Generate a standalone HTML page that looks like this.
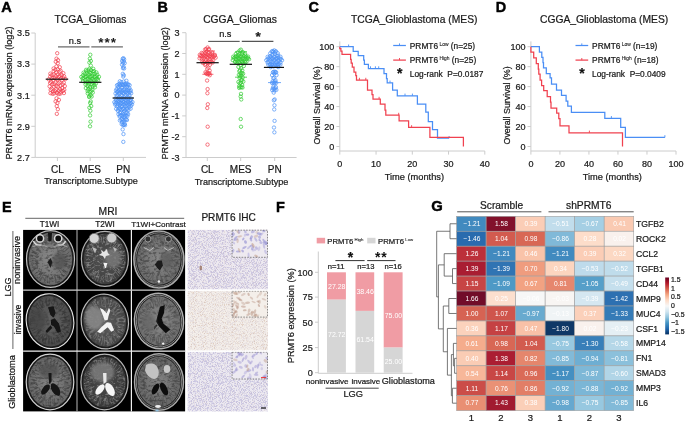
<!DOCTYPE html>
<html><head><meta charset="utf-8"><style>
html,body{margin:0;padding:0;background:#fff;}
svg{display:block;font-family:"Liberation Sans", sans-serif;will-change:transform;}
</style></head><body>
<svg width="685" height="421" viewBox="0 0 685 421">
<defs><clipPath id="c00"><rect x="23.1" y="229.9" width="53.40" height="59.80"/></clipPath>
<clipPath id="c10"><rect x="77.5" y="229.9" width="53.40" height="59.80"/></clipPath>
<clipPath id="c20"><rect x="131.9" y="229.9" width="53.20" height="59.80"/></clipPath>
<clipPath id="c01"><rect x="23.1" y="290.7" width="53.40" height="60.00"/></clipPath>
<clipPath id="c11"><rect x="77.5" y="290.7" width="53.40" height="60.00"/></clipPath>
<clipPath id="c21"><rect x="131.9" y="290.7" width="53.20" height="60.00"/></clipPath>
<clipPath id="c02"><rect x="23.1" y="351.7" width="53.40" height="59.70"/></clipPath>
<clipPath id="c12"><rect x="77.5" y="351.7" width="53.40" height="59.70"/></clipPath>
<clipPath id="c22"><rect x="131.9" y="351.7" width="53.20" height="59.70"/></clipPath>
<clipPath id="ins0"><rect x="231.7" y="229.9" width="36.2" height="27.7"/></clipPath>
<clipPath id="ins1"><rect x="231.7" y="290.8" width="36.2" height="26.6"/></clipPath>
<clipPath id="ins2"><rect x="231.7" y="351.8" width="36.2" height="27.5"/></clipPath>
<filter id="texD" x="0" y="0" width="100%" height="100%"><feTurbulence type="fractalNoise" baseFrequency="0.28 0.4" numOctaves="3" seed="11"/><feColorMatrix type="matrix" values="0 0 0 0 0  0 0 0 0 0  0 0 0 0 0  -4 0 0 0 2.1"/><feComposite in2="SourceGraphic" operator="in"/></filter>
<filter id="texL" x="0" y="0" width="100%" height="100%"><feTurbulence type="fractalNoise" baseFrequency="0.3 0.45" numOctaves="3" seed="4"/><feColorMatrix type="matrix" values="0 0 0 0 1  0 0 0 0 1  0 0 0 0 1  4 0 0 0 -2.1"/><feComposite in2="SourceGraphic" operator="in"/></filter>
<filter id="bl"><feGaussianBlur stdDeviation="0.6"/></filter>
<filter id="mblur" x="-5%" y="-5%" width="110%" height="110%"><feGaussianBlur stdDeviation="0.4"/></filter>
<filter id="bl2"><feGaussianBlur stdDeviation="1.5"/></filter>
<radialGradient id="g00" cx="50%" cy="50%" r="55%"><stop offset="0" stop-color="#8c8c8c"/><stop offset="1" stop-color="#666666"/></radialGradient>
<radialGradient id="g10" cx="50%" cy="50%" r="55%"><stop offset="0" stop-color="#555555"/><stop offset="1" stop-color="#3a3a3a"/></radialGradient>
<radialGradient id="g20" cx="50%" cy="50%" r="55%"><stop offset="0" stop-color="#888888"/><stop offset="1" stop-color="#686868"/></radialGradient>
<radialGradient id="g01" cx="50%" cy="50%" r="55%"><stop offset="0" stop-color="#646464"/><stop offset="1" stop-color="#4c4c4c"/></radialGradient>
<radialGradient id="g11" cx="50%" cy="50%" r="55%"><stop offset="0" stop-color="#5e5e5e"/><stop offset="1" stop-color="#3e3e3e"/></radialGradient>
<radialGradient id="g21" cx="50%" cy="50%" r="55%"><stop offset="0" stop-color="#8c8c8c"/><stop offset="1" stop-color="#6c6c6c"/></radialGradient>
<radialGradient id="g02" cx="50%" cy="50%" r="55%"><stop offset="0" stop-color="#868686"/><stop offset="1" stop-color="#626262"/></radialGradient>
<radialGradient id="g12" cx="50%" cy="50%" r="55%"><stop offset="0" stop-color="#4c4c4c"/><stop offset="1" stop-color="#363636"/></radialGradient>
<radialGradient id="g22" cx="50%" cy="50%" r="55%"><stop offset="0" stop-color="#828282"/><stop offset="1" stop-color="#646464"/></radialGradient>
<linearGradient id="cbar" x1="0" y1="0" x2="0" y2="1"><stop offset="0.00" stop-color="#67001F"/><stop offset="0.10" stop-color="#B2182B"/><stop offset="0.20" stop-color="#D6604D"/><stop offset="0.30" stop-color="#F4A582"/><stop offset="0.40" stop-color="#FDDBC7"/><stop offset="0.50" stop-color="#F7F7F7"/><stop offset="0.60" stop-color="#D1E5F0"/><stop offset="0.70" stop-color="#92C5DE"/><stop offset="0.80" stop-color="#4393C3"/><stop offset="0.90" stop-color="#2166AC"/><stop offset="1.00" stop-color="#053061"/></linearGradient>
<filter id="noise" x="0" y="0" width="100%" height="100%"><feTurbulence type="fractalNoise" baseFrequency="1.2" numOctaves="2" seed="3" result="t"/><feColorMatrix in="t" type="matrix" values="0 0 0 0 0  0 0 0 0 0  0 0 0 0 0  5 0 0 0 -2.2" result="a"/><feComposite in="SourceGraphic" in2="a" operator="in"/><feGaussianBlur stdDeviation="0.25"/></filter>
<filter id="noise3" x="0" y="0" width="100%" height="100%"><feTurbulence type="fractalNoise" baseFrequency="1.1" numOctaves="1" seed="9" result="t"/><feColorMatrix in="t" type="matrix" values="0 0 0 0 0  0 0 0 0 0  0 0 0 0 0  7 0 0 0 -3.9" result="a"/><feComposite in="SourceGraphic" in2="a" operator="in"/><feGaussianBlur stdDeviation="0.25"/></filter>
<filter id="bl05"><feGaussianBlur stdDeviation="0.6"/></filter>
<filter id="noise2" x="0" y="0" width="100%" height="100%"><feTurbulence type="fractalNoise" baseFrequency="0.42 0.3" numOctaves="2" seed="5" result="t"/><feColorMatrix in="t" type="matrix" values="0 0 0 0 0  0 0 0 0 0  0 0 0 0 0  8 0 0 0 -4.4" result="a"/><feComposite in="SourceGraphic" in2="a" operator="in"/></filter>
</defs>
<rect width="685" height="421" fill="#fff"/>
<text x="1.20" y="12.20" font-size="14.6" text-anchor="start" font-weight="bold" fill="#000" stroke="#000" stroke-width="0.45">A</text>
<text x="90.50" y="23.00" font-size="10.25" text-anchor="middle" fill="#1a1a1a" stroke="#1a1a1a" stroke-width="0.22">TCGA_Gliomas</text>
<line x1="35.20" y1="33.00" x2="35.20" y2="157.40" stroke="#cccccc" stroke-width="1"/>
<line x1="35.20" y1="157.40" x2="146.00" y2="157.40" stroke="#cccccc" stroke-width="1"/>
<line x1="31.30" y1="33.00" x2="35.20" y2="33.00" stroke="#cccccc" stroke-width="1"/>
<text x="29.70" y="36.30" font-size="9.06" text-anchor="end" fill="#1a1a1a" stroke="#1a1a1a" stroke-width="0.22">3.5</text>
<line x1="31.30" y1="64.10" x2="35.20" y2="64.10" stroke="#cccccc" stroke-width="1"/>
<text x="29.70" y="67.40" font-size="9.06" text-anchor="end" fill="#1a1a1a" stroke="#1a1a1a" stroke-width="0.22">3.3</text>
<line x1="31.30" y1="95.20" x2="35.20" y2="95.20" stroke="#cccccc" stroke-width="1"/>
<text x="29.70" y="98.50" font-size="9.06" text-anchor="end" fill="#1a1a1a" stroke="#1a1a1a" stroke-width="0.22">3.1</text>
<line x1="31.30" y1="126.30" x2="35.20" y2="126.30" stroke="#cccccc" stroke-width="1"/>
<text x="29.70" y="129.60" font-size="9.06" text-anchor="end" fill="#1a1a1a" stroke="#1a1a1a" stroke-width="0.22">2.9</text>
<line x1="31.30" y1="157.40" x2="35.20" y2="157.40" stroke="#cccccc" stroke-width="1"/>
<text x="29.70" y="160.70" font-size="9.06" text-anchor="end" fill="#1a1a1a" stroke="#1a1a1a" stroke-width="0.22">2.7</text>
<line x1="57.40" y1="157.40" x2="57.40" y2="161.00" stroke="#cccccc" stroke-width="1"/>
<text x="57.40" y="172.80" font-size="10" text-anchor="middle" fill="#1a1a1a" stroke="#1a1a1a" stroke-width="0.22">CL</text>
<line x1="90.20" y1="157.40" x2="90.20" y2="161.00" stroke="#cccccc" stroke-width="1"/>
<text x="90.20" y="172.80" font-size="10" text-anchor="middle" fill="#1a1a1a" stroke="#1a1a1a" stroke-width="0.22">MES</text>
<line x1="123.30" y1="157.40" x2="123.30" y2="161.00" stroke="#cccccc" stroke-width="1"/>
<text x="123.30" y="172.80" font-size="10" text-anchor="middle" fill="#1a1a1a" stroke="#1a1a1a" stroke-width="0.22">PN</text>
<text x="91.00" y="184.30" font-size="9.1" text-anchor="middle" fill="#1a1a1a" stroke="#1a1a1a" stroke-width="0.22">Transcriptome.Subtype</text>
<text x="12.20" y="93.00" font-size="9.2" text-anchor="middle" fill="#1a1a1a" stroke="#1a1a1a" stroke-width="0.22" transform="rotate(-90 12.2 93.0)">PRMT6 mRNA expression (log2)</text>
<line x1="58.00" y1="46.90" x2="89.50" y2="46.90" stroke="#555" stroke-width="1.1"/>
<line x1="91.30" y1="46.90" x2="122.90" y2="46.90" stroke="#555" stroke-width="1.1"/>
<text x="74.90" y="43.50" font-size="9.2" text-anchor="middle" fill="#1a1a1a" stroke="#1a1a1a" stroke-width="0.22">n.s</text>
<text x="98.3" y="46.75" font-size="13.5" font-weight="bold" letter-spacing="1" fill="#1a1a1a">***</text>
<circle cx="57.20" cy="53.22" r="1.7" fill="none" stroke="#f2404f" stroke-width="0.72"/>
<circle cx="56.50" cy="58.66" r="1.7" fill="none" stroke="#f2404f" stroke-width="0.72"/>
<circle cx="58.04" cy="60.21" r="1.7" fill="none" stroke="#f2404f" stroke-width="0.72"/>
<circle cx="55.77" cy="61.77" r="1.7" fill="none" stroke="#f2404f" stroke-width="0.72"/>
<circle cx="57.74" cy="63.32" r="1.7" fill="none" stroke="#f2404f" stroke-width="0.72"/>
<circle cx="56.44" cy="66.36" r="1.7" fill="none" stroke="#f2404f" stroke-width="0.72"/>
<circle cx="59.78" cy="67.20" r="1.7" fill="none" stroke="#f2404f" stroke-width="0.72"/>
<circle cx="53.62" cy="68.45" r="1.7" fill="none" stroke="#f2404f" stroke-width="0.72"/>
<circle cx="57.78" cy="69.34" r="1.7" fill="none" stroke="#f2404f" stroke-width="0.72"/>
<circle cx="55.36" cy="69.84" r="1.7" fill="none" stroke="#f2404f" stroke-width="0.72"/>
<circle cx="60.64" cy="70.77" r="1.7" fill="none" stroke="#f2404f" stroke-width="0.72"/>
<circle cx="53.63" cy="71.09" r="1.7" fill="none" stroke="#f2404f" stroke-width="0.72"/>
<circle cx="59.50" cy="71.73" r="1.7" fill="none" stroke="#f2404f" stroke-width="0.72"/>
<circle cx="56.39" cy="72.30" r="1.7" fill="none" stroke="#f2404f" stroke-width="0.72"/>
<circle cx="63.38" cy="73.21" r="1.7" fill="none" stroke="#f2404f" stroke-width="0.72"/>
<circle cx="50.34" cy="73.65" r="1.7" fill="none" stroke="#f2404f" stroke-width="0.72"/>
<circle cx="57.68" cy="74.45" r="1.7" fill="none" stroke="#f2404f" stroke-width="0.72"/>
<circle cx="53.78" cy="74.55" r="1.7" fill="none" stroke="#f2404f" stroke-width="0.72"/>
<circle cx="61.68" cy="74.86" r="1.7" fill="none" stroke="#f2404f" stroke-width="0.72"/>
<circle cx="51.65" cy="75.10" r="1.7" fill="none" stroke="#f2404f" stroke-width="0.72"/>
<circle cx="59.81" cy="75.78" r="1.7" fill="none" stroke="#f2404f" stroke-width="0.72"/>
<circle cx="55.62" cy="75.97" r="1.7" fill="none" stroke="#f2404f" stroke-width="0.72"/>
<circle cx="64.12" cy="76.32" r="1.7" fill="none" stroke="#f2404f" stroke-width="0.72"/>
<circle cx="50.21" cy="76.66" r="1.7" fill="none" stroke="#f2404f" stroke-width="0.72"/>
<circle cx="58.82" cy="76.83" r="1.7" fill="none" stroke="#f2404f" stroke-width="0.72"/>
<circle cx="54.45" cy="77.90" r="1.7" fill="none" stroke="#f2404f" stroke-width="0.72"/>
<circle cx="63.24" cy="78.02" r="1.7" fill="none" stroke="#f2404f" stroke-width="0.72"/>
<circle cx="52.25" cy="78.15" r="1.7" fill="none" stroke="#f2404f" stroke-width="0.72"/>
<circle cx="61.05" cy="78.23" r="1.7" fill="none" stroke="#f2404f" stroke-width="0.72"/>
<circle cx="56.65" cy="78.72" r="1.7" fill="none" stroke="#f2404f" stroke-width="0.72"/>
<circle cx="65.44" cy="79.02" r="1.7" fill="none" stroke="#f2404f" stroke-width="0.72"/>
<circle cx="48.71" cy="79.37" r="1.7" fill="none" stroke="#f2404f" stroke-width="0.72"/>
<circle cx="57.47" cy="79.68" r="1.7" fill="none" stroke="#f2404f" stroke-width="0.72"/>
<circle cx="53.13" cy="80.13" r="1.7" fill="none" stroke="#f2404f" stroke-width="0.72"/>
<circle cx="61.81" cy="80.21" r="1.7" fill="none" stroke="#f2404f" stroke-width="0.72"/>
<circle cx="51.09" cy="81.81" r="1.7" fill="none" stroke="#f2404f" stroke-width="0.72"/>
<circle cx="59.57" cy="82.39" r="1.7" fill="none" stroke="#f2404f" stroke-width="0.72"/>
<circle cx="55.36" cy="82.57" r="1.7" fill="none" stroke="#f2404f" stroke-width="0.72"/>
<circle cx="63.78" cy="82.66" r="1.7" fill="none" stroke="#f2404f" stroke-width="0.72"/>
<circle cx="50.12" cy="83.17" r="1.7" fill="none" stroke="#f2404f" stroke-width="0.72"/>
<circle cx="58.51" cy="83.48" r="1.7" fill="none" stroke="#f2404f" stroke-width="0.72"/>
<circle cx="54.33" cy="84.20" r="1.7" fill="none" stroke="#f2404f" stroke-width="0.72"/>
<circle cx="62.68" cy="84.40" r="1.7" fill="none" stroke="#f2404f" stroke-width="0.72"/>
<circle cx="52.24" cy="84.41" r="1.7" fill="none" stroke="#f2404f" stroke-width="0.72"/>
<circle cx="60.59" cy="85.63" r="1.7" fill="none" stroke="#f2404f" stroke-width="0.72"/>
<circle cx="56.42" cy="85.92" r="1.7" fill="none" stroke="#f2404f" stroke-width="0.72"/>
<circle cx="64.78" cy="86.09" r="1.7" fill="none" stroke="#f2404f" stroke-width="0.72"/>
<circle cx="49.62" cy="86.34" r="1.7" fill="none" stroke="#f2404f" stroke-width="0.72"/>
<circle cx="57.99" cy="86.64" r="1.7" fill="none" stroke="#f2404f" stroke-width="0.72"/>
<circle cx="53.80" cy="86.69" r="1.7" fill="none" stroke="#f2404f" stroke-width="0.72"/>
<circle cx="62.20" cy="87.99" r="1.7" fill="none" stroke="#f2404f" stroke-width="0.72"/>
<circle cx="51.67" cy="88.60" r="1.7" fill="none" stroke="#f2404f" stroke-width="0.72"/>
<circle cx="60.09" cy="89.11" r="1.7" fill="none" stroke="#f2404f" stroke-width="0.72"/>
<circle cx="55.89" cy="89.48" r="1.7" fill="none" stroke="#f2404f" stroke-width="0.72"/>
<circle cx="64.25" cy="89.75" r="1.7" fill="none" stroke="#f2404f" stroke-width="0.72"/>
<circle cx="50.68" cy="89.86" r="1.7" fill="none" stroke="#f2404f" stroke-width="0.72"/>
<circle cx="58.98" cy="90.74" r="1.7" fill="none" stroke="#f2404f" stroke-width="0.72"/>
<circle cx="54.92" cy="90.94" r="1.7" fill="none" stroke="#f2404f" stroke-width="0.72"/>
<circle cx="62.99" cy="91.04" r="1.7" fill="none" stroke="#f2404f" stroke-width="0.72"/>
<circle cx="53.02" cy="91.54" r="1.7" fill="none" stroke="#f2404f" stroke-width="0.72"/>
<circle cx="60.85" cy="91.72" r="1.7" fill="none" stroke="#f2404f" stroke-width="0.72"/>
<circle cx="56.97" cy="92.52" r="1.7" fill="none" stroke="#f2404f" stroke-width="0.72"/>
<circle cx="63.93" cy="93.06" r="1.7" fill="none" stroke="#f2404f" stroke-width="0.72"/>
<circle cx="50.42" cy="93.14" r="1.7" fill="none" stroke="#f2404f" stroke-width="0.72"/>
<circle cx="57.31" cy="93.34" r="1.7" fill="none" stroke="#f2404f" stroke-width="0.72"/>
<circle cx="53.98" cy="93.44" r="1.7" fill="none" stroke="#f2404f" stroke-width="0.72"/>
<circle cx="60.61" cy="93.49" r="1.7" fill="none" stroke="#f2404f" stroke-width="0.72"/>
<circle cx="52.55" cy="93.82" r="1.7" fill="none" stroke="#f2404f" stroke-width="0.72"/>
<circle cx="58.82" cy="94.09" r="1.7" fill="none" stroke="#f2404f" stroke-width="0.72"/>
<circle cx="56.54" cy="98.31" r="1.7" fill="none" stroke="#f2404f" stroke-width="0.72"/>
<circle cx="58.90" cy="99.87" r="1.7" fill="none" stroke="#f2404f" stroke-width="0.72"/>
<circle cx="55.57" cy="101.42" r="1.7" fill="none" stroke="#f2404f" stroke-width="0.72"/>
<circle cx="57.43" cy="102.98" r="1.7" fill="none" stroke="#f2404f" stroke-width="0.72"/>
<circle cx="56.74" cy="106.09" r="1.7" fill="none" stroke="#f2404f" stroke-width="0.72"/>
<circle cx="57.83" cy="109.20" r="1.7" fill="none" stroke="#f2404f" stroke-width="0.72"/>
<circle cx="56.83" cy="113.86" r="1.7" fill="none" stroke="#f2404f" stroke-width="0.72"/>
<circle cx="90.30" cy="54.77" r="1.7" fill="none" stroke="#33cc33" stroke-width="0.72"/>
<circle cx="89.85" cy="58.66" r="1.7" fill="none" stroke="#33cc33" stroke-width="0.72"/>
<circle cx="90.84" cy="60.99" r="1.7" fill="none" stroke="#33cc33" stroke-width="0.72"/>
<circle cx="89.39" cy="62.55" r="1.7" fill="none" stroke="#33cc33" stroke-width="0.72"/>
<circle cx="90.79" cy="65.57" r="1.7" fill="none" stroke="#33cc33" stroke-width="0.72"/>
<circle cx="89.33" cy="68.69" r="1.7" fill="none" stroke="#33cc33" stroke-width="0.72"/>
<circle cx="93.27" cy="68.81" r="1.7" fill="none" stroke="#33cc33" stroke-width="0.72"/>
<circle cx="86.11" cy="69.81" r="1.7" fill="none" stroke="#33cc33" stroke-width="0.72"/>
<circle cx="90.92" cy="69.98" r="1.7" fill="none" stroke="#33cc33" stroke-width="0.72"/>
<circle cx="88.35" cy="70.28" r="1.7" fill="none" stroke="#33cc33" stroke-width="0.72"/>
<circle cx="94.02" cy="71.18" r="1.7" fill="none" stroke="#33cc33" stroke-width="0.72"/>
<circle cx="86.55" cy="71.24" r="1.7" fill="none" stroke="#33cc33" stroke-width="0.72"/>
<circle cx="92.60" cy="71.40" r="1.7" fill="none" stroke="#33cc33" stroke-width="0.72"/>
<circle cx="89.44" cy="72.30" r="1.7" fill="none" stroke="#33cc33" stroke-width="0.72"/>
<circle cx="96.41" cy="72.43" r="1.7" fill="none" stroke="#33cc33" stroke-width="0.72"/>
<circle cx="83.60" cy="72.64" r="1.7" fill="none" stroke="#33cc33" stroke-width="0.72"/>
<circle cx="90.77" cy="73.11" r="1.7" fill="none" stroke="#33cc33" stroke-width="0.72"/>
<circle cx="86.97" cy="73.28" r="1.7" fill="none" stroke="#33cc33" stroke-width="0.72"/>
<circle cx="94.72" cy="73.61" r="1.7" fill="none" stroke="#33cc33" stroke-width="0.72"/>
<circle cx="84.82" cy="73.78" r="1.7" fill="none" stroke="#33cc33" stroke-width="0.72"/>
<circle cx="92.80" cy="73.85" r="1.7" fill="none" stroke="#33cc33" stroke-width="0.72"/>
<circle cx="88.72" cy="74.53" r="1.7" fill="none" stroke="#33cc33" stroke-width="0.72"/>
<circle cx="97.20" cy="74.66" r="1.7" fill="none" stroke="#33cc33" stroke-width="0.72"/>
<circle cx="83.15" cy="75.27" r="1.7" fill="none" stroke="#33cc33" stroke-width="0.72"/>
<circle cx="92.01" cy="76.15" r="1.7" fill="none" stroke="#33cc33" stroke-width="0.72"/>
<circle cx="87.44" cy="76.29" r="1.7" fill="none" stroke="#33cc33" stroke-width="0.72"/>
<circle cx="96.61" cy="76.39" r="1.7" fill="none" stroke="#33cc33" stroke-width="0.72"/>
<circle cx="85.10" cy="76.71" r="1.7" fill="none" stroke="#33cc33" stroke-width="0.72"/>
<circle cx="94.35" cy="76.73" r="1.7" fill="none" stroke="#33cc33" stroke-width="0.72"/>
<circle cx="89.72" cy="76.75" r="1.7" fill="none" stroke="#33cc33" stroke-width="0.72"/>
<circle cx="98.98" cy="76.81" r="1.7" fill="none" stroke="#33cc33" stroke-width="0.72"/>
<circle cx="81.31" cy="76.91" r="1.7" fill="none" stroke="#33cc33" stroke-width="0.72"/>
<circle cx="90.59" cy="76.95" r="1.7" fill="none" stroke="#33cc33" stroke-width="0.72"/>
<circle cx="85.94" cy="77.09" r="1.7" fill="none" stroke="#33cc33" stroke-width="0.72"/>
<circle cx="95.24" cy="77.17" r="1.7" fill="none" stroke="#33cc33" stroke-width="0.72"/>
<circle cx="83.62" cy="77.83" r="1.7" fill="none" stroke="#33cc33" stroke-width="0.72"/>
<circle cx="92.89" cy="78.43" r="1.7" fill="none" stroke="#33cc33" stroke-width="0.72"/>
<circle cx="88.29" cy="78.52" r="1.7" fill="none" stroke="#33cc33" stroke-width="0.72"/>
<circle cx="97.45" cy="78.68" r="1.7" fill="none" stroke="#33cc33" stroke-width="0.72"/>
<circle cx="82.58" cy="78.68" r="1.7" fill="none" stroke="#33cc33" stroke-width="0.72"/>
<circle cx="91.71" cy="79.05" r="1.7" fill="none" stroke="#33cc33" stroke-width="0.72"/>
<circle cx="87.22" cy="79.29" r="1.7" fill="none" stroke="#33cc33" stroke-width="0.72"/>
<circle cx="96.17" cy="79.34" r="1.7" fill="none" stroke="#33cc33" stroke-width="0.72"/>
<circle cx="85.15" cy="79.98" r="1.7" fill="none" stroke="#33cc33" stroke-width="0.72"/>
<circle cx="93.82" cy="80.02" r="1.7" fill="none" stroke="#33cc33" stroke-width="0.72"/>
<circle cx="89.49" cy="80.10" r="1.7" fill="none" stroke="#33cc33" stroke-width="0.72"/>
<circle cx="98.03" cy="80.27" r="1.7" fill="none" stroke="#33cc33" stroke-width="0.72"/>
<circle cx="82.92" cy="81.00" r="1.7" fill="none" stroke="#33cc33" stroke-width="0.72"/>
<circle cx="91.05" cy="81.20" r="1.7" fill="none" stroke="#33cc33" stroke-width="0.72"/>
<circle cx="87.30" cy="82.25" r="1.7" fill="none" stroke="#33cc33" stroke-width="0.72"/>
<circle cx="94.65" cy="82.36" r="1.7" fill="none" stroke="#33cc33" stroke-width="0.72"/>
<circle cx="85.49" cy="82.37" r="1.7" fill="none" stroke="#33cc33" stroke-width="0.72"/>
<circle cx="92.78" cy="82.57" r="1.7" fill="none" stroke="#33cc33" stroke-width="0.72"/>
<circle cx="89.18" cy="82.64" r="1.7" fill="none" stroke="#33cc33" stroke-width="0.72"/>
<circle cx="95.90" cy="83.52" r="1.7" fill="none" stroke="#33cc33" stroke-width="0.72"/>
<circle cx="85.51" cy="84.43" r="1.7" fill="none" stroke="#33cc33" stroke-width="0.72"/>
<circle cx="91.63" cy="84.53" r="1.7" fill="none" stroke="#33cc33" stroke-width="0.72"/>
<circle cx="88.61" cy="84.66" r="1.7" fill="none" stroke="#33cc33" stroke-width="0.72"/>
<circle cx="94.37" cy="85.33" r="1.7" fill="none" stroke="#33cc33" stroke-width="0.72"/>
<circle cx="87.49" cy="86.13" r="1.7" fill="none" stroke="#33cc33" stroke-width="0.72"/>
<circle cx="92.74" cy="86.35" r="1.7" fill="none" stroke="#33cc33" stroke-width="0.72"/>
<circle cx="90.14" cy="86.93" r="1.7" fill="none" stroke="#33cc33" stroke-width="0.72"/>
<circle cx="94.96" cy="87.32" r="1.7" fill="none" stroke="#33cc33" stroke-width="0.72"/>
<circle cx="85.83" cy="88.05" r="1.7" fill="none" stroke="#33cc33" stroke-width="0.72"/>
<circle cx="90.37" cy="88.73" r="1.7" fill="none" stroke="#33cc33" stroke-width="0.72"/>
<circle cx="88.28" cy="89.19" r="1.7" fill="none" stroke="#33cc33" stroke-width="0.72"/>
<circle cx="92.34" cy="89.91" r="1.7" fill="none" stroke="#33cc33" stroke-width="0.72"/>
<circle cx="87.65" cy="91.07" r="1.7" fill="none" stroke="#33cc33" stroke-width="0.72"/>
<circle cx="91.24" cy="91.40" r="1.7" fill="none" stroke="#33cc33" stroke-width="0.72"/>
<circle cx="89.51" cy="91.93" r="1.7" fill="none" stroke="#33cc33" stroke-width="0.72"/>
<circle cx="92.76" cy="92.54" r="1.7" fill="none" stroke="#33cc33" stroke-width="0.72"/>
<circle cx="87.74" cy="93.40" r="1.7" fill="none" stroke="#33cc33" stroke-width="0.72"/>
<circle cx="90.65" cy="95.29" r="1.7" fill="none" stroke="#33cc33" stroke-width="0.72"/>
<circle cx="89.49" cy="95.98" r="1.7" fill="none" stroke="#33cc33" stroke-width="0.72"/>
<circle cx="91.65" cy="96.55" r="1.7" fill="none" stroke="#33cc33" stroke-width="0.72"/>
<circle cx="89.09" cy="97.00" r="1.7" fill="none" stroke="#33cc33" stroke-width="0.72"/>
<circle cx="90.76" cy="101.42" r="1.7" fill="none" stroke="#33cc33" stroke-width="0.72"/>
<circle cx="90.18" cy="102.98" r="1.7" fill="none" stroke="#33cc33" stroke-width="0.72"/>
<circle cx="91.21" cy="106.09" r="1.7" fill="none" stroke="#33cc33" stroke-width="0.72"/>
<circle cx="89.41" cy="107.64" r="1.7" fill="none" stroke="#33cc33" stroke-width="0.72"/>
<circle cx="90.36" cy="110.75" r="1.7" fill="none" stroke="#33cc33" stroke-width="0.72"/>
<circle cx="90.09" cy="115.41" r="1.7" fill="none" stroke="#33cc33" stroke-width="0.72"/>
<circle cx="90.57" cy="121.64" r="1.7" fill="none" stroke="#33cc33" stroke-width="0.72"/>
<circle cx="90.02" cy="126.30" r="1.7" fill="none" stroke="#33cc33" stroke-width="0.72"/>
<circle cx="123.40" cy="58.19" r="1.7" fill="none" stroke="#4d92f6" stroke-width="0.72"/>
<circle cx="122.72" cy="58.89" r="1.7" fill="none" stroke="#4d92f6" stroke-width="0.72"/>
<circle cx="124.12" cy="59.36" r="1.7" fill="none" stroke="#4d92f6" stroke-width="0.72"/>
<circle cx="122.16" cy="61.08" r="1.7" fill="none" stroke="#4d92f6" stroke-width="0.72"/>
<circle cx="123.82" cy="61.52" r="1.7" fill="none" stroke="#4d92f6" stroke-width="0.72"/>
<circle cx="122.98" cy="62.86" r="1.7" fill="none" stroke="#4d92f6" stroke-width="0.72"/>
<circle cx="124.66" cy="63.09" r="1.7" fill="none" stroke="#4d92f6" stroke-width="0.72"/>
<circle cx="122.02" cy="64.60" r="1.7" fill="none" stroke="#4d92f6" stroke-width="0.72"/>
<circle cx="123.57" cy="66.71" r="1.7" fill="none" stroke="#4d92f6" stroke-width="0.72"/>
<circle cx="122.97" cy="68.16" r="1.7" fill="none" stroke="#4d92f6" stroke-width="0.72"/>
<circle cx="124.10" cy="68.45" r="1.7" fill="none" stroke="#4d92f6" stroke-width="0.72"/>
<circle cx="122.84" cy="73.83" r="1.7" fill="none" stroke="#4d92f6" stroke-width="0.72"/>
<circle cx="123.79" cy="75.23" r="1.7" fill="none" stroke="#4d92f6" stroke-width="0.72"/>
<circle cx="123.24" cy="76.59" r="1.7" fill="none" stroke="#4d92f6" stroke-width="0.72"/>
<circle cx="126.37" cy="80.77" r="1.7" fill="none" stroke="#4d92f6" stroke-width="0.72"/>
<circle cx="119.82" cy="81.31" r="1.7" fill="none" stroke="#4d92f6" stroke-width="0.72"/>
<circle cx="123.65" cy="81.50" r="1.7" fill="none" stroke="#4d92f6" stroke-width="0.72"/>
<circle cx="121.43" cy="82.15" r="1.7" fill="none" stroke="#4d92f6" stroke-width="0.72"/>
<circle cx="126.49" cy="83.42" r="1.7" fill="none" stroke="#4d92f6" stroke-width="0.72"/>
<circle cx="119.51" cy="83.66" r="1.7" fill="none" stroke="#4d92f6" stroke-width="0.72"/>
<circle cx="125.24" cy="84.00" r="1.7" fill="none" stroke="#4d92f6" stroke-width="0.72"/>
<circle cx="122.27" cy="84.18" r="1.7" fill="none" stroke="#4d92f6" stroke-width="0.72"/>
<circle cx="128.35" cy="84.32" r="1.7" fill="none" stroke="#4d92f6" stroke-width="0.72"/>
<circle cx="118.34" cy="84.53" r="1.7" fill="none" stroke="#4d92f6" stroke-width="0.72"/>
<circle cx="124.59" cy="84.72" r="1.7" fill="none" stroke="#4d92f6" stroke-width="0.72"/>
<circle cx="121.42" cy="84.73" r="1.7" fill="none" stroke="#4d92f6" stroke-width="0.72"/>
<circle cx="127.79" cy="84.80" r="1.7" fill="none" stroke="#4d92f6" stroke-width="0.72"/>
<circle cx="119.80" cy="84.81" r="1.7" fill="none" stroke="#4d92f6" stroke-width="0.72"/>
<circle cx="126.21" cy="84.85" r="1.7" fill="none" stroke="#4d92f6" stroke-width="0.72"/>
<circle cx="122.99" cy="85.02" r="1.7" fill="none" stroke="#4d92f6" stroke-width="0.72"/>
<circle cx="129.59" cy="85.20" r="1.7" fill="none" stroke="#4d92f6" stroke-width="0.72"/>
<circle cx="116.97" cy="85.26" r="1.7" fill="none" stroke="#4d92f6" stroke-width="0.72"/>
<circle cx="123.61" cy="85.59" r="1.7" fill="none" stroke="#4d92f6" stroke-width="0.72"/>
<circle cx="120.17" cy="85.79" r="1.7" fill="none" stroke="#4d92f6" stroke-width="0.72"/>
<circle cx="127.26" cy="86.71" r="1.7" fill="none" stroke="#4d92f6" stroke-width="0.72"/>
<circle cx="118.18" cy="86.72" r="1.7" fill="none" stroke="#4d92f6" stroke-width="0.72"/>
<circle cx="125.44" cy="86.73" r="1.7" fill="none" stroke="#4d92f6" stroke-width="0.72"/>
<circle cx="121.76" cy="87.43" r="1.7" fill="none" stroke="#4d92f6" stroke-width="0.72"/>
<circle cx="129.45" cy="88.26" r="1.7" fill="none" stroke="#4d92f6" stroke-width="0.72"/>
<circle cx="116.73" cy="88.95" r="1.7" fill="none" stroke="#4d92f6" stroke-width="0.72"/>
<circle cx="124.65" cy="89.46" r="1.7" fill="none" stroke="#4d92f6" stroke-width="0.72"/>
<circle cx="120.65" cy="89.50" r="1.7" fill="none" stroke="#4d92f6" stroke-width="0.72"/>
<circle cx="128.67" cy="89.68" r="1.7" fill="none" stroke="#4d92f6" stroke-width="0.72"/>
<circle cx="118.62" cy="89.73" r="1.7" fill="none" stroke="#4d92f6" stroke-width="0.72"/>
<circle cx="126.68" cy="89.97" r="1.7" fill="none" stroke="#4d92f6" stroke-width="0.72"/>
<circle cx="122.64" cy="90.06" r="1.7" fill="none" stroke="#4d92f6" stroke-width="0.72"/>
<circle cx="130.76" cy="90.32" r="1.7" fill="none" stroke="#4d92f6" stroke-width="0.72"/>
<circle cx="116.03" cy="90.44" r="1.7" fill="none" stroke="#4d92f6" stroke-width="0.72"/>
<circle cx="124.16" cy="90.45" r="1.7" fill="none" stroke="#4d92f6" stroke-width="0.72"/>
<circle cx="120.09" cy="90.53" r="1.7" fill="none" stroke="#4d92f6" stroke-width="0.72"/>
<circle cx="128.24" cy="90.67" r="1.7" fill="none" stroke="#4d92f6" stroke-width="0.72"/>
<circle cx="118.03" cy="91.08" r="1.7" fill="none" stroke="#4d92f6" stroke-width="0.72"/>
<circle cx="126.21" cy="91.42" r="1.7" fill="none" stroke="#4d92f6" stroke-width="0.72"/>
<circle cx="122.12" cy="91.44" r="1.7" fill="none" stroke="#4d92f6" stroke-width="0.72"/>
<circle cx="130.30" cy="91.53" r="1.7" fill="none" stroke="#4d92f6" stroke-width="0.72"/>
<circle cx="117.02" cy="91.94" r="1.7" fill="none" stroke="#4d92f6" stroke-width="0.72"/>
<circle cx="125.18" cy="92.21" r="1.7" fill="none" stroke="#4d92f6" stroke-width="0.72"/>
<circle cx="121.12" cy="92.49" r="1.7" fill="none" stroke="#4d92f6" stroke-width="0.72"/>
<circle cx="129.23" cy="92.65" r="1.7" fill="none" stroke="#4d92f6" stroke-width="0.72"/>
<circle cx="119.10" cy="92.81" r="1.7" fill="none" stroke="#4d92f6" stroke-width="0.72"/>
<circle cx="127.19" cy="92.90" r="1.7" fill="none" stroke="#4d92f6" stroke-width="0.72"/>
<circle cx="123.15" cy="92.95" r="1.7" fill="none" stroke="#4d92f6" stroke-width="0.72"/>
<circle cx="131.18" cy="93.26" r="1.7" fill="none" stroke="#4d92f6" stroke-width="0.72"/>
<circle cx="115.52" cy="93.49" r="1.7" fill="none" stroke="#4d92f6" stroke-width="0.72"/>
<circle cx="123.52" cy="93.75" r="1.7" fill="none" stroke="#4d92f6" stroke-width="0.72"/>
<circle cx="119.55" cy="93.98" r="1.7" fill="none" stroke="#4d92f6" stroke-width="0.72"/>
<circle cx="127.48" cy="94.23" r="1.7" fill="none" stroke="#4d92f6" stroke-width="0.72"/>
<circle cx="117.62" cy="94.56" r="1.7" fill="none" stroke="#4d92f6" stroke-width="0.72"/>
<circle cx="125.49" cy="94.75" r="1.7" fill="none" stroke="#4d92f6" stroke-width="0.72"/>
<circle cx="121.56" cy="94.93" r="1.7" fill="none" stroke="#4d92f6" stroke-width="0.72"/>
<circle cx="129.40" cy="95.03" r="1.7" fill="none" stroke="#4d92f6" stroke-width="0.72"/>
<circle cx="116.67" cy="96.00" r="1.7" fill="none" stroke="#4d92f6" stroke-width="0.72"/>
<circle cx="124.53" cy="97.42" r="1.7" fill="none" stroke="#4d92f6" stroke-width="0.72"/>
<circle cx="120.49" cy="97.54" r="1.7" fill="none" stroke="#4d92f6" stroke-width="0.72"/>
<circle cx="128.59" cy="97.55" r="1.7" fill="none" stroke="#4d92f6" stroke-width="0.72"/>
<circle cx="118.44" cy="97.70" r="1.7" fill="none" stroke="#4d92f6" stroke-width="0.72"/>
<circle cx="126.61" cy="97.95" r="1.7" fill="none" stroke="#4d92f6" stroke-width="0.72"/>
<circle cx="122.50" cy="98.06" r="1.7" fill="none" stroke="#4d92f6" stroke-width="0.72"/>
<circle cx="130.85" cy="98.37" r="1.7" fill="none" stroke="#4d92f6" stroke-width="0.72"/>
<circle cx="115.64" cy="98.50" r="1.7" fill="none" stroke="#4d92f6" stroke-width="0.72"/>
<circle cx="124.07" cy="98.91" r="1.7" fill="none" stroke="#4d92f6" stroke-width="0.72"/>
<circle cx="119.71" cy="99.35" r="1.7" fill="none" stroke="#4d92f6" stroke-width="0.72"/>
<circle cx="128.47" cy="99.42" r="1.7" fill="none" stroke="#4d92f6" stroke-width="0.72"/>
<circle cx="117.50" cy="99.47" r="1.7" fill="none" stroke="#4d92f6" stroke-width="0.72"/>
<circle cx="126.30" cy="99.61" r="1.7" fill="none" stroke="#4d92f6" stroke-width="0.72"/>
<circle cx="121.86" cy="99.97" r="1.7" fill="none" stroke="#4d92f6" stroke-width="0.72"/>
<circle cx="130.88" cy="100.15" r="1.7" fill="none" stroke="#4d92f6" stroke-width="0.72"/>
<circle cx="116.17" cy="100.26" r="1.7" fill="none" stroke="#4d92f6" stroke-width="0.72"/>
<circle cx="125.26" cy="100.55" r="1.7" fill="none" stroke="#4d92f6" stroke-width="0.72"/>
<circle cx="120.67" cy="100.65" r="1.7" fill="none" stroke="#4d92f6" stroke-width="0.72"/>
<circle cx="129.90" cy="100.75" r="1.7" fill="none" stroke="#4d92f6" stroke-width="0.72"/>
<circle cx="118.33" cy="100.85" r="1.7" fill="none" stroke="#4d92f6" stroke-width="0.72"/>
<circle cx="127.65" cy="101.28" r="1.7" fill="none" stroke="#4d92f6" stroke-width="0.72"/>
<circle cx="122.96" cy="101.68" r="1.7" fill="none" stroke="#4d92f6" stroke-width="0.72"/>
<circle cx="132.48" cy="102.11" r="1.7" fill="none" stroke="#4d92f6" stroke-width="0.72"/>
<circle cx="114.32" cy="102.19" r="1.7" fill="none" stroke="#4d92f6" stroke-width="0.72"/>
<circle cx="123.85" cy="102.31" r="1.7" fill="none" stroke="#4d92f6" stroke-width="0.72"/>
<circle cx="119.08" cy="102.35" r="1.7" fill="none" stroke="#4d92f6" stroke-width="0.72"/>
<circle cx="128.62" cy="102.35" r="1.7" fill="none" stroke="#4d92f6" stroke-width="0.72"/>
<circle cx="116.69" cy="102.53" r="1.7" fill="none" stroke="#4d92f6" stroke-width="0.72"/>
<circle cx="126.23" cy="102.91" r="1.7" fill="none" stroke="#4d92f6" stroke-width="0.72"/>
<circle cx="121.46" cy="102.93" r="1.7" fill="none" stroke="#4d92f6" stroke-width="0.72"/>
<circle cx="131.01" cy="102.98" r="1.7" fill="none" stroke="#4d92f6" stroke-width="0.72"/>
<circle cx="115.51" cy="103.23" r="1.7" fill="none" stroke="#4d92f6" stroke-width="0.72"/>
<circle cx="125.04" cy="103.32" r="1.7" fill="none" stroke="#4d92f6" stroke-width="0.72"/>
<circle cx="120.28" cy="103.36" r="1.7" fill="none" stroke="#4d92f6" stroke-width="0.72"/>
<circle cx="129.77" cy="103.57" r="1.7" fill="none" stroke="#4d92f6" stroke-width="0.72"/>
<circle cx="117.96" cy="103.94" r="1.7" fill="none" stroke="#4d92f6" stroke-width="0.72"/>
<circle cx="127.34" cy="104.27" r="1.7" fill="none" stroke="#4d92f6" stroke-width="0.72"/>
<circle cx="122.67" cy="104.30" r="1.7" fill="none" stroke="#4d92f6" stroke-width="0.72"/>
<circle cx="131.97" cy="104.44" r="1.7" fill="none" stroke="#4d92f6" stroke-width="0.72"/>
<circle cx="115.14" cy="104.51" r="1.7" fill="none" stroke="#4d92f6" stroke-width="0.72"/>
<circle cx="124.40" cy="104.83" r="1.7" fill="none" stroke="#4d92f6" stroke-width="0.72"/>
<circle cx="119.88" cy="105.27" r="1.7" fill="none" stroke="#4d92f6" stroke-width="0.72"/>
<circle cx="128.88" cy="105.30" r="1.7" fill="none" stroke="#4d92f6" stroke-width="0.72"/>
<circle cx="117.67" cy="105.41" r="1.7" fill="none" stroke="#4d92f6" stroke-width="0.72"/>
<circle cx="126.58" cy="105.62" r="1.7" fill="none" stroke="#4d92f6" stroke-width="0.72"/>
<circle cx="122.19" cy="106.12" r="1.7" fill="none" stroke="#4d92f6" stroke-width="0.72"/>
<circle cx="130.80" cy="106.17" r="1.7" fill="none" stroke="#4d92f6" stroke-width="0.72"/>
<circle cx="116.86" cy="106.32" r="1.7" fill="none" stroke="#4d92f6" stroke-width="0.72"/>
<circle cx="125.38" cy="106.54" r="1.7" fill="none" stroke="#4d92f6" stroke-width="0.72"/>
<circle cx="121.18" cy="106.71" r="1.7" fill="none" stroke="#4d92f6" stroke-width="0.72"/>
<circle cx="129.34" cy="107.23" r="1.7" fill="none" stroke="#4d92f6" stroke-width="0.72"/>
<circle cx="119.40" cy="107.88" r="1.7" fill="none" stroke="#4d92f6" stroke-width="0.72"/>
<circle cx="127.05" cy="108.29" r="1.7" fill="none" stroke="#4d92f6" stroke-width="0.72"/>
<circle cx="123.29" cy="108.66" r="1.7" fill="none" stroke="#4d92f6" stroke-width="0.72"/>
<circle cx="130.63" cy="108.67" r="1.7" fill="none" stroke="#4d92f6" stroke-width="0.72"/>
<circle cx="116.18" cy="108.79" r="1.7" fill="none" stroke="#4d92f6" stroke-width="0.72"/>
<circle cx="123.46" cy="109.10" r="1.7" fill="none" stroke="#4d92f6" stroke-width="0.72"/>
<circle cx="119.91" cy="109.17" r="1.7" fill="none" stroke="#4d92f6" stroke-width="0.72"/>
<circle cx="126.99" cy="109.23" r="1.7" fill="none" stroke="#4d92f6" stroke-width="0.72"/>
<circle cx="118.19" cy="109.33" r="1.7" fill="none" stroke="#4d92f6" stroke-width="0.72"/>
<circle cx="125.17" cy="109.65" r="1.7" fill="none" stroke="#4d92f6" stroke-width="0.72"/>
<circle cx="121.74" cy="109.68" r="1.7" fill="none" stroke="#4d92f6" stroke-width="0.72"/>
<circle cx="128.47" cy="110.03" r="1.7" fill="none" stroke="#4d92f6" stroke-width="0.72"/>
<circle cx="117.91" cy="110.87" r="1.7" fill="none" stroke="#4d92f6" stroke-width="0.72"/>
<circle cx="124.22" cy="111.19" r="1.7" fill="none" stroke="#4d92f6" stroke-width="0.72"/>
<circle cx="121.27" cy="112.40" r="1.7" fill="none" stroke="#4d92f6" stroke-width="0.72"/>
<circle cx="127.04" cy="112.58" r="1.7" fill="none" stroke="#4d92f6" stroke-width="0.72"/>
<circle cx="119.88" cy="112.72" r="1.7" fill="none" stroke="#4d92f6" stroke-width="0.72"/>
<circle cx="125.54" cy="113.13" r="1.7" fill="none" stroke="#4d92f6" stroke-width="0.72"/>
<circle cx="122.75" cy="113.43" r="1.7" fill="none" stroke="#4d92f6" stroke-width="0.72"/>
<circle cx="128.11" cy="114.09" r="1.7" fill="none" stroke="#4d92f6" stroke-width="0.72"/>
<circle cx="118.45" cy="114.17" r="1.7" fill="none" stroke="#4d92f6" stroke-width="0.72"/>
<circle cx="123.76" cy="114.83" r="1.7" fill="none" stroke="#4d92f6" stroke-width="0.72"/>
<circle cx="121.23" cy="115.31" r="1.7" fill="none" stroke="#4d92f6" stroke-width="0.72"/>
<circle cx="126.25" cy="115.50" r="1.7" fill="none" stroke="#4d92f6" stroke-width="0.72"/>
<circle cx="120.01" cy="115.57" r="1.7" fill="none" stroke="#4d92f6" stroke-width="0.72"/>
<circle cx="124.98" cy="115.83" r="1.7" fill="none" stroke="#4d92f6" stroke-width="0.72"/>
<circle cx="122.52" cy="115.95" r="1.7" fill="none" stroke="#4d92f6" stroke-width="0.72"/>
<circle cx="127.41" cy="115.95" r="1.7" fill="none" stroke="#4d92f6" stroke-width="0.72"/>
<circle cx="119.58" cy="116.56" r="1.7" fill="none" stroke="#4d92f6" stroke-width="0.72"/>
<circle cx="124.31" cy="116.89" r="1.7" fill="none" stroke="#4d92f6" stroke-width="0.72"/>
<circle cx="122.16" cy="119.08" r="1.7" fill="none" stroke="#4d92f6" stroke-width="0.72"/>
<circle cx="126.17" cy="119.34" r="1.7" fill="none" stroke="#4d92f6" stroke-width="0.72"/>
<circle cx="121.23" cy="119.60" r="1.7" fill="none" stroke="#4d92f6" stroke-width="0.72"/>
<circle cx="125.12" cy="119.80" r="1.7" fill="none" stroke="#4d92f6" stroke-width="0.72"/>
<circle cx="123.19" cy="120.01" r="1.7" fill="none" stroke="#4d92f6" stroke-width="0.72"/>
<circle cx="126.97" cy="120.06" r="1.7" fill="none" stroke="#4d92f6" stroke-width="0.72"/>
<circle cx="119.88" cy="120.44" r="1.7" fill="none" stroke="#4d92f6" stroke-width="0.72"/>
<circle cx="123.53" cy="121.40" r="1.7" fill="none" stroke="#4d92f6" stroke-width="0.72"/>
<circle cx="121.95" cy="122.04" r="1.7" fill="none" stroke="#4d92f6" stroke-width="0.72"/>
<circle cx="124.77" cy="123.82" r="1.7" fill="none" stroke="#4d92f6" stroke-width="0.72"/>
<circle cx="121.65" cy="124.08" r="1.7" fill="none" stroke="#4d92f6" stroke-width="0.72"/>
<circle cx="124.03" cy="124.85" r="1.7" fill="none" stroke="#4d92f6" stroke-width="0.72"/>
<circle cx="122.96" cy="125.09" r="1.7" fill="none" stroke="#4d92f6" stroke-width="0.72"/>
<circle cx="125.03" cy="125.20" r="1.7" fill="none" stroke="#4d92f6" stroke-width="0.72"/>
<circle cx="122.69" cy="129.41" r="1.7" fill="none" stroke="#4d92f6" stroke-width="0.72"/>
<circle cx="123.46" cy="134.08" r="1.7" fill="none" stroke="#4d92f6" stroke-width="0.72"/>
<circle cx="123.32" cy="141.85" r="1.7" fill="none" stroke="#4d92f6" stroke-width="0.72"/>
<line x1="45.70" y1="79.20" x2="68.20" y2="79.20" stroke="#111" stroke-width="1.2"/>
<line x1="79.20" y1="82.30" x2="101.40" y2="82.30" stroke="#111" stroke-width="1.2"/>
<line x1="112.60" y1="98.00" x2="134.00" y2="98.00" stroke="#111" stroke-width="1.2"/>
<text x="157.50" y="12.00" font-size="14.4" text-anchor="start" font-weight="bold" fill="#000" stroke="#000" stroke-width="0.45">B</text>
<text x="240.10" y="22.80" font-size="10.3" text-anchor="middle" fill="#1a1a1a" stroke="#1a1a1a" stroke-width="0.22">CGGA_Gliomas</text>
<line x1="186.00" y1="32.80" x2="186.00" y2="157.50" stroke="#cccccc" stroke-width="1"/>
<line x1="186.00" y1="157.50" x2="296.60" y2="157.50" stroke="#cccccc" stroke-width="1"/>
<line x1="182.20" y1="32.70" x2="186.00" y2="32.70" stroke="#cccccc" stroke-width="1"/>
<text x="179.60" y="36.00" font-size="9.06" text-anchor="end" fill="#1a1a1a" stroke="#1a1a1a" stroke-width="0.22">3</text>
<line x1="182.20" y1="53.50" x2="186.00" y2="53.50" stroke="#cccccc" stroke-width="1"/>
<text x="179.60" y="56.80" font-size="9.06" text-anchor="end" fill="#1a1a1a" stroke="#1a1a1a" stroke-width="0.22">2</text>
<line x1="182.20" y1="74.30" x2="186.00" y2="74.30" stroke="#cccccc" stroke-width="1"/>
<text x="179.60" y="77.60" font-size="9.06" text-anchor="end" fill="#1a1a1a" stroke="#1a1a1a" stroke-width="0.22">1</text>
<line x1="182.20" y1="95.10" x2="186.00" y2="95.10" stroke="#cccccc" stroke-width="1"/>
<text x="179.60" y="98.40" font-size="9.06" text-anchor="end" fill="#1a1a1a" stroke="#1a1a1a" stroke-width="0.22">0</text>
<line x1="182.20" y1="115.90" x2="186.00" y2="115.90" stroke="#cccccc" stroke-width="1"/>
<text x="179.60" y="119.20" font-size="9.06" text-anchor="end" fill="#1a1a1a" stroke="#1a1a1a" stroke-width="0.22">-1</text>
<line x1="182.20" y1="136.70" x2="186.00" y2="136.70" stroke="#cccccc" stroke-width="1"/>
<text x="179.60" y="140.00" font-size="9.06" text-anchor="end" fill="#1a1a1a" stroke="#1a1a1a" stroke-width="0.22">-2</text>
<line x1="182.20" y1="157.50" x2="186.00" y2="157.50" stroke="#cccccc" stroke-width="1"/>
<text x="179.60" y="160.80" font-size="9.06" text-anchor="end" fill="#1a1a1a" stroke="#1a1a1a" stroke-width="0.22">-3</text>
<line x1="207.30" y1="157.50" x2="207.30" y2="161.00" stroke="#cccccc" stroke-width="1"/>
<text x="207.30" y="172.80" font-size="10" text-anchor="middle" fill="#1a1a1a" stroke="#1a1a1a" stroke-width="0.22">CL</text>
<line x1="240.70" y1="157.50" x2="240.70" y2="161.00" stroke="#cccccc" stroke-width="1"/>
<text x="240.70" y="172.80" font-size="10" text-anchor="middle" fill="#1a1a1a" stroke="#1a1a1a" stroke-width="0.22">MES</text>
<line x1="274.70" y1="157.50" x2="274.70" y2="161.00" stroke="#cccccc" stroke-width="1"/>
<text x="274.70" y="172.80" font-size="10" text-anchor="middle" fill="#1a1a1a" stroke="#1a1a1a" stroke-width="0.22">PN</text>
<text x="241.50" y="184.50" font-size="9.1" text-anchor="middle" fill="#1a1a1a" stroke="#1a1a1a" stroke-width="0.22">Transcriptome.Subtype</text>
<text x="167.70" y="93.30" font-size="9.15" text-anchor="middle" fill="#1a1a1a" stroke="#1a1a1a" stroke-width="0.22" transform="rotate(-90 167.7 93.3)">PRMT6 mRNA expression (log2)</text>
<line x1="208.20" y1="41.40" x2="239.70" y2="41.40" stroke="#555" stroke-width="1.1"/>
<line x1="241.80" y1="41.40" x2="273.40" y2="41.40" stroke="#555" stroke-width="1.1"/>
<text x="225.30" y="37.30" font-size="9.2" text-anchor="middle" fill="#1a1a1a" stroke="#1a1a1a" stroke-width="0.22">n.s</text>
<text x="258.20" y="41.40" font-size="13.5" text-anchor="middle" font-weight="bold" fill="#1a1a1a" stroke="#1a1a1a" stroke-width="0.22">*</text>
<circle cx="207.60" cy="47.49" r="1.7" fill="none" stroke="#f2404f" stroke-width="0.72"/>
<circle cx="206.12" cy="48.99" r="1.7" fill="none" stroke="#f2404f" stroke-width="0.72"/>
<circle cx="209.10" cy="49.04" r="1.7" fill="none" stroke="#f2404f" stroke-width="0.72"/>
<circle cx="205.03" cy="49.57" r="1.7" fill="none" stroke="#f2404f" stroke-width="0.72"/>
<circle cx="208.48" cy="49.67" r="1.7" fill="none" stroke="#f2404f" stroke-width="0.72"/>
<circle cx="206.30" cy="51.46" r="1.7" fill="none" stroke="#f2404f" stroke-width="0.72"/>
<circle cx="212.22" cy="52.39" r="1.7" fill="none" stroke="#f2404f" stroke-width="0.72"/>
<circle cx="201.74" cy="52.90" r="1.7" fill="none" stroke="#f2404f" stroke-width="0.72"/>
<circle cx="208.44" cy="52.92" r="1.7" fill="none" stroke="#f2404f" stroke-width="0.72"/>
<circle cx="205.00" cy="53.14" r="1.7" fill="none" stroke="#f2404f" stroke-width="0.72"/>
<circle cx="212.20" cy="53.57" r="1.7" fill="none" stroke="#f2404f" stroke-width="0.72"/>
<circle cx="202.97" cy="53.62" r="1.7" fill="none" stroke="#f2404f" stroke-width="0.72"/>
<circle cx="210.49" cy="53.96" r="1.7" fill="none" stroke="#f2404f" stroke-width="0.72"/>
<circle cx="206.63" cy="54.03" r="1.7" fill="none" stroke="#f2404f" stroke-width="0.72"/>
<circle cx="214.92" cy="54.89" r="1.7" fill="none" stroke="#f2404f" stroke-width="0.72"/>
<circle cx="199.76" cy="54.89" r="1.7" fill="none" stroke="#f2404f" stroke-width="0.72"/>
<circle cx="208.13" cy="54.97" r="1.7" fill="none" stroke="#f2404f" stroke-width="0.72"/>
<circle cx="203.86" cy="55.27" r="1.7" fill="none" stroke="#f2404f" stroke-width="0.72"/>
<circle cx="212.45" cy="55.47" r="1.7" fill="none" stroke="#f2404f" stroke-width="0.72"/>
<circle cx="201.67" cy="55.47" r="1.7" fill="none" stroke="#f2404f" stroke-width="0.72"/>
<circle cx="210.32" cy="55.68" r="1.7" fill="none" stroke="#f2404f" stroke-width="0.72"/>
<circle cx="205.96" cy="55.79" r="1.7" fill="none" stroke="#f2404f" stroke-width="0.72"/>
<circle cx="214.72" cy="55.94" r="1.7" fill="none" stroke="#f2404f" stroke-width="0.72"/>
<circle cx="200.46" cy="56.20" r="1.7" fill="none" stroke="#f2404f" stroke-width="0.72"/>
<circle cx="209.25" cy="56.45" r="1.7" fill="none" stroke="#f2404f" stroke-width="0.72"/>
<circle cx="204.85" cy="56.61" r="1.7" fill="none" stroke="#f2404f" stroke-width="0.72"/>
<circle cx="213.65" cy="56.62" r="1.7" fill="none" stroke="#f2404f" stroke-width="0.72"/>
<circle cx="202.66" cy="56.77" r="1.7" fill="none" stroke="#f2404f" stroke-width="0.72"/>
<circle cx="211.42" cy="57.03" r="1.7" fill="none" stroke="#f2404f" stroke-width="0.72"/>
<circle cx="207.06" cy="57.16" r="1.7" fill="none" stroke="#f2404f" stroke-width="0.72"/>
<circle cx="215.65" cy="57.57" r="1.7" fill="none" stroke="#f2404f" stroke-width="0.72"/>
<circle cx="199.56" cy="58.25" r="1.7" fill="none" stroke="#f2404f" stroke-width="0.72"/>
<circle cx="207.86" cy="58.37" r="1.7" fill="none" stroke="#f2404f" stroke-width="0.72"/>
<circle cx="203.75" cy="58.41" r="1.7" fill="none" stroke="#f2404f" stroke-width="0.72"/>
<circle cx="211.94" cy="58.52" r="1.7" fill="none" stroke="#f2404f" stroke-width="0.72"/>
<circle cx="201.80" cy="58.70" r="1.7" fill="none" stroke="#f2404f" stroke-width="0.72"/>
<circle cx="209.81" cy="59.05" r="1.7" fill="none" stroke="#f2404f" stroke-width="0.72"/>
<circle cx="205.99" cy="59.87" r="1.7" fill="none" stroke="#f2404f" stroke-width="0.72"/>
<circle cx="213.26" cy="60.07" r="1.7" fill="none" stroke="#f2404f" stroke-width="0.72"/>
<circle cx="202.22" cy="61.40" r="1.7" fill="none" stroke="#f2404f" stroke-width="0.72"/>
<circle cx="208.58" cy="61.58" r="1.7" fill="none" stroke="#f2404f" stroke-width="0.72"/>
<circle cx="205.48" cy="61.71" r="1.7" fill="none" stroke="#f2404f" stroke-width="0.72"/>
<circle cx="211.60" cy="61.81" r="1.7" fill="none" stroke="#f2404f" stroke-width="0.72"/>
<circle cx="204.17" cy="62.28" r="1.7" fill="none" stroke="#f2404f" stroke-width="0.72"/>
<circle cx="209.93" cy="62.33" r="1.7" fill="none" stroke="#f2404f" stroke-width="0.72"/>
<circle cx="207.07" cy="62.43" r="1.7" fill="none" stroke="#f2404f" stroke-width="0.72"/>
<circle cx="212.62" cy="62.60" r="1.7" fill="none" stroke="#f2404f" stroke-width="0.72"/>
<circle cx="202.81" cy="62.94" r="1.7" fill="none" stroke="#f2404f" stroke-width="0.72"/>
<circle cx="208.08" cy="63.15" r="1.7" fill="none" stroke="#f2404f" stroke-width="0.72"/>
<circle cx="205.79" cy="64.04" r="1.7" fill="none" stroke="#f2404f" stroke-width="0.72"/>
<circle cx="209.91" cy="64.79" r="1.7" fill="none" stroke="#f2404f" stroke-width="0.72"/>
<circle cx="205.19" cy="65.08" r="1.7" fill="none" stroke="#f2404f" stroke-width="0.72"/>
<circle cx="208.40" cy="67.78" r="1.7" fill="none" stroke="#f2404f" stroke-width="0.72"/>
<circle cx="207.25" cy="68.86" r="1.7" fill="none" stroke="#f2404f" stroke-width="0.72"/>
<circle cx="209.65" cy="70.60" r="1.7" fill="none" stroke="#f2404f" stroke-width="0.72"/>
<circle cx="205.47" cy="72.22" r="1.7" fill="none" stroke="#f2404f" stroke-width="0.72"/>
<circle cx="208.20" cy="73.17" r="1.7" fill="none" stroke="#f2404f" stroke-width="0.72"/>
<circle cx="206.83" cy="73.39" r="1.7" fill="none" stroke="#f2404f" stroke-width="0.72"/>
<circle cx="209.56" cy="73.44" r="1.7" fill="none" stroke="#f2404f" stroke-width="0.72"/>
<circle cx="206.15" cy="73.53" r="1.7" fill="none" stroke="#f2404f" stroke-width="0.72"/>
<circle cx="208.86" cy="73.78" r="1.7" fill="none" stroke="#f2404f" stroke-width="0.72"/>
<circle cx="207.52" cy="74.23" r="1.7" fill="none" stroke="#f2404f" stroke-width="0.72"/>
<circle cx="209.80" cy="75.23" r="1.7" fill="none" stroke="#f2404f" stroke-width="0.72"/>
<circle cx="207.10" cy="80.54" r="1.7" fill="none" stroke="#f2404f" stroke-width="0.72"/>
<circle cx="207.61" cy="89.07" r="1.7" fill="none" stroke="#f2404f" stroke-width="0.72"/>
<circle cx="207.40" cy="93.23" r="1.7" fill="none" stroke="#f2404f" stroke-width="0.72"/>
<circle cx="207.83" cy="104.25" r="1.7" fill="none" stroke="#f2404f" stroke-width="0.72"/>
<circle cx="207.27" cy="108.00" r="1.7" fill="none" stroke="#f2404f" stroke-width="0.72"/>
<circle cx="207.68" cy="126.72" r="1.7" fill="none" stroke="#f2404f" stroke-width="0.72"/>
<circle cx="207.53" cy="144.60" r="1.7" fill="none" stroke="#f2404f" stroke-width="0.72"/>
<circle cx="240.90" cy="49.66" r="1.7" fill="none" stroke="#33cc33" stroke-width="0.72"/>
<circle cx="239.64" cy="50.53" r="1.7" fill="none" stroke="#33cc33" stroke-width="0.72"/>
<circle cx="242.86" cy="52.12" r="1.7" fill="none" stroke="#33cc33" stroke-width="0.72"/>
<circle cx="237.78" cy="52.37" r="1.7" fill="none" stroke="#33cc33" stroke-width="0.72"/>
<circle cx="242.19" cy="53.34" r="1.7" fill="none" stroke="#33cc33" stroke-width="0.72"/>
<circle cx="239.52" cy="53.70" r="1.7" fill="none" stroke="#33cc33" stroke-width="0.72"/>
<circle cx="245.08" cy="53.75" r="1.7" fill="none" stroke="#33cc33" stroke-width="0.72"/>
<circle cx="235.75" cy="54.05" r="1.7" fill="none" stroke="#33cc33" stroke-width="0.72"/>
<circle cx="241.64" cy="54.08" r="1.7" fill="none" stroke="#33cc33" stroke-width="0.72"/>
<circle cx="238.17" cy="55.44" r="1.7" fill="none" stroke="#33cc33" stroke-width="0.72"/>
<circle cx="245.51" cy="55.56" r="1.7" fill="none" stroke="#33cc33" stroke-width="0.72"/>
<circle cx="235.98" cy="56.16" r="1.7" fill="none" stroke="#33cc33" stroke-width="0.72"/>
<circle cx="243.87" cy="56.21" r="1.7" fill="none" stroke="#33cc33" stroke-width="0.72"/>
<circle cx="239.88" cy="56.63" r="1.7" fill="none" stroke="#33cc33" stroke-width="0.72"/>
<circle cx="248.08" cy="56.65" r="1.7" fill="none" stroke="#33cc33" stroke-width="0.72"/>
<circle cx="233.17" cy="56.71" r="1.7" fill="none" stroke="#33cc33" stroke-width="0.72"/>
<circle cx="241.42" cy="56.72" r="1.7" fill="none" stroke="#33cc33" stroke-width="0.72"/>
<circle cx="237.23" cy="56.94" r="1.7" fill="none" stroke="#33cc33" stroke-width="0.72"/>
<circle cx="245.70" cy="57.26" r="1.7" fill="none" stroke="#33cc33" stroke-width="0.72"/>
<circle cx="235.02" cy="57.31" r="1.7" fill="none" stroke="#33cc33" stroke-width="0.72"/>
<circle cx="243.63" cy="57.86" r="1.7" fill="none" stroke="#33cc33" stroke-width="0.72"/>
<circle cx="239.26" cy="57.89" r="1.7" fill="none" stroke="#33cc33" stroke-width="0.72"/>
<circle cx="248.03" cy="58.14" r="1.7" fill="none" stroke="#33cc33" stroke-width="0.72"/>
<circle cx="233.76" cy="58.23" r="1.7" fill="none" stroke="#33cc33" stroke-width="0.72"/>
<circle cx="242.55" cy="58.30" r="1.7" fill="none" stroke="#33cc33" stroke-width="0.72"/>
<circle cx="238.15" cy="58.41" r="1.7" fill="none" stroke="#33cc33" stroke-width="0.72"/>
<circle cx="246.95" cy="58.60" r="1.7" fill="none" stroke="#33cc33" stroke-width="0.72"/>
<circle cx="235.98" cy="59.03" r="1.7" fill="none" stroke="#33cc33" stroke-width="0.72"/>
<circle cx="244.72" cy="59.08" r="1.7" fill="none" stroke="#33cc33" stroke-width="0.72"/>
<circle cx="240.35" cy="59.14" r="1.7" fill="none" stroke="#33cc33" stroke-width="0.72"/>
<circle cx="249.07" cy="59.21" r="1.7" fill="none" stroke="#33cc33" stroke-width="0.72"/>
<circle cx="232.80" cy="60.10" r="1.7" fill="none" stroke="#33cc33" stroke-width="0.72"/>
<circle cx="241.14" cy="61.02" r="1.7" fill="none" stroke="#33cc33" stroke-width="0.72"/>
<circle cx="237.36" cy="61.27" r="1.7" fill="none" stroke="#33cc33" stroke-width="0.72"/>
<circle cx="244.86" cy="61.39" r="1.7" fill="none" stroke="#33cc33" stroke-width="0.72"/>
<circle cx="235.65" cy="61.55" r="1.7" fill="none" stroke="#33cc33" stroke-width="0.72"/>
<circle cx="242.95" cy="61.56" r="1.7" fill="none" stroke="#33cc33" stroke-width="0.72"/>
<circle cx="239.35" cy="61.79" r="1.7" fill="none" stroke="#33cc33" stroke-width="0.72"/>
<circle cx="246.44" cy="61.80" r="1.7" fill="none" stroke="#33cc33" stroke-width="0.72"/>
<circle cx="235.00" cy="61.91" r="1.7" fill="none" stroke="#33cc33" stroke-width="0.72"/>
<circle cx="241.97" cy="62.06" r="1.7" fill="none" stroke="#33cc33" stroke-width="0.72"/>
<circle cx="238.55" cy="62.07" r="1.7" fill="none" stroke="#33cc33" stroke-width="0.72"/>
<circle cx="245.16" cy="62.42" r="1.7" fill="none" stroke="#33cc33" stroke-width="0.72"/>
<circle cx="237.13" cy="62.56" r="1.7" fill="none" stroke="#33cc33" stroke-width="0.72"/>
<circle cx="243.04" cy="63.61" r="1.7" fill="none" stroke="#33cc33" stroke-width="0.72"/>
<circle cx="240.54" cy="65.16" r="1.7" fill="none" stroke="#33cc33" stroke-width="0.72"/>
<circle cx="243.83" cy="66.00" r="1.7" fill="none" stroke="#33cc33" stroke-width="0.72"/>
<circle cx="238.40" cy="66.91" r="1.7" fill="none" stroke="#33cc33" stroke-width="0.72"/>
<circle cx="241.12" cy="68.36" r="1.7" fill="none" stroke="#33cc33" stroke-width="0.72"/>
<circle cx="239.95" cy="70.22" r="1.7" fill="none" stroke="#33cc33" stroke-width="0.72"/>
<circle cx="242.29" cy="70.47" r="1.7" fill="none" stroke="#33cc33" stroke-width="0.72"/>
<circle cx="239.31" cy="71.35" r="1.7" fill="none" stroke="#33cc33" stroke-width="0.72"/>
<circle cx="241.79" cy="73.04" r="1.7" fill="none" stroke="#33cc33" stroke-width="0.72"/>
<circle cx="240.49" cy="73.57" r="1.7" fill="none" stroke="#33cc33" stroke-width="0.72"/>
<circle cx="243.12" cy="73.73" r="1.7" fill="none" stroke="#33cc33" stroke-width="0.72"/>
<circle cx="238.84" cy="74.90" r="1.7" fill="none" stroke="#33cc33" stroke-width="0.72"/>
<circle cx="241.48" cy="75.18" r="1.7" fill="none" stroke="#33cc33" stroke-width="0.72"/>
<circle cx="240.18" cy="76.34" r="1.7" fill="none" stroke="#33cc33" stroke-width="0.72"/>
<circle cx="242.71" cy="77.46" r="1.7" fill="none" stroke="#33cc33" stroke-width="0.72"/>
<circle cx="239.58" cy="77.95" r="1.7" fill="none" stroke="#33cc33" stroke-width="0.72"/>
<circle cx="242.06" cy="80.05" r="1.7" fill="none" stroke="#33cc33" stroke-width="0.72"/>
<circle cx="240.82" cy="80.25" r="1.7" fill="none" stroke="#33cc33" stroke-width="0.72"/>
<circle cx="243.32" cy="81.52" r="1.7" fill="none" stroke="#33cc33" stroke-width="0.72"/>
<circle cx="238.43" cy="81.95" r="1.7" fill="none" stroke="#33cc33" stroke-width="0.72"/>
<circle cx="240.94" cy="82.75" r="1.7" fill="none" stroke="#33cc33" stroke-width="0.72"/>
<circle cx="239.68" cy="83.38" r="1.7" fill="none" stroke="#33cc33" stroke-width="0.72"/>
<circle cx="242.17" cy="85.04" r="1.7" fill="none" stroke="#33cc33" stroke-width="0.72"/>
<circle cx="239.19" cy="86.24" r="1.7" fill="none" stroke="#33cc33" stroke-width="0.72"/>
<circle cx="241.47" cy="87.15" r="1.7" fill="none" stroke="#33cc33" stroke-width="0.72"/>
<circle cx="240.40" cy="87.20" r="1.7" fill="none" stroke="#33cc33" stroke-width="0.72"/>
<circle cx="242.46" cy="87.58" r="1.7" fill="none" stroke="#33cc33" stroke-width="0.72"/>
<circle cx="239.23" cy="87.93" r="1.7" fill="none" stroke="#33cc33" stroke-width="0.72"/>
<circle cx="241.00" cy="93.85" r="1.7" fill="none" stroke="#33cc33" stroke-width="0.72"/>
<circle cx="240.65" cy="96.56" r="1.7" fill="none" stroke="#33cc33" stroke-width="0.72"/>
<circle cx="241.25" cy="99.47" r="1.7" fill="none" stroke="#33cc33" stroke-width="0.72"/>
<circle cx="240.71" cy="119.02" r="1.7" fill="none" stroke="#33cc33" stroke-width="0.72"/>
<circle cx="241.02" cy="126.72" r="1.7" fill="none" stroke="#33cc33" stroke-width="0.72"/>
<circle cx="274.30" cy="50.40" r="1.7" fill="none" stroke="#4d92f6" stroke-width="0.72"/>
<circle cx="272.73" cy="51.09" r="1.7" fill="none" stroke="#4d92f6" stroke-width="0.72"/>
<circle cx="275.94" cy="51.29" r="1.7" fill="none" stroke="#4d92f6" stroke-width="0.72"/>
<circle cx="271.76" cy="51.45" r="1.7" fill="none" stroke="#4d92f6" stroke-width="0.72"/>
<circle cx="275.21" cy="51.86" r="1.7" fill="none" stroke="#4d92f6" stroke-width="0.72"/>
<circle cx="273.37" cy="51.92" r="1.7" fill="none" stroke="#4d92f6" stroke-width="0.72"/>
<circle cx="277.74" cy="53.23" r="1.7" fill="none" stroke="#4d92f6" stroke-width="0.72"/>
<circle cx="270.19" cy="53.41" r="1.7" fill="none" stroke="#4d92f6" stroke-width="0.72"/>
<circle cx="274.90" cy="53.57" r="1.7" fill="none" stroke="#4d92f6" stroke-width="0.72"/>
<circle cx="272.19" cy="54.73" r="1.7" fill="none" stroke="#4d92f6" stroke-width="0.72"/>
<circle cx="278.15" cy="55.49" r="1.7" fill="none" stroke="#4d92f6" stroke-width="0.72"/>
<circle cx="270.20" cy="56.04" r="1.7" fill="none" stroke="#4d92f6" stroke-width="0.72"/>
<circle cx="276.76" cy="56.05" r="1.7" fill="none" stroke="#4d92f6" stroke-width="0.72"/>
<circle cx="273.46" cy="56.27" r="1.7" fill="none" stroke="#4d92f6" stroke-width="0.72"/>
<circle cx="280.44" cy="56.71" r="1.7" fill="none" stroke="#4d92f6" stroke-width="0.72"/>
<circle cx="267.65" cy="56.83" r="1.7" fill="none" stroke="#4d92f6" stroke-width="0.72"/>
<circle cx="274.75" cy="57.05" r="1.7" fill="none" stroke="#4d92f6" stroke-width="0.72"/>
<circle cx="271.06" cy="57.36" r="1.7" fill="none" stroke="#4d92f6" stroke-width="0.72"/>
<circle cx="278.52" cy="57.52" r="1.7" fill="none" stroke="#4d92f6" stroke-width="0.72"/>
<circle cx="269.12" cy="57.56" r="1.7" fill="none" stroke="#4d92f6" stroke-width="0.72"/>
<circle cx="276.72" cy="58.01" r="1.7" fill="none" stroke="#4d92f6" stroke-width="0.72"/>
<circle cx="272.82" cy="58.28" r="1.7" fill="none" stroke="#4d92f6" stroke-width="0.72"/>
<circle cx="280.85" cy="58.80" r="1.7" fill="none" stroke="#4d92f6" stroke-width="0.72"/>
<circle cx="267.67" cy="59.14" r="1.7" fill="none" stroke="#4d92f6" stroke-width="0.72"/>
<circle cx="275.83" cy="59.19" r="1.7" fill="none" stroke="#4d92f6" stroke-width="0.72"/>
<circle cx="271.74" cy="59.35" r="1.7" fill="none" stroke="#4d92f6" stroke-width="0.72"/>
<circle cx="279.94" cy="59.39" r="1.7" fill="none" stroke="#4d92f6" stroke-width="0.72"/>
<circle cx="269.67" cy="59.53" r="1.7" fill="none" stroke="#4d92f6" stroke-width="0.72"/>
<circle cx="277.93" cy="60.11" r="1.7" fill="none" stroke="#4d92f6" stroke-width="0.72"/>
<circle cx="273.78" cy="60.20" r="1.7" fill="none" stroke="#4d92f6" stroke-width="0.72"/>
<circle cx="282.08" cy="60.20" r="1.7" fill="none" stroke="#4d92f6" stroke-width="0.72"/>
<circle cx="266.26" cy="60.21" r="1.7" fill="none" stroke="#4d92f6" stroke-width="0.72"/>
<circle cx="274.56" cy="60.58" r="1.7" fill="none" stroke="#4d92f6" stroke-width="0.72"/>
<circle cx="270.42" cy="60.83" r="1.7" fill="none" stroke="#4d92f6" stroke-width="0.72"/>
<circle cx="278.70" cy="60.93" r="1.7" fill="none" stroke="#4d92f6" stroke-width="0.72"/>
<circle cx="268.41" cy="61.49" r="1.7" fill="none" stroke="#4d92f6" stroke-width="0.72"/>
<circle cx="276.59" cy="61.77" r="1.7" fill="none" stroke="#4d92f6" stroke-width="0.72"/>
<circle cx="272.53" cy="61.85" r="1.7" fill="none" stroke="#4d92f6" stroke-width="0.72"/>
<circle cx="280.42" cy="62.71" r="1.7" fill="none" stroke="#4d92f6" stroke-width="0.72"/>
<circle cx="267.71" cy="62.77" r="1.7" fill="none" stroke="#4d92f6" stroke-width="0.72"/>
<circle cx="275.46" cy="63.54" r="1.7" fill="none" stroke="#4d92f6" stroke-width="0.72"/>
<circle cx="271.84" cy="64.04" r="1.7" fill="none" stroke="#4d92f6" stroke-width="0.72"/>
<circle cx="278.96" cy="64.13" r="1.7" fill="none" stroke="#4d92f6" stroke-width="0.72"/>
<circle cx="270.11" cy="64.19" r="1.7" fill="none" stroke="#4d92f6" stroke-width="0.72"/>
<circle cx="277.12" cy="64.36" r="1.7" fill="none" stroke="#4d92f6" stroke-width="0.72"/>
<circle cx="273.66" cy="64.57" r="1.7" fill="none" stroke="#4d92f6" stroke-width="0.72"/>
<circle cx="280.40" cy="64.64" r="1.7" fill="none" stroke="#4d92f6" stroke-width="0.72"/>
<circle cx="268.31" cy="64.80" r="1.7" fill="none" stroke="#4d92f6" stroke-width="0.72"/>
<circle cx="274.91" cy="64.98" r="1.7" fill="none" stroke="#4d92f6" stroke-width="0.72"/>
<circle cx="271.73" cy="65.15" r="1.7" fill="none" stroke="#4d92f6" stroke-width="0.72"/>
<circle cx="278.05" cy="65.17" r="1.7" fill="none" stroke="#4d92f6" stroke-width="0.72"/>
<circle cx="270.17" cy="65.19" r="1.7" fill="none" stroke="#4d92f6" stroke-width="0.72"/>
<circle cx="276.45" cy="65.23" r="1.7" fill="none" stroke="#4d92f6" stroke-width="0.72"/>
<circle cx="273.50" cy="66.47" r="1.7" fill="none" stroke="#4d92f6" stroke-width="0.72"/>
<circle cx="278.16" cy="67.09" r="1.7" fill="none" stroke="#4d92f6" stroke-width="0.72"/>
<circle cx="270.74" cy="67.12" r="1.7" fill="none" stroke="#4d92f6" stroke-width="0.72"/>
<circle cx="274.86" cy="71.66" r="1.7" fill="none" stroke="#4d92f6" stroke-width="0.72"/>
<circle cx="273.59" cy="71.88" r="1.7" fill="none" stroke="#4d92f6" stroke-width="0.72"/>
<circle cx="276.12" cy="72.21" r="1.7" fill="none" stroke="#4d92f6" stroke-width="0.72"/>
<circle cx="272.96" cy="72.37" r="1.7" fill="none" stroke="#4d92f6" stroke-width="0.72"/>
<circle cx="275.48" cy="72.57" r="1.7" fill="none" stroke="#4d92f6" stroke-width="0.72"/>
<circle cx="274.22" cy="73.50" r="1.7" fill="none" stroke="#4d92f6" stroke-width="0.72"/>
<circle cx="276.49" cy="75.11" r="1.7" fill="none" stroke="#4d92f6" stroke-width="0.72"/>
<circle cx="272.07" cy="75.11" r="1.7" fill="none" stroke="#4d92f6" stroke-width="0.72"/>
<circle cx="274.33" cy="77.90" r="1.7" fill="none" stroke="#4d92f6" stroke-width="0.72"/>
<circle cx="273.30" cy="78.26" r="1.7" fill="none" stroke="#4d92f6" stroke-width="0.72"/>
<circle cx="275.49" cy="80.32" r="1.7" fill="none" stroke="#4d92f6" stroke-width="0.72"/>
<circle cx="272.50" cy="81.57" r="1.7" fill="none" stroke="#4d92f6" stroke-width="0.72"/>
<circle cx="274.96" cy="81.74" r="1.7" fill="none" stroke="#4d92f6" stroke-width="0.72"/>
<circle cx="273.71" cy="82.84" r="1.7" fill="none" stroke="#4d92f6" stroke-width="0.72"/>
<circle cx="276.23" cy="82.87" r="1.7" fill="none" stroke="#4d92f6" stroke-width="0.72"/>
<circle cx="272.13" cy="83.00" r="1.7" fill="none" stroke="#4d92f6" stroke-width="0.72"/>
<circle cx="274.65" cy="83.20" r="1.7" fill="none" stroke="#4d92f6" stroke-width="0.72"/>
<circle cx="273.40" cy="86.67" r="1.7" fill="none" stroke="#4d92f6" stroke-width="0.72"/>
<circle cx="275.92" cy="87.15" r="1.7" fill="none" stroke="#4d92f6" stroke-width="0.72"/>
<circle cx="272.77" cy="88.42" r="1.7" fill="none" stroke="#4d92f6" stroke-width="0.72"/>
<circle cx="275.28" cy="88.44" r="1.7" fill="none" stroke="#4d92f6" stroke-width="0.72"/>
<circle cx="274.03" cy="88.67" r="1.7" fill="none" stroke="#4d92f6" stroke-width="0.72"/>
<circle cx="276.34" cy="89.92" r="1.7" fill="none" stroke="#4d92f6" stroke-width="0.72"/>
<circle cx="272.24" cy="90.12" r="1.7" fill="none" stroke="#4d92f6" stroke-width="0.72"/>
<circle cx="274.47" cy="90.43" r="1.7" fill="none" stroke="#4d92f6" stroke-width="0.72"/>
<circle cx="273.72" cy="92.64" r="1.7" fill="none" stroke="#4d92f6" stroke-width="0.72"/>
<circle cx="274.67" cy="99.47" r="1.7" fill="none" stroke="#4d92f6" stroke-width="0.72"/>
<circle cx="273.86" cy="100.30" r="1.7" fill="none" stroke="#4d92f6" stroke-width="0.72"/>
<circle cx="274.47" cy="105.29" r="1.7" fill="none" stroke="#4d92f6" stroke-width="0.72"/>
<circle cx="274.23" cy="109.45" r="1.7" fill="none" stroke="#4d92f6" stroke-width="0.72"/>
<circle cx="274.56" cy="120.89" r="1.7" fill="none" stroke="#4d92f6" stroke-width="0.72"/>
<circle cx="273.98" cy="127.55" r="1.7" fill="none" stroke="#4d92f6" stroke-width="0.72"/>
<circle cx="274.38" cy="132.33" r="1.7" fill="none" stroke="#4d92f6" stroke-width="0.72"/>
<line x1="205.00" y1="51.00" x2="215.00" y2="51.00" stroke="#f2404f" stroke-width="0.8"/>
<line x1="202.40" y1="74.30" x2="213.40" y2="74.30" stroke="#f2404f" stroke-width="0.8"/>
<line x1="235.00" y1="51.70" x2="247.00" y2="51.70" stroke="#33cc33" stroke-width="0.8"/>
<line x1="235.00" y1="77.20" x2="247.00" y2="77.20" stroke="#33cc33" stroke-width="0.8"/>
<line x1="268.00" y1="82.60" x2="281.00" y2="82.60" stroke="#4d92f6" stroke-width="0.8"/>
<line x1="196.50" y1="62.70" x2="218.70" y2="62.70" stroke="#111" stroke-width="1.2"/>
<line x1="229.70" y1="64.30" x2="252.00" y2="64.30" stroke="#111" stroke-width="1.2"/>
<line x1="263.90" y1="67.40" x2="284.00" y2="67.40" stroke="#111" stroke-width="1.2"/>
<text x="308.60" y="12.10" font-size="14.4" text-anchor="start" font-weight="bold" fill="#000" stroke="#000" stroke-width="0.45">C</text>
<text x="351.00" y="22.80" font-size="10.3" text-anchor="start" fill="#1a1a1a" stroke="#1a1a1a" stroke-width="0.22">TCGA_Glioblastoma (MES)</text>
<line x1="339.80" y1="41.40" x2="339.80" y2="151.00" stroke="#cccccc" stroke-width="1"/>
<line x1="339.80" y1="151.00" x2="484.80" y2="151.00" stroke="#cccccc" stroke-width="1"/>
<line x1="336.40" y1="46.70" x2="339.80" y2="46.70" stroke="#cccccc" stroke-width="1"/>
<text x="334.40" y="50.00" font-size="9.06" text-anchor="end" fill="#1a1a1a" stroke="#1a1a1a" stroke-width="0.22">100</text>
<line x1="336.40" y1="66.66" x2="339.80" y2="66.66" stroke="#cccccc" stroke-width="1"/>
<text x="334.40" y="69.96" font-size="9.06" text-anchor="end" fill="#1a1a1a" stroke="#1a1a1a" stroke-width="0.22">80</text>
<line x1="336.40" y1="86.62" x2="339.80" y2="86.62" stroke="#cccccc" stroke-width="1"/>
<text x="334.40" y="89.92" font-size="9.06" text-anchor="end" fill="#1a1a1a" stroke="#1a1a1a" stroke-width="0.22">60</text>
<line x1="336.40" y1="106.58" x2="339.80" y2="106.58" stroke="#cccccc" stroke-width="1"/>
<text x="334.40" y="109.88" font-size="9.06" text-anchor="end" fill="#1a1a1a" stroke="#1a1a1a" stroke-width="0.22">40</text>
<line x1="336.40" y1="126.54" x2="339.80" y2="126.54" stroke="#cccccc" stroke-width="1"/>
<text x="334.40" y="129.84" font-size="9.06" text-anchor="end" fill="#1a1a1a" stroke="#1a1a1a" stroke-width="0.22">20</text>
<line x1="336.40" y1="146.50" x2="339.80" y2="146.50" stroke="#cccccc" stroke-width="1"/>
<text x="334.40" y="149.80" font-size="9.06" text-anchor="end" fill="#1a1a1a" stroke="#1a1a1a" stroke-width="0.22">0</text>
<line x1="339.80" y1="151.00" x2="339.80" y2="154.60" stroke="#cccccc" stroke-width="1"/>
<text x="339.80" y="167.10" font-size="9.06" text-anchor="middle" fill="#1a1a1a" stroke="#1a1a1a" stroke-width="0.22">0</text>
<line x1="376.05" y1="151.00" x2="376.05" y2="154.60" stroke="#cccccc" stroke-width="1"/>
<text x="376.05" y="167.10" font-size="9.06" text-anchor="middle" fill="#1a1a1a" stroke="#1a1a1a" stroke-width="0.22">10</text>
<line x1="412.30" y1="151.00" x2="412.30" y2="154.60" stroke="#cccccc" stroke-width="1"/>
<text x="412.30" y="167.10" font-size="9.06" text-anchor="middle" fill="#1a1a1a" stroke="#1a1a1a" stroke-width="0.22">20</text>
<line x1="448.55" y1="151.00" x2="448.55" y2="154.60" stroke="#cccccc" stroke-width="1"/>
<text x="448.55" y="167.10" font-size="9.06" text-anchor="middle" fill="#1a1a1a" stroke="#1a1a1a" stroke-width="0.22">30</text>
<line x1="484.80" y1="151.00" x2="484.80" y2="154.60" stroke="#cccccc" stroke-width="1"/>
<text x="484.80" y="167.10" font-size="9.06" text-anchor="middle" fill="#1a1a1a" stroke="#1a1a1a" stroke-width="0.22">40</text>
<text x="0" y="0" font-size="8.85" text-anchor="middle" fill="#1a1a1a" stroke="#1a1a1a" stroke-width="0.22" transform="translate(319.50,105.4) rotate(-90) scale(1,1.1)">Overall Survival (%)</text>
<path d="M339.8,46.7 H353.2 V51.4 H358.2 V55.7 H363.7 V60 H364.4 V64.3 H368.4 V68.5 H384 V73.5 H386.5 V78.5 H387.2 V82.8 H392.6 V90 H397.3 V95.8 H417.4 V104.1 H425.8 V112.2 H428.3 V121.5 H432.5 V129.6 H437.5 V138.2 H449.1" fill="none" stroke="#4a8ef5" stroke-width="1.25" stroke-linejoin="miter"/>
<line x1="348.60" y1="46.70" x2="348.60" y2="44.50" stroke="#4a8ef5" stroke-width="0.9"/>
<line x1="370.50" y1="68.50" x2="370.50" y2="66.30" stroke="#4a8ef5" stroke-width="0.9"/>
<line x1="375.40" y1="68.50" x2="375.40" y2="66.30" stroke="#4a8ef5" stroke-width="0.9"/>
<line x1="378.70" y1="68.50" x2="378.70" y2="66.30" stroke="#4a8ef5" stroke-width="0.9"/>
<line x1="390.00" y1="82.80" x2="390.00" y2="80.60" stroke="#4a8ef5" stroke-width="0.9"/>
<line x1="405.00" y1="95.80" x2="405.00" y2="93.60" stroke="#4a8ef5" stroke-width="0.9"/>
<line x1="412.40" y1="95.80" x2="412.40" y2="93.60" stroke="#4a8ef5" stroke-width="0.9"/>
<line x1="449.10" y1="138.20" x2="449.10" y2="136.00" stroke="#4a8ef5" stroke-width="0.9"/>
<path d="M339.8,46.7 V48.6 H340.9 V51 H342 V54.3 H350.6 V59.3 H351.2 V63 H352.3 V67.1 H354 V72.1 H355.8 V75.7 H356.5 V80 H367.5 V85 V90 H372 V94.5 H373 V99 H380.3 V104.1 H385 V110 H385.8 V115 H399.1 V120.8 H408.6 V127.4 H429.9 V137.4 H463.4 V146.4" fill="none" stroke="#f0414f" stroke-width="1.25" stroke-linejoin="miter"/>
<line x1="359.40" y1="80.00" x2="359.40" y2="77.80" stroke="#f0414f" stroke-width="0.9"/>
<line x1="365.80" y1="80.00" x2="365.80" y2="77.80" stroke="#f0414f" stroke-width="0.9"/>
<line x1="379.10" y1="99.00" x2="379.10" y2="96.80" stroke="#f0414f" stroke-width="0.9"/>
<line x1="398.70" y1="115.00" x2="398.70" y2="112.80" stroke="#f0414f" stroke-width="0.9"/>
<line x1="411.60" y1="127.40" x2="411.60" y2="125.20" stroke="#f0414f" stroke-width="0.9"/>
<line x1="393.20" y1="45.50" x2="405.90" y2="45.50" stroke="#4a8ef5" stroke-width="1.25"/>
<line x1="399.50" y1="45.50" x2="399.50" y2="43.40" stroke="#4a8ef5" stroke-width="0.9"/>
<line x1="393.20" y1="60.10" x2="405.90" y2="60.10" stroke="#f0414f" stroke-width="1.25"/>
<line x1="399.50" y1="60.10" x2="399.50" y2="58.00" stroke="#f0414f" stroke-width="0.9"/>
<text x="409.80" y="48.60" font-size="8.35" fill="#1a1a1a" stroke="#1a1a1a" stroke-width="0.22">PRMT6<tspan font-size="4.9" dy="-3" stroke-width="0.1"> Low</tspan><tspan dy="3"> (n=25)</tspan></text>
<text x="409.80" y="63.20" font-size="8.35" fill="#1a1a1a" stroke="#1a1a1a" stroke-width="0.22">PRMT6<tspan font-size="4.9" dy="-3" stroke-width="0.1"> High</tspan><tspan dy="3"> (n=25)</tspan></text>
<text x="399.70" y="78.40" font-size="14" text-anchor="middle" font-weight="bold" fill="#111" stroke="#111" stroke-width="0.22">*</text>
<text x="409.80" y="76.60" font-size="8.35" fill="#1a1a1a" stroke="#1a1a1a" stroke-width="0.22" xml:space="preserve">Log-rank  P=0.0187</text>
<text x="414.35" y="180.10" font-size="9.28" text-anchor="middle" fill="#1a1a1a" stroke="#1a1a1a" stroke-width="0.22">Time (months)</text>
<text x="495.70" y="12.30" font-size="14.4" text-anchor="start" font-weight="bold" fill="#000" stroke="#000" stroke-width="0.45">D</text>
<text x="540.00" y="23.00" font-size="10.3" text-anchor="start" fill="#1a1a1a" stroke="#1a1a1a" stroke-width="0.22">CGGA_Glioblastoma (MES)</text>
<line x1="530.90" y1="41.40" x2="530.90" y2="151.00" stroke="#cccccc" stroke-width="1"/>
<line x1="530.90" y1="151.00" x2="676.00" y2="151.00" stroke="#cccccc" stroke-width="1"/>
<line x1="527.50" y1="46.70" x2="530.90" y2="46.70" stroke="#cccccc" stroke-width="1"/>
<text x="525.50" y="50.00" font-size="9.06" text-anchor="end" fill="#1a1a1a" stroke="#1a1a1a" stroke-width="0.22">100</text>
<line x1="527.50" y1="66.66" x2="530.90" y2="66.66" stroke="#cccccc" stroke-width="1"/>
<text x="525.50" y="69.96" font-size="9.06" text-anchor="end" fill="#1a1a1a" stroke="#1a1a1a" stroke-width="0.22">80</text>
<line x1="527.50" y1="86.62" x2="530.90" y2="86.62" stroke="#cccccc" stroke-width="1"/>
<text x="525.50" y="89.92" font-size="9.06" text-anchor="end" fill="#1a1a1a" stroke="#1a1a1a" stroke-width="0.22">60</text>
<line x1="527.50" y1="106.58" x2="530.90" y2="106.58" stroke="#cccccc" stroke-width="1"/>
<text x="525.50" y="109.88" font-size="9.06" text-anchor="end" fill="#1a1a1a" stroke="#1a1a1a" stroke-width="0.22">40</text>
<line x1="527.50" y1="126.54" x2="530.90" y2="126.54" stroke="#cccccc" stroke-width="1"/>
<text x="525.50" y="129.84" font-size="9.06" text-anchor="end" fill="#1a1a1a" stroke="#1a1a1a" stroke-width="0.22">20</text>
<line x1="527.50" y1="146.50" x2="530.90" y2="146.50" stroke="#cccccc" stroke-width="1"/>
<text x="525.50" y="149.80" font-size="9.06" text-anchor="end" fill="#1a1a1a" stroke="#1a1a1a" stroke-width="0.22">0</text>
<line x1="530.90" y1="151.00" x2="530.90" y2="154.60" stroke="#cccccc" stroke-width="1"/>
<text x="530.90" y="167.10" font-size="9.06" text-anchor="middle" fill="#1a1a1a" stroke="#1a1a1a" stroke-width="0.22">0</text>
<line x1="559.92" y1="151.00" x2="559.92" y2="154.60" stroke="#cccccc" stroke-width="1"/>
<text x="559.92" y="167.10" font-size="9.06" text-anchor="middle" fill="#1a1a1a" stroke="#1a1a1a" stroke-width="0.22">20</text>
<line x1="588.94" y1="151.00" x2="588.94" y2="154.60" stroke="#cccccc" stroke-width="1"/>
<text x="588.94" y="167.10" font-size="9.06" text-anchor="middle" fill="#1a1a1a" stroke="#1a1a1a" stroke-width="0.22">40</text>
<line x1="617.96" y1="151.00" x2="617.96" y2="154.60" stroke="#cccccc" stroke-width="1"/>
<text x="617.96" y="167.10" font-size="9.06" text-anchor="middle" fill="#1a1a1a" stroke="#1a1a1a" stroke-width="0.22">60</text>
<line x1="646.98" y1="151.00" x2="646.98" y2="154.60" stroke="#cccccc" stroke-width="1"/>
<text x="646.98" y="167.10" font-size="9.06" text-anchor="middle" fill="#1a1a1a" stroke="#1a1a1a" stroke-width="0.22">80</text>
<line x1="676.00" y1="151.00" x2="676.00" y2="154.60" stroke="#cccccc" stroke-width="1"/>
<text x="676.00" y="167.10" font-size="9.06" text-anchor="middle" fill="#1a1a1a" stroke="#1a1a1a" stroke-width="0.22">100</text>
<text x="0" y="0" font-size="8.85" text-anchor="middle" fill="#1a1a1a" stroke="#1a1a1a" stroke-width="0.22" transform="translate(509.50,105.4) rotate(-90) scale(1,1.1)">Overall Survival (%)</text>
<path d="M530.9,46.7 H539.4 V52.1 H541.8 V57.4 H543 V62.6 H543.5 V67.8 H546.3 V73.5 H550.1 V77.8 H551.5 V84.2 H556.5 V90 H561.5 V95.4 H566.1 V101.1 H567.8 V106.2 H571.4 V112.4 H604.8 V118.3 H620.7 V127.4 H625.4 V137.4 H664.9" fill="none" stroke="#4a8ef5" stroke-width="1.25" stroke-linejoin="miter"/>
<line x1="611.40" y1="118.30" x2="611.40" y2="116.10" stroke="#4a8ef5" stroke-width="0.9"/>
<line x1="664.90" y1="137.40" x2="664.90" y2="135.20" stroke="#4a8ef5" stroke-width="0.9"/>
<path d="M530.9,46.7 V52.1 H533.7 V57.8 H536.3 V63.5 H538.3 V69 H538.8 V74.2 H540.1 V80 H541.6 V85.6 H543.7 V90.6 H547.2 V96.5 H550.5 V102 H551 V108 H556.7 V113.2 H558.8 V118.6 H560 V125.8 H569 V132.8 H622.5 V146.4" fill="none" stroke="#f0414f" stroke-width="1.25" stroke-linejoin="miter"/>
<line x1="589.40" y1="132.80" x2="589.40" y2="130.60" stroke="#f0414f" stroke-width="0.9"/>
<line x1="575.50" y1="45.50" x2="588.20" y2="45.50" stroke="#4a8ef5" stroke-width="1.25"/>
<line x1="581.80" y1="45.50" x2="581.80" y2="43.40" stroke="#4a8ef5" stroke-width="0.9"/>
<line x1="575.50" y1="60.10" x2="588.20" y2="60.10" stroke="#f0414f" stroke-width="1.25"/>
<line x1="581.80" y1="60.10" x2="581.80" y2="58.00" stroke="#f0414f" stroke-width="0.9"/>
<text x="592.10" y="48.60" font-size="8.35" fill="#1a1a1a" stroke="#1a1a1a" stroke-width="0.22">PRMT6<tspan font-size="4.9" dy="-3" stroke-width="0.1"> Low</tspan><tspan dy="3"> (n=19)</tspan></text>
<text x="592.10" y="63.20" font-size="8.35" fill="#1a1a1a" stroke="#1a1a1a" stroke-width="0.22">PRMT6<tspan font-size="4.9" dy="-3" stroke-width="0.1"> High</tspan><tspan dy="3"> (n=18)</tspan></text>
<text x="582.00" y="78.40" font-size="14" text-anchor="middle" font-weight="bold" fill="#111" stroke="#111" stroke-width="0.22">*</text>
<text x="592.10" y="76.60" font-size="8.35" fill="#1a1a1a" stroke="#1a1a1a" stroke-width="0.22" xml:space="preserve">Log-rank  P=0.0409</text>
<text x="612.30" y="180.10" font-size="9.25" text-anchor="middle" fill="#1a1a1a" stroke="#1a1a1a" stroke-width="0.22">Time (months)</text>
<text x="1.90" y="211.90" font-size="14.4" text-anchor="start" font-weight="bold" fill="#000" stroke="#000" stroke-width="0.45">E</text>
<text x="108.00" y="215.20" font-size="10.3" text-anchor="middle" fill="#1a1a1a" stroke="#1a1a1a" stroke-width="0.22">MRI</text>
<line x1="25.30" y1="218.30" x2="184.20" y2="218.30" stroke="#666" stroke-width="1"/>
<text x="49.60" y="227.20" font-size="8.2" text-anchor="middle" fill="#1a1a1a" stroke="#1a1a1a" stroke-width="0.22">T1WI</text>
<text x="105.00" y="227.20" font-size="8.2" text-anchor="middle" fill="#1a1a1a" stroke="#1a1a1a" stroke-width="0.22">T2WI</text>
<text x="158.50" y="227.20" font-size="8.1" text-anchor="middle" fill="#1a1a1a" stroke="#1a1a1a" stroke-width="0.22">T1WI+Contrast</text>
<text x="228.60" y="221.40" font-size="10.1" text-anchor="middle" fill="#1a1a1a" stroke="#1a1a1a" stroke-width="0.22">PRMT6 IHC</text>
<line x1="12.90" y1="231.00" x2="12.90" y2="349.00" stroke="#555" stroke-width="0.9"/>
<text x="20.40" y="259.90" font-size="9.1" text-anchor="middle" fill="#1a1a1a" stroke="#1a1a1a" stroke-width="0.22" transform="rotate(-90 20.4 259.9)">noninvasive</text>
<text x="20.60" y="319.50" font-size="8.2" text-anchor="middle" fill="#1a1a1a" stroke="#1a1a1a" stroke-width="0.22" transform="rotate(-90 20.6 319.5)">invasive</text>
<text x="11.00" y="287.00" font-size="9.0" text-anchor="middle" fill="#1a1a1a" stroke="#1a1a1a" stroke-width="0.22" transform="rotate(-90 11.0 287.0)">LGG</text>
<text x="15.00" y="382.00" font-size="9.2" text-anchor="middle" fill="#1a1a1a" stroke="#1a1a1a" stroke-width="0.22" transform="rotate(-90 15.0 382)">Glioblastoma</text>
<rect x="23.10" y="229.90" width="162.00" height="181.50" fill="#000"/>
<g clip-path="url(#c00)"><g filter="url(#mblur)"><g transform="rotate(0 50.5 259)">
<ellipse cx="50.5" cy="259" rx="24" ry="28.4" fill="#1c1c1c" stroke="#c0c0c0" stroke-width="1.2"/>
<ellipse cx="50.5" cy="259" rx="21.80" ry="26.20" fill="url(#g00)"/>
<ellipse cx="50.5" cy="259" rx="21.30" ry="25.70" fill="#000" filter="url(#texD)" opacity="0.3"/>
<g transform="translate(50.5,259)"><path d="M14.8,0.6 Q17.1,-0.5 19.3,0.8 M13.4,2.2 Q16.8,1.8 20.0,3.3 M13.6,4.6 Q16.7,5.6 19.7,6.6 M13.7,6.7 Q16.4,6.7 18.3,9.0 M13.0,10.4 Q13.9,13.6 16.9,13.5 M11.6,10.9 Q13.3,13.8 16.1,15.2 M8.5,10.8 Q10.5,14.2 13.2,17.0 M8.5,15.7 Q8.2,18.6 10.6,19.6 M7.2,15.8 Q10.0,17.0 9.4,20.7 M4.2,15.4 Q4.7,19.5 6.4,23.1 M3.5,16.1 Q5.3,19.6 5.1,23.7 M1.3,18.2 Q1.2,20.4 1.6,22.5 M-0.7,18.7 Q-0.6,21.5 -0.9,24.3 M-2.2,15.6 Q-4.3,18.9 -3.2,23.2 M-4.2,16.1 Q-5.3,19.4 -6.0,22.9 M-6.8,14.7 Q-8.8,17.9 -10.0,21.7 M-8.0,13.3 Q-9.4,16.6 -11.5,19.3 M-9.0,11.4 Q-10.0,14.8 -12.9,16.4 M-11.3,10.8 Q-12.2,14.2 -15.2,14.6 M-13.2,9.1 Q-16.2,9.1 -17.8,12.3 M-14.4,6.7 Q-16.1,8.2 -18.3,8.6 M-12.6,3.9 Q-16.4,3.4 -19.6,6.1 M-14.1,1.7 Q-17.3,1.7 -20.5,2.4 M-14.4,0.1 Q-17.5,-2.0 -20.7,0.1 M-12.1,-2.4 Q-15.8,-3.1 -19.5,-3.9 M-14.5,-5.1 Q-16.0,-6.8 -18.1,-6.4 M-11.9,-5.6 Q-15.6,-6.5 -18.8,-8.9 M-10.4,-8.1 Q-12.6,-10.9 -15.6,-12.2 M-11.3,-10.1 Q-13.8,-12.5 -16.4,-14.7 M-8.1,-10.8 Q-10.4,-14.6 -13.3,-17.7 M-7.7,-13.3 Q-7.7,-17.3 -11.0,-18.9 M-6.0,-12.6 Q-9.2,-16.2 -10.3,-21.5 M-4.7,-14.3 Q-4.4,-19.1 -7.5,-22.6 M-3.4,-15.8 Q-4.9,-18.4 -4.6,-21.6 M-1.4,-17.2 Q-2.9,-19.9 -1.8,-22.9 M0.8,-14.6 Q2.8,-18.1 1.3,-22.2 M2.3,-15.8 Q4.2,-19.4 3.5,-23.7 M4.7,-14.1 Q7.7,-17.2 7.4,-22.2 M6.1,-15.8 Q6.8,-19.3 8.6,-22.2 M7.9,-14.2 Q8.2,-17.6 10.8,-19.3 M9.2,-11.9 Q11.3,-14.6 13.4,-17.3 M10.2,-10.3 Q12.2,-13.9 15.5,-15.8 M10.3,-7.4 Q13.4,-10.6 17.2,-12.4 M11.7,-6.9 Q15.0,-6.5 17.0,-9.9 M12.5,-4.4 Q15.9,-3.5 18.4,-6.5 M14.2,-2.1 Q17.0,-3.1 19.9,-3.0" stroke="#3a3a3a" stroke-width="0.55" fill="none" opacity="0.8" stroke-linecap="round"/></g>
<g transform="translate(50.5,259)"><circle cx="-10.5" cy="-20.6" r="3.6" fill="#0c0c0c" stroke="#d8d8d8" stroke-width="1.5"/><circle cx="7.7" cy="-20.6" r="3.6" fill="#0c0c0c" stroke="#d8d8d8" stroke-width="1.5"/><path d="M-2.5,-26 L1.5,-26 L1,-18 L-2,-18Z" fill="#151515"/><path d="M-17,-18 Q-15,-13 -9,-14 M15,-18 Q13,-13 7,-14" stroke="#d8d8d8" stroke-width="1.6" fill="none"/><ellipse cx="9" cy="2" rx="7.5" ry="9" fill="#505050" filter="url(#bl2)" opacity="0.75"/><path d="M-3,3 L0,-1 L2,3 L0,9 Z" fill="#1e1e1e"/><path d="M-18,-12 Q-10,-16 -3,-12" stroke="#9a9a9a" stroke-width="1.2" fill="none"/><path d="M3,-12 Q10,-16 17,-12" stroke="#9a9a9a" stroke-width="1.2" fill="none"/></g>
</g></g></g>
<g clip-path="url(#c10)"><g filter="url(#mblur)"><g transform="rotate(0 104.9 258.9)">
<ellipse cx="104.9" cy="258.9" rx="23.5" ry="27.5" fill="#1c1c1c" stroke="#b0b0b0" stroke-width="1.2"/>
<ellipse cx="104.9" cy="258.9" rx="21.30" ry="25.30" fill="url(#g10)"/>
<ellipse cx="104.9" cy="258.9" rx="20.80" ry="24.80" fill="#000" filter="url(#texL)" opacity="0.3"/>
<g transform="translate(104.9,258.9)"><path d="M13.7,-0.4 Q16.2,-0.0 18.8,-0.6 M11.8,2.1 Q14.5,4.0 17.7,3.2 M12.2,3.7 Q15.9,4.7 19.6,5.9 M12.1,6.8 Q15.4,6.8 17.5,9.9 M12.6,9.4 Q13.9,11.7 16.2,12.0 M9.1,9.1 Q11.9,12.4 15.1,15.0 M8.2,10.1 Q11.1,13.4 13.9,17.0 M8.3,14.7 Q8.2,18.0 10.9,19.3 M6.9,15.3 Q6.3,18.5 8.9,19.9 M3.6,13.7 Q5.5,16.7 5.5,20.6 M2.1,15.6 Q3.4,19.0 3.1,22.7 M0.9,15.5 Q0.8,18.9 1.3,22.2 M-1.1,17.8 Q-3.1,20.1 -1.5,23.1 M-3.6,17.7 Q-2.7,20.4 -4.6,22.5 M-5.6,16.8 Q-6.7,19.3 -7.3,22.1 M-6.0,13.0 Q-8.0,16.7 -9.5,20.7 M-6.7,11.8 Q-10.4,14.3 -11.1,19.6 M-9.5,13.1 Q-9.8,16.1 -12.3,17.0 M-11.1,11.1 Q-11.8,14.8 -15.2,15.3 M-10.2,7.2 Q-13.2,10.2 -16.8,11.9 M-14.2,6.6 Q-16.6,5.1 -17.8,8.3 M-11.5,4.1 Q-14.4,7.3 -18.5,6.6 M-13.0,2.6 Q-15.8,4.7 -19.1,3.8 M-14.8,0.8 Q-16.7,-1.3 -18.6,1.0 M-12.9,-2.7 Q-15.8,-3.4 -18.7,-3.9 M-13.3,-4.7 Q-15.7,-6.1 -18.4,-6.5 M-12.2,-7.0 Q-14.2,-9.3 -17.0,-9.8 M-11.1,-7.6 Q-14.3,-9.8 -17.5,-11.9 M-9.1,-8.9 Q-11.6,-11.8 -14.6,-14.2 M-10.0,-11.6 Q-13.1,-12.3 -13.9,-16.1 M-7.6,-13.1 Q-9.8,-15.7 -11.0,-19.1 M-6.4,-15.3 Q-8.6,-16.2 -7.9,-19.1 M-4.8,-17.1 Q-5.5,-18.9 -5.9,-20.8 M-2.5,-15.0 Q-3.8,-18.2 -3.7,-21.8 M-1.1,-16.4 Q-1.8,-19.2 -1.5,-22.0 M1.1,-14.0 Q2.3,-18.2 1.8,-22.7 M2.3,-14.6 Q2.0,-19.0 3.7,-23.1 M4.1,-15.0 Q3.5,-19.0 6.0,-22.1 M5.7,-13.7 Q7.1,-17.6 8.8,-21.1 M7.4,-11.7 Q9.8,-14.3 11.3,-17.7 M9.5,-11.2 Q10.2,-14.5 13.1,-15.4 M9.6,-9.3 Q13.3,-10.8 15.4,-14.8 M10.7,-8.2 Q13.9,-10.0 16.6,-12.8 M12.0,-5.7 Q14.2,-7.7 16.9,-8.0 M12.3,-3.7 Q15.2,-4.9 18.1,-5.4 M13.1,-2.3 Q16.2,-4.4 19.8,-3.4" stroke="#9a9a9a" stroke-width="0.55" fill="none" opacity="0.8" stroke-linecap="round"/></g>
<g transform="translate(104.9,258.9)"><circle cx="-10.7" cy="-20.5" r="5.0" fill="#d4d4d4" stroke="#666" stroke-width="0.8"/><circle cx="6.8" cy="-20.9" r="5.0" fill="#cccccc" stroke="#666" stroke-width="0.8"/><ellipse cx="8" cy="-1" rx="8" ry="10" fill="#7a7a7a" filter="url(#bl2)" opacity="0.8"/><path d="M-4,-9 L-1,-7 L2,-10 L3,-6 L5,-4 L1,-3 L0,0 L-2,-3 L-6,-4 L-3,-6Z" fill="#e4e4e4" filter="url(#bl)"/><path d="M-1.5,4 L2.5,4 L1,9 L0,9Z" fill="#f4f4f4"/><path d="M-13,-12 L-8,-10 L-10,-6Z M8,-12 L12,-10 L10,-7Z" fill="#bbbbbb" filter="url(#bl)"/></g>
</g></g></g>
<g clip-path="url(#c20)"><g filter="url(#mblur)"><g transform="rotate(0 158.9 259.5)">
<ellipse cx="158.9" cy="259.5" rx="25" ry="28.5" fill="#1c1c1c" stroke="#a8a8a8" stroke-width="1.6"/>
<ellipse cx="158.9" cy="259.5" rx="23.2" ry="26.7" fill="none" stroke="#8a8a8a" stroke-width="0.9"/>
<ellipse cx="158.9" cy="259.5" rx="21.80" ry="25.30" fill="url(#g20)"/>
<ellipse cx="158.9" cy="259.5" rx="21.30" ry="24.80" fill="#000" filter="url(#texD)" opacity="0.3"/>
<g transform="translate(158.9,259.5)"><path d="M15.0,0.5 Q17.2,-0.6 19.5,0.6 M14.4,1.5 Q16.7,3.0 19.4,2.0 M14.3,4.4 Q16.0,6.4 18.3,5.7 M12.3,6.6 Q14.7,8.8 17.8,9.5 M12.2,8.1 Q15.4,8.8 17.6,11.6 M11.0,11.0 Q13.6,12.6 15.4,15.4 M10.6,12.2 Q12.7,14.2 14.4,16.5 M7.7,11.7 Q10.5,14.4 12.1,18.3 M6.0,14.9 Q6.4,17.6 7.9,19.8 M5.4,16.8 Q6.2,19.6 7.1,22.3 M2.8,16.6 Q1.3,20.1 3.8,23.1 M1.5,15.4 Q2.6,19.0 2.2,22.8 M-0.9,14.3 Q-1.4,18.9 -1.6,23.6 M-2.4,16.5 Q-1.6,19.4 -3.2,21.8 M-4.2,13.7 Q-6.5,16.5 -6.3,20.6 M-5.7,12.3 Q-6.0,17.4 -9.6,20.6 M-8.6,14.7 Q-9.2,17.4 -11.2,19.0 M-9.1,11.5 Q-12.1,12.1 -12.5,16.0 M-10.1,10.4 Q-12.3,13.3 -15.0,15.5 M-11.3,7.2 Q-15.4,7.7 -18.1,11.5 M-14.1,6.8 Q-16.5,6.2 -17.9,8.6 M-13.5,3.9 Q-16.4,3.8 -18.9,5.5 M-12.2,2.1 Q-15.9,3.8 -19.9,3.4 M-14.9,0.0 Q-16.7,2.3 -18.7,0.0 M-14.1,-1.7 Q-16.7,-0.8 -19.1,-2.2 M-14.9,-4.8 Q-16.7,-4.9 -18.2,-5.8 M-12.9,-7.1 Q-15.0,-8.2 -17.1,-9.5 M-10.7,-7.5 Q-13.9,-8.8 -16.4,-11.5 M-10.0,-10.0 Q-11.2,-14.1 -15.1,-15.1 M-8.7,-11.8 Q-11.3,-14.0 -12.9,-17.4 M-8.1,-13.0 Q-8.4,-17.1 -11.8,-19.0 M-5.7,-12.2 Q-8.9,-15.0 -9.3,-19.8 M-5.6,-16.0 Q-5.5,-18.3 -7.0,-20.0 M-3.3,-17.5 Q-5.7,-19.7 -4.4,-23.1 M-1.5,-17.9 Q-2.0,-20.3 -1.9,-22.8 M1.4,-17.3 Q1.5,-19.9 1.9,-22.5 M2.2,-15.3 Q3.1,-18.2 3.1,-21.4 M4.3,-13.6 Q4.1,-18.2 6.8,-21.6 M6.1,-15.1 Q8.6,-16.9 8.3,-20.4 M8.6,-13.7 Q10.8,-14.7 10.9,-17.5 M9.3,-12.6 Q12.6,-13.9 13.4,-18.0 M10.9,-9.5 Q14.1,-10.6 16.0,-13.9 M12.9,-9.9 Q14.9,-11.7 17.1,-13.1 M12.7,-5.9 Q15.4,-6.2 17.6,-8.2 M14.2,-5.4 Q16.6,-7.4 19.6,-7.4 M12.2,-1.3 Q16.2,-2.8 20.3,-2.2" stroke="#444444" stroke-width="0.55" fill="none" opacity="0.8" stroke-linecap="round"/></g>
<g transform="translate(158.9,259.5)"><circle cx="-11" cy="-20.5" r="3.0" fill="#333" stroke="#aaa" stroke-width="0.8"/><circle cx="9.5" cy="-20.5" r="3.0" fill="#333" stroke="#aaa" stroke-width="0.8"/><path d="M-15,-12 L-9,-9 L-5,-12 M15,-12 L9,-9 L5,-12" stroke="#cfcfcf" stroke-width="0.8" fill="none"/><ellipse cx="8" cy="1" rx="7" ry="8.5" fill="#5c5c5c" filter="url(#bl2)" opacity="0.75"/><path d="M-4,5 L-1,1 L3,1 L4,6 L1,11 L-2,8Z" fill="#1a1a1a"/><circle cx="0" cy="22" r="1.3" fill="#f0f0f0"/></g>
</g></g></g>
<g clip-path="url(#c01)"><g filter="url(#mblur)"><g transform="rotate(-10 50 321.2)">
<ellipse cx="50" cy="321.2" rx="23.7" ry="27.5" fill="#1c1c1c" stroke="#e6e6e6" stroke-width="1.1"/>
<ellipse cx="50" cy="321.2" rx="21.50" ry="25.30" fill="url(#g01)"/>
<ellipse cx="50" cy="321.2" rx="21.00" ry="24.80" fill="#000" filter="url(#texD)" opacity="0.3"/>
<g transform="translate(50,321.2)"><path d="M14.9,-0.6 Q17.3,-1.9 19.9,-0.8 M13.3,2.2 Q16.2,4.0 19.4,3.1 M11.6,3.3 Q15.6,4.1 19.5,5.5 M10.7,5.9 Q13.7,8.5 17.3,9.5 M13.3,8.9 Q16.3,8.3 17.5,11.8 M11.1,9.7 Q14.0,11.5 16.3,14.2 M9.4,11.2 Q11.8,12.3 12.7,15.2 M7.9,13.1 Q10.2,14.7 10.8,17.8 M6.5,13.9 Q9.4,15.4 9.1,19.3 M4.2,15.5 Q6.3,18.2 6.0,21.9 M2.4,17.4 Q3.3,19.2 2.9,21.3 M0.7,17.0 Q1.1,20.4 1.0,23.8 M-1.4,16.7 Q-2.0,19.3 -1.9,22.0 M-3.6,17.0 Q-4.4,19.4 -4.6,22.0 M-3.7,14.3 Q-4.5,18.5 -5.8,22.4 M-6.0,14.7 Q-7.9,17.4 -8.5,20.9 M-7.6,13.0 Q-10.1,15.1 -10.9,18.7 M-9.1,11.4 Q-9.7,15.3 -13.1,16.5 M-10.8,11.3 Q-13.3,13.2 -15.2,15.9 M-10.6,7.7 Q-14.3,8.0 -16.3,12.0 M-12.8,6.1 Q-15.3,8.6 -18.6,8.9 M-14.7,4.8 Q-16.7,5.7 -18.7,6.1 M-13.7,2.6 Q-16.4,5.5 -20.1,3.8 M-14.8,-0.5 Q-17.4,-1.7 -20.1,-0.6 M-13.5,-2.7 Q-16.4,-2.9 -19.1,-3.8 M-14.6,-4.0 Q-17.0,-3.2 -18.9,-5.2 M-12.5,-6.4 Q-15.1,-7.0 -17.3,-8.9 M-12.0,-8.7 Q-14.4,-10.2 -16.6,-12.0 M-10.2,-8.9 Q-12.3,-11.2 -14.8,-12.9 M-9.7,-13.1 Q-10.4,-16.4 -13.1,-17.7 M-8.9,-14.1 Q-11.6,-15.0 -11.7,-18.6 M-5.9,-12.1 Q-8.8,-15.6 -9.9,-20.2 M-5.2,-15.4 Q-7.6,-17.2 -7.0,-20.6 M-3.2,-15.7 Q-4.6,-18.1 -4.3,-21.1 M-0.6,-15.9 Q-0.9,-19.0 -0.9,-22.1 M0.3,-15.6 Q-0.8,-19.0 0.4,-22.4 M2.5,-17.5 Q1.7,-20.1 3.2,-22.4 M5.1,-16.4 Q3.8,-18.8 6.2,-20.0 M6.2,-15.4 Q7.8,-17.0 7.9,-19.6 M8.2,-13.1 Q11.0,-14.0 11.0,-17.6 M9.6,-11.5 Q11.8,-13.0 13.1,-15.6 M10.7,-10.5 Q12.9,-11.8 14.5,-14.1 M10.7,-8.4 Q14.6,-9.4 16.9,-13.3 M13.6,-7.3 Q16.0,-6.3 17.1,-9.2 M12.9,-3.9 Q14.9,-6.8 18.1,-5.4 M11.9,-1.4 Q16.0,0.2 19.9,-2.4" stroke="#2e2e2e" stroke-width="0.55" fill="none" opacity="0.8" stroke-linecap="round"/></g>
<g transform="translate(50,321.2)"><ellipse cx="-11" cy="-4" rx="8" ry="11" fill="#444444" filter="url(#bl2)" opacity="0.7"/><path d="M0.5,-14 L6,-14 L7,-7 L4,-3 L1.5,-6Z" fill="#121212"/><path d="M1,-1 L5,-2 L8.5,4 L9,12 L5.5,13 L3,6 L0.5,4Z" fill="#121212"/><path d="M0,4 L-6,9 L-5,11 L1,7Z" fill="#161616"/></g>
</g></g></g>
<g clip-path="url(#c11)"><g filter="url(#mblur)"><g transform="rotate(-8 104.8 321.5)">
<ellipse cx="104.8" cy="321.5" rx="23.6" ry="27.5" fill="#1c1c1c" stroke="#bdbdbd" stroke-width="1.2"/>
<ellipse cx="104.8" cy="321.5" rx="21.40" ry="25.30" fill="url(#g11)"/>
<ellipse cx="104.8" cy="321.5" rx="20.90" ry="24.80" fill="#000" filter="url(#texL)" opacity="0.3"/>
<g transform="translate(104.8,321.5)"><path d="M12.1,-0.4 Q15.4,-2.0 18.9,-0.6 M13.2,1.5 Q16.5,3.3 20.0,2.3 M12.0,4.4 Q15.4,4.6 18.4,6.7 M11.3,5.3 Q13.6,8.4 17.2,8.1 M12.3,9.5 Q15.1,9.9 16.6,12.8 M11.1,10.2 Q12.3,13.6 15.5,14.4 M7.9,10.8 Q9.8,14.5 12.7,17.3 M7.2,12.0 Q10.3,14.1 11.0,18.4 M6.3,16.0 Q8.0,17.9 8.1,20.6 M4.1,15.6 Q3.7,19.6 6.0,22.6 M2.7,15.4 Q3.6,18.8 3.9,22.4 M1.3,15.2 Q3.4,18.9 2.0,23.4 M-0.4,16.6 Q-0.5,19.3 -0.5,22.0 M-2.6,15.1 Q-2.1,19.5 -4.1,23.5 M-4.1,14.0 Q-4.4,18.2 -6.4,21.7 M-6.5,15.3 Q-7.6,17.4 -8.4,19.8 M-7.4,11.4 Q-8.4,14.9 -11.0,17.0 M-9.8,11.8 Q-10.9,14.3 -13.0,15.6 M-10.2,10.4 Q-12.4,11.5 -13.7,14.0 M-13.3,8.8 Q-16.1,8.0 -17.2,11.3 M-11.5,6.7 Q-15.3,7.4 -18.2,10.5 M-14.6,5.0 Q-17.0,4.2 -18.7,6.4 M-12.3,2.3 Q-15.3,4.5 -18.8,3.5 M-15.3,0.2 Q-16.9,2.6 -18.8,0.3 M-12.3,-1.4 Q-16.1,-1.1 -19.7,-2.2 M-11.7,-3.6 Q-15.8,-4.5 -19.6,-6.0 M-11.1,-5.3 Q-14.4,-5.3 -16.8,-8.0 M-10.4,-7.8 Q-12.9,-9.6 -15.3,-11.4 M-12.2,-11.1 Q-13.2,-12.3 -14.4,-13.2 M-8.8,-11.7 Q-11.2,-14.8 -13.5,-18.0 M-7.9,-12.6 Q-9.6,-14.6 -10.8,-17.1 M-7.2,-15.6 Q-8.4,-18.1 -9.6,-20.7 M-4.8,-13.9 Q-6.9,-16.6 -7.0,-20.3 M-3.4,-17.2 Q-5.5,-18.5 -4.2,-21.1 M-0.4,-16.3 Q-0.9,-20.2 -0.6,-24.0 M1.5,-16.6 Q2.8,-19.8 2.1,-23.3 M2.5,-14.0 Q4.4,-17.3 3.7,-21.4 M5.6,-16.6 Q6.9,-18.3 7.0,-20.6 M6.8,-14.6 Q8.4,-17.5 9.7,-20.6 M8.4,-13.6 Q11.0,-14.5 11.0,-17.8 M8.6,-10.0 Q12.7,-11.8 14.5,-16.8 M9.4,-8.7 Q11.6,-13.0 15.8,-14.7 M12.4,-8.1 Q13.5,-10.5 15.9,-10.3 M12.8,-6.3 Q16.1,-5.8 18.2,-9.0 M11.3,-4.1 Q14.6,-7.6 19.2,-7.0 M12.1,-1.4 Q16.0,-0.6 19.8,-2.4" stroke="#8a8a8a" stroke-width="0.55" fill="none" opacity="0.8" stroke-linecap="round"/></g>
<g transform="translate(104.8,321.5)"><ellipse cx="-10" cy="-5" rx="9" ry="12" fill="#8a8a8a" filter="url(#bl2)" opacity="0.85"/><path d="M-3,-14 L0,-12 L3,-8 L6,-13 L7,-10 L4,-4 L3,-1 L0,-1 L-1,-6 Z" fill="#f2f2f2"/><path d="M-9,9 L-4,5 L2,1 L6,2 L8,10 L5,11 L2,6 L-6,11Z" fill="#f4f4f4"/></g>
</g></g></g>
<g clip-path="url(#c21)"><g filter="url(#mblur)"><g transform="rotate(-8 159 321)">
<ellipse cx="159" cy="321" rx="24.5" ry="27.8" fill="#1c1c1c" stroke="#b0b0b0" stroke-width="1.4"/>
<ellipse cx="159" cy="321" rx="22.7" ry="26.0" fill="none" stroke="#909090" stroke-width="0.9"/>
<ellipse cx="159" cy="321" rx="21.50" ry="24.80" fill="url(#g21)"/>
<ellipse cx="159" cy="321" rx="21.00" ry="24.30" fill="#000" filter="url(#texD)" opacity="0.3"/>
<g transform="translate(159,321)"><path d="M12.4,-0.2 Q15.9,-2.2 19.6,-0.4 M13.0,2.1 Q15.5,2.6 18.0,2.9 M13.1,3.5 Q15.7,2.4 17.7,4.8 M13.7,6.7 Q15.7,6.3 16.9,8.3 M13.0,9.3 Q14.9,10.2 16.5,11.9 M9.0,9.2 Q12.5,11.6 15.0,15.4 M8.7,10.0 Q10.1,13.6 13.3,15.3 M8.4,12.9 Q10.5,15.1 11.8,18.0 M5.5,12.4 Q7.8,14.9 8.3,18.7 M4.3,14.6 Q4.8,17.7 6.0,20.6 M2.7,14.6 Q2.6,18.7 4.1,22.5 M1.3,16.0 Q0.0,19.2 1.8,22.2 M-1.2,14.8 Q0.0,19.2 -1.8,23.4 M-2.9,16.5 Q-3.2,18.7 -3.6,20.8 M-4.2,15.7 Q-5.3,18.7 -5.8,21.9 M-6.4,13.0 Q-8.4,16.2 -9.7,19.8 M-7.9,12.6 Q-11.2,14.4 -11.7,18.8 M-9.7,12.0 Q-11.6,13.1 -12.4,15.4 M-12.1,11.1 Q-13.3,13.5 -15.7,14.3 M-12.1,8.7 Q-13.7,10.0 -15.4,11.1 M-11.1,6.0 Q-14.2,6.5 -16.5,9.0 M-12.1,4.5 Q-15.5,4.0 -18.1,6.7 M-13.3,2.7 Q-16.4,1.6 -19.1,3.9 M-15.0,-0.5 Q-16.8,-0.2 -18.7,-0.7 M-14.9,-2.1 Q-17.7,-0.8 -20.2,-2.9 M-12.3,-3.5 Q-15.2,-4.3 -18.1,-5.1 M-11.7,-6.0 Q-14.2,-6.9 -16.5,-8.5 M-12.0,-8.2 Q-14.3,-10.8 -17.5,-11.9 M-10.9,-10.3 Q-14.1,-10.6 -15.2,-14.3 M-9.6,-12.8 Q-10.4,-16.1 -13.2,-17.6 M-7.8,-12.4 Q-8.8,-15.1 -10.7,-17.1 M-6.0,-12.1 Q-8.7,-14.6 -9.2,-18.6 M-4.2,-13.0 Q-6.4,-15.7 -6.3,-19.5 M-3.2,-14.7 Q-2.4,-17.8 -4.4,-20.3 M-0.7,-14.2 Q-1.5,-17.8 -1.1,-21.5 M0.7,-14.1 Q2.8,-18.4 1.1,-23.1 M2.7,-15.4 Q1.7,-18.3 3.7,-20.6 M4.1,-14.0 Q4.0,-18.4 6.4,-21.9 M6.4,-16.0 Q5.9,-18.8 8.1,-20.2 M6.9,-11.2 Q10.5,-13.4 11.2,-18.1 M10.2,-11.7 Q11.3,-13.9 13.2,-15.2 M11.1,-11.1 Q13.5,-11.8 14.6,-14.6 M10.7,-7.8 Q14.7,-8.1 16.9,-12.3 M13.7,-6.3 Q16.5,-6.3 18.6,-8.5 M13.1,-4.7 Q14.9,-7.5 18.1,-6.4 M12.6,-2.7 Q15.6,-2.5 18.4,-3.9" stroke="#444444" stroke-width="0.55" fill="none" opacity="0.8" stroke-linecap="round"/></g>
<g transform="translate(159,321)"><path d="M3,-14 L8,-15 L6,-7 L3,-2 L4,3 L10,10 L5,13 L-1,5 L-3,0 L0,-7Z" fill="#101010"/><path d="M-6,5 L-3,3 L-2,4 L-6,8Z" fill="#181818"/><ellipse cx="-10" cy="0" rx="7" ry="10" fill="#666666" filter="url(#bl2)" opacity="0.7"/><circle cx="1" cy="23" r="1.2" fill="#f0f0f0"/></g>
</g></g></g>
<g clip-path="url(#c02)"><g filter="url(#mblur)"><g transform="rotate(0 50 382)">
<ellipse cx="50" cy="382" rx="23.8" ry="27.8" fill="#1c1c1c" stroke="#d4d4d4" stroke-width="1.2"/>
<ellipse cx="50" cy="382" rx="21.60" ry="25.60" fill="url(#g02)"/>
<ellipse cx="50" cy="382" rx="21.10" ry="25.10" fill="#000" filter="url(#texD)" opacity="0.3"/>
<g transform="translate(50,382)"><path d="M15.3,0.8 Q16.8,-1.1 18.3,0.9 M14.4,2.9 Q17.0,2.5 19.5,3.9 M13.5,4.7 Q16.5,4.0 18.7,6.5 M12.3,6.2 Q14.4,9.8 18.3,9.2 M11.5,9.1 Q14.2,10.0 16.0,12.6 M9.6,8.5 Q12.9,10.4 15.5,13.6 M10.5,13.0 Q11.8,15.0 13.4,16.6 M7.1,11.4 Q10.3,13.7 11.3,18.0 M7.1,16.4 Q9.3,17.8 9.1,20.8 M4.4,16.7 Q3.6,20.1 6.0,22.5 M2.6,17.2 Q1.1,20.0 3.4,22.1 M0.3,14.8 Q-0.4,19.2 0.5,23.6 M-0.9,16.4 Q-2.7,19.4 -1.2,22.8 M-3.0,17.3 Q-5.0,19.2 -3.9,22.0 M-5.0,14.9 Q-7.6,17.4 -7.2,21.5 M-6.5,14.2 Q-7.1,17.2 -8.9,19.4 M-7.4,11.9 Q-9.0,16.3 -12.0,19.4 M-9.3,10.9 Q-12.4,13.2 -14.5,17.0 M-10.7,10.3 Q-13.2,12.2 -15.3,14.7 M-10.7,8.0 Q-14.3,8.4 -16.4,12.3 M-11.2,5.6 Q-15.2,6.4 -18.5,9.2 M-12.2,3.5 Q-15.3,6.4 -19.4,5.5 M-12.8,1.9 Q-15.8,0.6 -18.5,2.7 M-13.8,0.6 Q-16.9,2.0 -20.2,0.9 M-15.0,-1.9 Q-16.9,-3.3 -19.0,-2.5 M-12.9,-3.5 Q-15.3,-5.0 -18.1,-5.0 M-14.3,-6.6 Q-15.3,-8.2 -17.0,-7.8 M-11.2,-7.3 Q-15.0,-7.9 -17.6,-11.4 M-11.5,-10.4 Q-14.3,-10.3 -15.1,-13.7 M-8.1,-11.2 Q-10.4,-13.4 -11.8,-16.5 M-8.3,-14.3 Q-9.9,-15.7 -10.5,-18.0 M-6.8,-13.9 Q-7.5,-17.7 -10.0,-20.5 M-4.4,-16.6 Q-4.4,-20.0 -6.0,-22.8 M-2.6,-14.7 Q-4.0,-18.6 -4.1,-22.9 M-1.4,-15.9 Q-3.3,-19.6 -2.1,-23.8 M1.0,-15.7 Q-0.1,-19.4 1.5,-22.9 M3.2,-14.7 Q3.7,-18.7 4.8,-22.5 M4.1,-15.8 Q3.0,-18.9 5.4,-21.0 M5.2,-13.4 Q6.9,-16.3 7.7,-19.8 M8.9,-15.0 Q12.0,-15.8 11.8,-19.7 M9.0,-12.0 Q11.0,-14.0 12.4,-16.6 M11.6,-10.9 Q12.9,-13.7 15.5,-14.6 M11.7,-8.6 Q12.6,-11.7 15.4,-11.3 M11.2,-5.9 Q14.3,-8.8 18.1,-9.6 M11.9,-4.6 Q14.5,-6.9 17.8,-6.8 M13.5,-2.2 Q16.2,-1.9 18.7,-3.0" stroke="#3a3a3a" stroke-width="0.55" fill="none" opacity="0.8" stroke-linecap="round"/></g>
<g transform="translate(50,382)"><ellipse cx="-1" cy="-11" rx="10" ry="8" fill="#505050" filter="url(#bl2)" opacity="0.75"/><path d="M-1.5,-9 L1.5,-9 L1.5,0 L-1,2 Z" fill="#141414"/><ellipse cx="-4.5" cy="7.5" rx="3.0" ry="6" transform="rotate(38 -4.5 7.5)" fill="#121212"/><ellipse cx="5.5" cy="7.5" rx="3.6" ry="7" transform="rotate(-32 5.5 7.5)" fill="#121212"/></g>
</g></g></g>
<g clip-path="url(#c12)"><g filter="url(#mblur)"><g transform="rotate(0 104.5 382)">
<ellipse cx="104.5" cy="382" rx="23.6" ry="27.8" fill="#1c1c1c" stroke="#b8b8b8" stroke-width="1.2"/>
<ellipse cx="104.5" cy="382" rx="21.40" ry="25.60" fill="url(#g12)"/>
<ellipse cx="104.5" cy="382" rx="20.90" ry="25.10" fill="#000" filter="url(#texL)" opacity="0.3"/>
<g transform="translate(104.5,382)"><path d="M14.5,0.2 Q17.0,2.4 19.8,0.3 M14.9,2.9 Q16.4,3.0 17.8,3.4 M13.4,5.2 Q16.7,4.5 19.1,7.5 M11.6,6.0 Q14.5,7.9 17.7,9.1 M11.0,7.2 Q12.9,10.5 16.4,10.7 M9.4,9.6 Q13.1,11.2 15.1,15.5 M8.2,10.8 Q9.2,14.4 12.1,15.9 M7.5,12.0 Q8.6,16.7 12.2,19.4 M7.3,16.0 Q7.6,18.5 9.2,20.2 M5.5,16.9 Q4.4,20.1 7.1,21.9 M2.1,15.2 Q3.9,18.4 3.1,22.2 M1.2,14.3 Q1.2,18.3 1.9,22.2 M-0.3,17.0 Q0.4,19.7 -0.4,22.5 M-3.2,15.7 Q-3.7,18.8 -4.4,21.8 M-4.2,13.4 Q-3.9,18.7 -7.2,22.7 M-7.1,15.6 Q-8.9,16.5 -8.7,18.9 M-7.9,13.7 Q-7.5,16.8 -10.2,17.7 M-10.1,13.7 Q-11.9,14.3 -12.2,16.6 M-12.2,10.9 Q-13.2,12.7 -15.0,13.5 M-12.5,9.0 Q-14.5,9.1 -15.6,11.3 M-13.8,6.6 Q-15.9,5.3 -16.8,8.0 M-12.4,4.8 Q-15.8,4.1 -18.5,7.1 M-15.0,2.7 Q-16.9,4.0 -19.0,3.5 M-12.4,0.3 Q-15.2,1.9 -18.2,0.4 M-15.2,-2.8 Q-16.9,-0.9 -18.1,-3.4 M-13.0,-5.2 Q-15.8,-5.0 -18.0,-7.1 M-13.5,-7.2 Q-15.6,-7.9 -17.4,-9.3 M-13.2,-8.7 Q-14.5,-9.5 -15.8,-10.4 M-9.2,-9.6 Q-10.9,-14.0 -14.9,-15.5 M-9.9,-12.9 Q-11.3,-14.3 -12.3,-16.1 M-9.0,-14.2 Q-10.3,-15.8 -11.3,-17.8 M-6.2,-16.2 Q-7.5,-19.0 -8.5,-22.0 M-4.8,-16.3 Q-6.4,-18.5 -6.4,-21.5 M-2.6,-14.4 Q-1.5,-18.6 -4.0,-22.1 M-0.3,-16.8 Q-1.0,-19.8 -0.5,-22.9 M0.4,-15.3 Q1.9,-19.4 0.6,-23.7 M2.8,-17.2 Q4.1,-20.0 3.8,-23.3 M5.1,-16.3 Q6.6,-18.3 6.6,-21.1 M6.0,-14.5 Q8.0,-17.5 8.7,-21.2 M8.5,-15.1 Q10.0,-17.0 10.9,-19.3 M8.9,-12.5 Q11.0,-14.2 12.0,-16.9 M11.4,-11.2 Q14.0,-11.8 15.1,-14.8 M12.0,-9.0 Q15.0,-9.4 16.7,-12.5 M13.5,-7.3 Q16.2,-7.7 18.2,-9.9 M14.9,-4.1 Q16.8,-4.5 18.7,-5.2 M14.6,-3.0 Q17.2,-3.6 19.9,-4.0" stroke="#8a8a8a" stroke-width="0.55" fill="none" opacity="0.8" stroke-linecap="round"/></g>
<g transform="translate(104.5,382)"><ellipse cx="-2" cy="-10" rx="12" ry="10" fill="#7c7c7c" filter="url(#bl2)" opacity="0.85"/><path d="M-1.5,-9 L2,-9 L2,0 L-1,2 Z" fill="#e8e8e8"/><ellipse cx="-4.5" cy="7.5" rx="3.2" ry="6.2" transform="rotate(40 -4.5 7.5)" fill="#f6f6f6"/><ellipse cx="5.5" cy="7.5" rx="3.8" ry="7.2" transform="rotate(-30 5.5 7.5)" fill="#f6f6f6"/></g>
</g></g></g>
<g clip-path="url(#c22)"><g filter="url(#mblur)"><g transform="rotate(0 159 382)">
<ellipse cx="159" cy="382" rx="24.5" ry="28.2" fill="#1c1c1c" stroke="#a8a8a8" stroke-width="1.4"/>
<ellipse cx="159" cy="382" rx="22.7" ry="26.4" fill="none" stroke="#8a8a8a" stroke-width="0.9"/>
<ellipse cx="159" cy="382" rx="21.50" ry="25.20" fill="url(#g22)"/>
<ellipse cx="159" cy="382" rx="21.00" ry="24.70" fill="#000" filter="url(#texD)" opacity="0.3"/>
<g transform="translate(159,382)"><path d="M15.3,-0.5 Q16.8,0.5 18.4,-0.6 M12.7,1.4 Q16.6,0.5 20.3,2.3 M13.0,4.5 Q15.7,5.4 18.4,6.3 M13.8,6.5 Q15.7,6.0 17.0,8.0 M11.2,7.2 Q13.2,10.5 16.7,10.7 M9.6,8.9 Q10.9,12.9 14.6,13.6 M10.0,11.6 Q11.3,14.1 13.5,15.6 M8.5,13.6 Q9.4,16.3 11.3,18.2 M5.9,14.8 Q8.4,16.2 7.8,19.5 M4.0,15.2 Q3.1,18.5 5.5,20.7 M2.8,16.7 Q4.3,19.7 3.9,23.2 M1.2,17.6 Q0.3,19.6 1.5,21.5 M-0.4,16.8 Q-2.3,19.8 -0.6,23.1 M-3.2,15.6 Q-2.5,18.6 -4.4,21.1 M-4.6,15.1 Q-6.8,16.9 -6.2,20.1 M-6.6,15.0 Q-6.7,17.7 -8.6,19.3 M-7.0,12.9 Q-8.3,15.9 -10.1,18.5 M-10.0,12.9 Q-10.8,16.2 -13.6,17.5 M-9.6,9.3 Q-13.4,10.3 -15.1,14.7 M-12.3,9.3 Q-12.9,12.5 -15.8,12.0 M-12.1,5.7 Q-14.5,7.2 -17.1,8.1 M-12.7,4.6 Q-15.4,6.0 -18.3,6.6 M-12.8,1.9 Q-15.2,4.1 -18.1,2.7 M-13.7,0.6 Q-16.3,-0.7 -18.9,0.8 M-14.3,-2.3 Q-17.4,-0.7 -20.2,-3.3 M-12.0,-3.3 Q-15.2,-4.4 -18.5,-5.0 M-11.9,-6.4 Q-15.9,-6.1 -18.5,-10.0 M-10.5,-8.1 Q-14.6,-8.6 -16.9,-12.9 M-10.9,-11.4 Q-12.8,-13.9 -15.2,-15.9 M-10.8,-12.8 Q-13.3,-12.8 -13.5,-15.9 M-7.8,-13.2 Q-10.4,-14.9 -10.9,-18.5 M-6.9,-14.2 Q-9.4,-16.0 -9.4,-19.5 M-4.9,-16.0 Q-5.9,-18.8 -6.7,-21.8 M-2.8,-15.1 Q-4.5,-17.8 -4.0,-21.3 M-0.9,-14.3 Q-0.4,-18.7 -1.5,-23.1 M0.9,-13.9 Q1.0,-18.0 1.5,-22.1 M2.5,-17.8 Q2.9,-20.3 3.3,-22.9 M4.4,-13.8 Q5.6,-17.0 6.6,-20.4 M6.8,-14.6 Q8.1,-16.3 8.7,-18.6 M8.8,-13.5 Q12.1,-14.6 12.3,-18.8 M8.6,-11.3 Q12.0,-12.6 12.8,-17.0 M11.7,-11.5 Q13.6,-13.2 15.4,-15.1 M13.2,-9.1 Q14.7,-11.4 17.1,-11.9 M11.7,-5.4 Q15.2,-4.9 17.6,-8.2 M12.6,-3.6 Q15.5,-3.9 18.2,-5.2 M14.2,-1.7 Q17.3,-1.0 20.2,-2.5" stroke="#444444" stroke-width="0.55" fill="none" opacity="0.8" stroke-linecap="round"/></g>
<g transform="translate(159,382)"><path d="M-13,-17 C-8,-20 -2,-18 -1,-13 C1,-9 -1,-3 -5,-3 C-10,-4 -13,-8 -14,-12Z" fill="#c2c2c2" filter="url(#bl)"/><ellipse cx="8" cy="-13" rx="3.3" ry="4" fill="#c8c8c8" filter="url(#bl)"/><ellipse cx="-3.5" cy="7" rx="2.8" ry="6" transform="rotate(30 -3.5 7)" fill="#0e0e0e"/><ellipse cx="5" cy="7" rx="3.2" ry="7" transform="rotate(-25 5 7)" fill="#0e0e0e"/><ellipse cx="-1" cy="24.5" rx="3" ry="1.4" fill="#eeeeee"/></g>
</g></g></g>
<rect x="155.50" y="409.60" width="3.00" height="1.80" fill="#8fc0e0"/>
<line x1="77.00" y1="229.90" x2="77.00" y2="411.40" stroke="#aaa" stroke-width="1.1"/>
<line x1="131.40" y1="229.90" x2="131.40" y2="411.40" stroke="#f0f0f0" stroke-width="1.2"/>
<line x1="23.10" y1="290.20" x2="185.10" y2="290.20" stroke="#d0d0d0" stroke-width="1.3"/>
<line x1="23.10" y1="351.20" x2="185.10" y2="351.20" stroke="#f0f0f0" stroke-width="1.3"/>
<rect x="187.70" y="229.90" width="80.20" height="59.70" fill="#eeeaf0"/>
<rect x="187.7" y="229.9" width="80.2" height="59.70" fill="#9890c8" filter="url(#noise)" opacity="0.4"/>
<rect x="187.7" y="229.9" width="80.2" height="59.70" fill="#c09a86" filter="url(#noise3)" opacity="0.15"/>
<rect x="231.7" y="229.9" width="36.2" height="27.7" fill="#eeeaf0"/>
<g clip-path="url(#ins0)" filter="url(#bl05)"><ellipse cx="254.0" cy="250.0" rx="2.5" ry="1.3" transform="rotate(166 254.0 250.0)" fill="#8c88d0" opacity="0.31"/><ellipse cx="248.6" cy="255.1" rx="2.5" ry="1.0" transform="rotate(84 248.6 255.1)" fill="#8c88d0" opacity="0.37"/><ellipse cx="251.3" cy="245.7" rx="1.7" ry="1.0" transform="rotate(165 251.3 245.7)" fill="#8c88d0" opacity="0.53"/><ellipse cx="238.0" cy="251.4" rx="2.2" ry="1.0" transform="rotate(0 238.0 251.4)" fill="#8c88d0" opacity="0.56"/><ellipse cx="239.7" cy="236.4" rx="2.5" ry="1.0" transform="rotate(173 239.7 236.4)" fill="#c09a86" opacity="0.46"/><ellipse cx="255.9" cy="236.2" rx="2.3" ry="1.4" transform="rotate(161 255.9 236.2)" fill="#c09a86" opacity="0.39"/><ellipse cx="245.0" cy="235.2" rx="1.6" ry="1.1" transform="rotate(109 245.0 235.2)" fill="#8c88d0" opacity="0.30"/><ellipse cx="255.9" cy="239.6" rx="2.4" ry="1.1" transform="rotate(57 255.9 239.6)" fill="#8c88d0" opacity="0.44"/><ellipse cx="256.8" cy="232.4" rx="1.5" ry="1.3" transform="rotate(152 256.8 232.4)" fill="#c09a86" opacity="0.31"/><ellipse cx="259.7" cy="240.3" rx="1.5" ry="0.9" transform="rotate(33 259.7 240.3)" fill="#8c88d0" opacity="0.59"/><ellipse cx="239.3" cy="250.3" rx="2.5" ry="1.1" transform="rotate(64 239.3 250.3)" fill="#c09a86" opacity="0.46"/><ellipse cx="259.3" cy="233.7" rx="2.4" ry="1.3" transform="rotate(7 259.3 233.7)" fill="#8c88d0" opacity="0.58"/><ellipse cx="235.6" cy="239.7" rx="2.5" ry="1.1" transform="rotate(166 235.6 239.7)" fill="#8c88d0" opacity="0.46"/><ellipse cx="243.3" cy="239.0" rx="1.6" ry="1.0" transform="rotate(124 243.3 239.0)" fill="#8c88d0" opacity="0.60"/><ellipse cx="238.1" cy="232.1" rx="2.1" ry="1.1" transform="rotate(43 238.1 232.1)" fill="#c09a86" opacity="0.48"/><ellipse cx="261.0" cy="242.6" rx="1.6" ry="1.4" transform="rotate(6 261.0 242.6)" fill="#8c88d0" opacity="0.45"/><ellipse cx="261.4" cy="234.3" rx="2.5" ry="1.2" transform="rotate(142 261.4 234.3)" fill="#8c88d0" opacity="0.33"/><ellipse cx="247.5" cy="234.7" rx="1.8" ry="1.1" transform="rotate(180 247.5 234.7)" fill="#8c88d0" opacity="0.56"/><ellipse cx="266.2" cy="242.6" rx="2.3" ry="1.1" transform="rotate(52 266.2 242.6)" fill="#8c88d0" opacity="0.42"/><ellipse cx="237.6" cy="240.6" rx="2.6" ry="1.2" transform="rotate(90 237.6 240.6)" fill="#c09a86" opacity="0.40"/><ellipse cx="235.6" cy="237.9" rx="2.5" ry="1.1" transform="rotate(141 235.6 237.9)" fill="#8c88d0" opacity="0.53"/><ellipse cx="256.5" cy="248.0" rx="1.9" ry="1.3" transform="rotate(51 256.5 248.0)" fill="#8c88d0" opacity="0.45"/><ellipse cx="259.1" cy="248.7" rx="2.5" ry="1.2" transform="rotate(105 259.1 248.7)" fill="#8c88d0" opacity="0.30"/><ellipse cx="251.4" cy="237.3" rx="2.0" ry="1.3" transform="rotate(117 251.4 237.3)" fill="#8c88d0" opacity="0.54"/><ellipse cx="244.5" cy="247.5" rx="2.4" ry="1.1" transform="rotate(152 244.5 247.5)" fill="#8c88d0" opacity="0.56"/><ellipse cx="256.2" cy="256.0" rx="2.1" ry="1.2" transform="rotate(30 256.2 256.0)" fill="#c09a86" opacity="0.55"/><ellipse cx="264.8" cy="243.2" rx="2.3" ry="1.3" transform="rotate(31 264.8 243.2)" fill="#8c88d0" opacity="0.53"/><ellipse cx="252.5" cy="248.0" rx="2.2" ry="1.3" transform="rotate(115 252.5 248.0)" fill="#8c88d0" opacity="0.52"/><ellipse cx="233.5" cy="235.0" rx="2.2" ry="1.0" transform="rotate(123 233.5 235.0)" fill="#8c88d0" opacity="0.49"/><ellipse cx="233.9" cy="243.0" rx="1.6" ry="1.0" transform="rotate(57 233.9 243.0)" fill="#8c88d0" opacity="0.35"/><ellipse cx="239.2" cy="231.8" rx="1.9" ry="1.2" transform="rotate(106 239.2 231.8)" fill="#8c88d0" opacity="0.37"/><ellipse cx="263.7" cy="230.9" rx="1.8" ry="1.1" transform="rotate(21 263.7 230.9)" fill="#8c88d0" opacity="0.55"/><ellipse cx="245.4" cy="231.8" rx="1.6" ry="1.2" transform="rotate(61 245.4 231.8)" fill="#8c88d0" opacity="0.47"/><ellipse cx="265.6" cy="251.9" rx="2.4" ry="1.2" transform="rotate(66 265.6 251.9)" fill="#8c88d0" opacity="0.34"/><ellipse cx="253.1" cy="245.4" rx="2.6" ry="1.2" transform="rotate(63 253.1 245.4)" fill="#c09a86" opacity="0.57"/><ellipse cx="232.5" cy="233.7" rx="2.2" ry="1.0" transform="rotate(113 232.5 233.7)" fill="#8c88d0" opacity="0.57"/><ellipse cx="245.5" cy="242.0" rx="1.8" ry="1.4" transform="rotate(68 245.5 242.0)" fill="#8c88d0" opacity="0.59"/><ellipse cx="264.0" cy="246.2" rx="2.6" ry="1.1" transform="rotate(75 264.0 246.2)" fill="#8c88d0" opacity="0.40"/><ellipse cx="266.5" cy="243.5" rx="2.0" ry="1.0" transform="rotate(112 266.5 243.5)" fill="#8c88d0" opacity="0.43"/><ellipse cx="242.6" cy="251.0" rx="1.5" ry="1.2" transform="rotate(49 242.6 251.0)" fill="#8c88d0" opacity="0.58"/><ellipse cx="259.5" cy="237.2" rx="1.7" ry="1.4" transform="rotate(53 259.5 237.2)" fill="#8c88d0" opacity="0.48"/><ellipse cx="248.9" cy="247.5" rx="2.3" ry="1.0" transform="rotate(137 248.9 247.5)" fill="#8c88d0" opacity="0.39"/><ellipse cx="250.9" cy="239.5" rx="2.1" ry="1.1" transform="rotate(65 250.9 239.5)" fill="#8c88d0" opacity="0.52"/><ellipse cx="252.9" cy="231.8" rx="2.0" ry="1.4" transform="rotate(160 252.9 231.8)" fill="#8c88d0" opacity="0.46"/><ellipse cx="233.0" cy="250.9" rx="2.1" ry="1.3" transform="rotate(114 233.0 250.9)" fill="#8c88d0" opacity="0.44"/><ellipse cx="264.0" cy="240.8" rx="2.4" ry="1.0" transform="rotate(53 264.0 240.8)" fill="#8c88d0" opacity="0.55"/></g>
<rect x="232.1" y="230.20000000000002" width="35.4" height="27.099999999999998" fill="none" stroke="#444" stroke-width="0.6" stroke-dasharray="1.6,1.2"/>
<rect x="187.70" y="290.80" width="80.20" height="59.80" fill="#f4efea"/>
<rect x="187.7" y="290.8" width="80.2" height="59.80" fill="#b8a8c0" filter="url(#noise)" opacity="0.22"/>
<rect x="187.7" y="290.8" width="80.2" height="59.80" fill="#c8a48c" filter="url(#noise3)" opacity="0.38"/>
<rect x="231.7" y="290.8" width="36.2" height="26.6" fill="#f4efea"/>
<g clip-path="url(#ins1)" filter="url(#bl05)"><ellipse cx="234.8" cy="312.4" rx="2.0" ry="1.0" transform="rotate(141 234.8 312.4)" fill="#b89484" opacity="0.57"/><ellipse cx="237.4" cy="303.6" rx="2.0" ry="1.1" transform="rotate(28 237.4 303.6)" fill="#b89484" opacity="0.48"/><ellipse cx="260.5" cy="293.5" rx="2.4" ry="1.3" transform="rotate(119 260.5 293.5)" fill="#b89484" opacity="0.31"/><ellipse cx="257.4" cy="315.9" rx="2.3" ry="0.9" transform="rotate(152 257.4 315.9)" fill="#c8a48c" opacity="0.37"/><ellipse cx="254.8" cy="315.2" rx="1.6" ry="1.0" transform="rotate(165 254.8 315.2)" fill="#b89484" opacity="0.34"/><ellipse cx="253.6" cy="302.0" rx="2.2" ry="0.9" transform="rotate(19 253.6 302.0)" fill="#b89484" opacity="0.41"/><ellipse cx="235.0" cy="293.2" rx="2.3" ry="1.3" transform="rotate(24 235.0 293.2)" fill="#b89484" opacity="0.43"/><ellipse cx="243.4" cy="306.6" rx="2.5" ry="1.1" transform="rotate(10 243.4 306.6)" fill="#b89484" opacity="0.51"/><ellipse cx="237.7" cy="307.3" rx="2.5" ry="1.2" transform="rotate(112 237.7 307.3)" fill="#b89484" opacity="0.38"/><ellipse cx="251.5" cy="298.1" rx="2.1" ry="1.0" transform="rotate(42 251.5 298.1)" fill="#b89484" opacity="0.41"/><ellipse cx="257.9" cy="296.2" rx="2.2" ry="0.9" transform="rotate(120 257.9 296.2)" fill="#b89484" opacity="0.33"/><ellipse cx="236.8" cy="306.4" rx="2.5" ry="1.1" transform="rotate(58 236.8 306.4)" fill="#b89484" opacity="0.54"/><ellipse cx="233.5" cy="309.6" rx="1.7" ry="1.4" transform="rotate(123 233.5 309.6)" fill="#b89484" opacity="0.37"/><ellipse cx="236.5" cy="315.7" rx="2.4" ry="1.0" transform="rotate(112 236.5 315.7)" fill="#b89484" opacity="0.41"/><ellipse cx="240.6" cy="300.0" rx="1.9" ry="1.1" transform="rotate(25 240.6 300.0)" fill="#b89484" opacity="0.55"/><ellipse cx="254.9" cy="311.6" rx="2.4" ry="1.2" transform="rotate(107 254.9 311.6)" fill="#b89484" opacity="0.47"/><ellipse cx="258.0" cy="301.5" rx="1.5" ry="1.0" transform="rotate(7 258.0 301.5)" fill="#b89484" opacity="0.57"/><ellipse cx="249.1" cy="310.5" rx="2.0" ry="1.3" transform="rotate(112 249.1 310.5)" fill="#b89484" opacity="0.43"/><ellipse cx="248.6" cy="294.3" rx="1.7" ry="1.1" transform="rotate(69 248.6 294.3)" fill="#b89484" opacity="0.56"/><ellipse cx="237.7" cy="298.1" rx="1.7" ry="1.0" transform="rotate(42 237.7 298.1)" fill="#b89484" opacity="0.44"/><ellipse cx="233.6" cy="314.5" rx="2.5" ry="1.2" transform="rotate(121 233.6 314.5)" fill="#b89484" opacity="0.44"/><ellipse cx="265.1" cy="294.7" rx="1.8" ry="1.2" transform="rotate(131 265.1 294.7)" fill="#b89484" opacity="0.35"/><ellipse cx="239.4" cy="292.4" rx="1.6" ry="1.1" transform="rotate(175 239.4 292.4)" fill="#b89484" opacity="0.41"/><ellipse cx="243.3" cy="303.3" rx="2.3" ry="1.3" transform="rotate(29 243.3 303.3)" fill="#b89484" opacity="0.37"/><ellipse cx="255.7" cy="314.9" rx="2.0" ry="1.4" transform="rotate(1 255.7 314.9)" fill="#b89484" opacity="0.32"/><ellipse cx="259.4" cy="301.9" rx="2.1" ry="1.4" transform="rotate(93 259.4 301.9)" fill="#b89484" opacity="0.41"/><ellipse cx="235.7" cy="293.6" rx="2.0" ry="1.4" transform="rotate(10 235.7 293.6)" fill="#c8a48c" opacity="0.37"/><ellipse cx="234.2" cy="301.6" rx="1.8" ry="1.1" transform="rotate(55 234.2 301.6)" fill="#b89484" opacity="0.32"/><ellipse cx="233.8" cy="315.7" rx="2.1" ry="1.1" transform="rotate(96 233.8 315.7)" fill="#b89484" opacity="0.33"/><ellipse cx="243.3" cy="294.5" rx="2.5" ry="1.2" transform="rotate(154 243.3 294.5)" fill="#b89484" opacity="0.36"/><ellipse cx="233.1" cy="305.1" rx="2.1" ry="1.1" transform="rotate(113 233.1 305.1)" fill="#b89484" opacity="0.52"/><ellipse cx="264.0" cy="299.4" rx="2.4" ry="1.0" transform="rotate(21 264.0 299.4)" fill="#b89484" opacity="0.39"/><ellipse cx="235.5" cy="310.8" rx="1.8" ry="1.0" transform="rotate(15 235.5 310.8)" fill="#b89484" opacity="0.37"/><ellipse cx="235.4" cy="302.3" rx="1.8" ry="0.9" transform="rotate(126 235.4 302.3)" fill="#b89484" opacity="0.31"/><ellipse cx="239.4" cy="298.8" rx="1.6" ry="1.1" transform="rotate(57 239.4 298.8)" fill="#b89484" opacity="0.53"/><ellipse cx="251.7" cy="313.8" rx="2.3" ry="1.2" transform="rotate(80 251.7 313.8)" fill="#b89484" opacity="0.55"/><ellipse cx="255.1" cy="315.3" rx="2.3" ry="1.0" transform="rotate(146 255.1 315.3)" fill="#b89484" opacity="0.41"/><ellipse cx="237.0" cy="293.4" rx="1.8" ry="1.2" transform="rotate(51 237.0 293.4)" fill="#b89484" opacity="0.32"/><ellipse cx="258.9" cy="305.5" rx="1.6" ry="1.0" transform="rotate(64 258.9 305.5)" fill="#b89484" opacity="0.56"/><ellipse cx="265.2" cy="306.9" rx="2.0" ry="1.1" transform="rotate(59 265.2 306.9)" fill="#b89484" opacity="0.30"/><ellipse cx="252.7" cy="312.1" rx="1.6" ry="1.2" transform="rotate(31 252.7 312.1)" fill="#b89484" opacity="0.51"/><ellipse cx="247.9" cy="314.9" rx="1.6" ry="1.1" transform="rotate(165 247.9 314.9)" fill="#b89484" opacity="0.44"/><ellipse cx="247.5" cy="302.7" rx="2.5" ry="1.2" transform="rotate(175 247.5 302.7)" fill="#b89484" opacity="0.48"/><ellipse cx="236.1" cy="311.8" rx="1.6" ry="1.4" transform="rotate(6 236.1 311.8)" fill="#b89484" opacity="0.47"/><ellipse cx="249.1" cy="313.5" rx="1.7" ry="1.0" transform="rotate(36 249.1 313.5)" fill="#b89484" opacity="0.47"/><ellipse cx="244.8" cy="310.3" rx="1.9" ry="1.0" transform="rotate(177 244.8 310.3)" fill="#b89484" opacity="0.55"/></g>
<rect x="232.1" y="291.1" width="35.4" height="26.0" fill="none" stroke="#444" stroke-width="0.6" stroke-dasharray="1.6,1.2"/>
<rect x="187.70" y="351.80" width="80.20" height="59.60" fill="#edeaf1"/>
<rect x="187.7" y="351.8" width="80.2" height="59.60" fill="#948ec8" filter="url(#noise)" opacity="0.4"/>
<rect x="187.7" y="351.8" width="80.2" height="59.60" fill="#c0a090" filter="url(#noise3)" opacity="0.15"/>
<rect x="231.7" y="351.8" width="36.2" height="27.5" fill="#edeaf1"/>
<g clip-path="url(#ins2)" filter="url(#bl05)"><ellipse cx="261.8" cy="368.6" rx="1.7" ry="1.3" transform="rotate(88 261.8 368.6)" fill="#9890d0" opacity="0.31"/><ellipse cx="238.3" cy="355.3" rx="2.5" ry="1.0" transform="rotate(143 238.3 355.3)" fill="#9890d0" opacity="0.40"/><ellipse cx="256.1" cy="374.8" rx="2.4" ry="1.1" transform="rotate(2 256.1 374.8)" fill="#9890d0" opacity="0.45"/><ellipse cx="252.7" cy="357.5" rx="1.8" ry="0.9" transform="rotate(56 252.7 357.5)" fill="#9890d0" opacity="0.41"/><ellipse cx="248.9" cy="370.7" rx="2.6" ry="1.3" transform="rotate(166 248.9 370.7)" fill="#9890d0" opacity="0.51"/><ellipse cx="255.6" cy="366.5" rx="1.9" ry="1.2" transform="rotate(122 255.6 366.5)" fill="#9890d0" opacity="0.46"/><ellipse cx="242.3" cy="354.8" rx="1.9" ry="1.2" transform="rotate(137 242.3 354.8)" fill="#9890d0" opacity="0.51"/><ellipse cx="243.1" cy="376.5" rx="2.3" ry="0.9" transform="rotate(136 243.1 376.5)" fill="#9890d0" opacity="0.50"/><ellipse cx="265.5" cy="375.7" rx="2.4" ry="1.3" transform="rotate(110 265.5 375.7)" fill="#9890d0" opacity="0.36"/><ellipse cx="250.3" cy="375.7" rx="2.6" ry="1.2" transform="rotate(71 250.3 375.7)" fill="#9890d0" opacity="0.30"/><ellipse cx="246.0" cy="357.3" rx="2.5" ry="1.4" transform="rotate(110 246.0 357.3)" fill="#9890d0" opacity="0.42"/><ellipse cx="236.3" cy="370.4" rx="2.3" ry="1.1" transform="rotate(160 236.3 370.4)" fill="#9890d0" opacity="0.36"/><ellipse cx="243.0" cy="359.6" rx="2.5" ry="1.0" transform="rotate(114 243.0 359.6)" fill="#9890d0" opacity="0.53"/><ellipse cx="240.3" cy="354.4" rx="2.4" ry="1.3" transform="rotate(131 240.3 354.4)" fill="#9890d0" opacity="0.43"/><ellipse cx="247.2" cy="366.3" rx="1.8" ry="1.0" transform="rotate(109 247.2 366.3)" fill="#c0a090" opacity="0.59"/><ellipse cx="239.0" cy="353.6" rx="2.1" ry="1.2" transform="rotate(33 239.0 353.6)" fill="#9890d0" opacity="0.36"/><ellipse cx="253.0" cy="369.3" rx="2.3" ry="0.9" transform="rotate(87 253.0 369.3)" fill="#9890d0" opacity="0.55"/><ellipse cx="265.5" cy="360.9" rx="2.2" ry="1.4" transform="rotate(41 265.5 360.9)" fill="#c0a090" opacity="0.51"/><ellipse cx="261.5" cy="365.0" rx="1.7" ry="1.0" transform="rotate(17 261.5 365.0)" fill="#9890d0" opacity="0.35"/><ellipse cx="253.7" cy="355.5" rx="2.3" ry="1.3" transform="rotate(145 253.7 355.5)" fill="#9890d0" opacity="0.51"/><ellipse cx="264.4" cy="377.2" rx="2.6" ry="1.0" transform="rotate(19 264.4 377.2)" fill="#9890d0" opacity="0.32"/><ellipse cx="239.6" cy="362.3" rx="2.2" ry="1.3" transform="rotate(15 239.6 362.3)" fill="#9890d0" opacity="0.42"/><ellipse cx="251.2" cy="362.4" rx="2.2" ry="1.1" transform="rotate(123 251.2 362.4)" fill="#9890d0" opacity="0.45"/><ellipse cx="265.7" cy="376.9" rx="2.3" ry="1.3" transform="rotate(53 265.7 376.9)" fill="#9890d0" opacity="0.34"/><ellipse cx="249.0" cy="361.8" rx="2.5" ry="1.1" transform="rotate(52 249.0 361.8)" fill="#9890d0" opacity="0.45"/><ellipse cx="256.5" cy="372.9" rx="1.8" ry="1.1" transform="rotate(153 256.5 372.9)" fill="#9890d0" opacity="0.46"/><ellipse cx="234.2" cy="363.5" rx="2.2" ry="0.9" transform="rotate(49 234.2 363.5)" fill="#9890d0" opacity="0.33"/><ellipse cx="249.0" cy="377.9" rx="1.9" ry="1.4" transform="rotate(17 249.0 377.9)" fill="#9890d0" opacity="0.41"/><ellipse cx="260.5" cy="352.9" rx="1.9" ry="0.9" transform="rotate(45 260.5 352.9)" fill="#9890d0" opacity="0.44"/><ellipse cx="245.7" cy="366.0" rx="1.7" ry="1.4" transform="rotate(80 245.7 366.0)" fill="#9890d0" opacity="0.44"/><ellipse cx="235.4" cy="359.9" rx="2.3" ry="1.2" transform="rotate(10 235.4 359.9)" fill="#c0a090" opacity="0.42"/><ellipse cx="259.4" cy="363.9" rx="2.5" ry="1.2" transform="rotate(114 259.4 363.9)" fill="#9890d0" opacity="0.31"/><ellipse cx="233.3" cy="372.4" rx="2.5" ry="1.3" transform="rotate(165 233.3 372.4)" fill="#9890d0" opacity="0.41"/><ellipse cx="267.0" cy="372.1" rx="1.7" ry="1.3" transform="rotate(76 267.0 372.1)" fill="#c0a090" opacity="0.59"/><ellipse cx="266.8" cy="358.3" rx="1.8" ry="1.1" transform="rotate(52 266.8 358.3)" fill="#9890d0" opacity="0.50"/><ellipse cx="236.8" cy="357.1" rx="1.6" ry="1.1" transform="rotate(162 236.8 357.1)" fill="#9890d0" opacity="0.57"/><ellipse cx="239.3" cy="353.3" rx="2.6" ry="1.2" transform="rotate(25 239.3 353.3)" fill="#9890d0" opacity="0.37"/><ellipse cx="264.2" cy="376.7" rx="1.7" ry="1.1" transform="rotate(48 264.2 376.7)" fill="#9890d0" opacity="0.53"/><ellipse cx="245.4" cy="372.6" rx="2.1" ry="1.4" transform="rotate(126 245.4 372.6)" fill="#9890d0" opacity="0.33"/><ellipse cx="236.3" cy="369.2" rx="1.9" ry="1.1" transform="rotate(105 236.3 369.2)" fill="#9890d0" opacity="0.59"/><ellipse cx="240.8" cy="367.3" rx="2.1" ry="1.3" transform="rotate(24 240.8 367.3)" fill="#9890d0" opacity="0.44"/><ellipse cx="256.8" cy="353.0" rx="2.0" ry="1.2" transform="rotate(110 256.8 353.0)" fill="#9890d0" opacity="0.54"/><ellipse cx="234.4" cy="365.6" rx="1.9" ry="1.1" transform="rotate(4 234.4 365.6)" fill="#9890d0" opacity="0.39"/><ellipse cx="248.0" cy="369.5" rx="1.9" ry="1.2" transform="rotate(128 248.0 369.5)" fill="#c0a090" opacity="0.58"/><ellipse cx="265.3" cy="378.0" rx="1.7" ry="1.4" transform="rotate(14 265.3 378.0)" fill="#9890d0" opacity="0.43"/><ellipse cx="257.9" cy="366.3" rx="2.5" ry="1.0" transform="rotate(99 257.9 366.3)" fill="#9890d0" opacity="0.55"/></g>
<rect x="232.1" y="352.1" width="35.4" height="26.9" fill="none" stroke="#444" stroke-width="0.6" stroke-dasharray="1.6,1.2"/>
<line x1="187.70" y1="290.20" x2="267.90" y2="290.20" stroke="#fff" stroke-width="1.2"/>
<line x1="187.70" y1="351.20" x2="267.90" y2="351.20" stroke="#fff" stroke-width="1.2"/>
<ellipse cx="200.8" cy="268" rx="1.4" ry="2.4" fill="#8a5a40" opacity="0.65" filter="url(#bl05)"/>
<line x1="261.00" y1="377.60" x2="266.00" y2="377.60" stroke="#e33" stroke-width="1"/>
<line x1="261.00" y1="408.00" x2="266.00" y2="408.00" stroke="#111" stroke-width="1.2"/>
<text x="276.00" y="211.80" font-size="14.4" text-anchor="start" font-weight="bold" fill="#000" stroke="#000" stroke-width="0.45">F</text>
<rect x="316.70" y="237.80" width="8.40" height="5.60" fill="#f09ca4"/>
<text x="327.3" y="243.7" font-size="7.7" fill="#1a1a1a" stroke="#1a1a1a" stroke-width="0.22">PRMT6<tspan font-size="4.3" dy="-3" stroke-width="0.1"> High</tspan></text>
<rect x="367.20" y="237.80" width="8.30" height="5.60" fill="#d6d6d6"/>
<text x="378" y="243.7" font-size="7.7" fill="#1a1a1a" stroke="#1a1a1a" stroke-width="0.22">PRMT6<tspan font-size="4.3" dy="-3" stroke-width="0.1"> Low</tspan></text>
<line x1="318.30" y1="251.50" x2="318.30" y2="373.30" stroke="#cccccc" stroke-width="1"/>
<line x1="318.30" y1="373.30" x2="412.50" y2="373.30" stroke="#cccccc" stroke-width="1"/>
<line x1="315.00" y1="272.30" x2="318.30" y2="272.30" stroke="#cccccc" stroke-width="1"/>
<text x="312.70" y="275.60" font-size="9.06" text-anchor="end" fill="#1a1a1a" stroke="#1a1a1a" stroke-width="0.22">100</text>
<line x1="315.00" y1="297.10" x2="318.30" y2="297.10" stroke="#cccccc" stroke-width="1"/>
<text x="312.70" y="300.40" font-size="9.06" text-anchor="end" fill="#1a1a1a" stroke="#1a1a1a" stroke-width="0.22">75</text>
<line x1="315.00" y1="322.20" x2="318.30" y2="322.20" stroke="#cccccc" stroke-width="1"/>
<text x="312.70" y="325.50" font-size="9.06" text-anchor="end" fill="#1a1a1a" stroke="#1a1a1a" stroke-width="0.22">50</text>
<line x1="315.00" y1="347.60" x2="318.30" y2="347.60" stroke="#cccccc" stroke-width="1"/>
<text x="312.70" y="350.90" font-size="9.06" text-anchor="end" fill="#1a1a1a" stroke="#1a1a1a" stroke-width="0.22">25</text>
<line x1="315.00" y1="372.70" x2="318.30" y2="372.70" stroke="#cccccc" stroke-width="1"/>
<text x="312.70" y="376.00" font-size="9.06" text-anchor="end" fill="#1a1a1a" stroke="#1a1a1a" stroke-width="0.22">0</text>
<text x="294.20" y="315.70" font-size="9.2" text-anchor="middle" fill="#1a1a1a" stroke="#1a1a1a" stroke-width="0.22" transform="rotate(-90 294.2 315.7)">PRMT6 expression (%)</text>
<rect x="327.00" y="272.30" width="18.90" height="27.39" fill="#f09ca4"/>
<rect x="327.00" y="299.69" width="18.90" height="73.01" fill="#d6d6d6"/>
<text x="336.75" y="288.70" font-size="7.0" text-anchor="middle" fill="#fff">27.28</text>
<text x="336.75" y="336.70" font-size="7.0" text-anchor="middle" fill="#fff">72.72</text>
<rect x="355.50" y="272.30" width="18.70" height="38.61" fill="#f09ca4"/>
<rect x="355.50" y="310.91" width="18.70" height="61.79" fill="#d6d6d6"/>
<text x="365.15" y="293.50" font-size="7.0" text-anchor="middle" fill="#fff">38.46</text>
<text x="365.15" y="341.50" font-size="7.0" text-anchor="middle" fill="#fff">61.54</text>
<rect x="383.70" y="272.30" width="18.90" height="75.30" fill="#f09ca4"/>
<rect x="383.70" y="347.60" width="18.90" height="25.10" fill="#d6d6d6"/>
<text x="393.45" y="317.60" font-size="7.0" text-anchor="middle" fill="#fff">75.00</text>
<text x="393.45" y="364.30" font-size="7.0" text-anchor="middle" fill="#fff">25.00</text>
<line x1="335.40" y1="260.60" x2="364.60" y2="260.60" stroke="#333" stroke-width="1"/>
<line x1="367.20" y1="260.60" x2="395.50" y2="260.60" stroke="#333" stroke-width="1"/>
<text x="350.40" y="262.00" font-size="14" text-anchor="middle" font-weight="bold" fill="#111" stroke="#111" stroke-width="0.22">*</text>
<text x="374.9" y="262" font-size="14" font-weight="bold" letter-spacing="1" fill="#111">**</text>
<text x="336.10" y="268.50" font-size="7.6" text-anchor="middle" fill="#1a1a1a" stroke="#1a1a1a" stroke-width="0.22">n=11</text>
<text x="365.90" y="268.50" font-size="7.6" text-anchor="middle" fill="#1a1a1a" stroke="#1a1a1a" stroke-width="0.22">n=13</text>
<text x="393.10" y="268.50" font-size="7.6" text-anchor="middle" fill="#1a1a1a" stroke="#1a1a1a" stroke-width="0.22">n=16</text>
<text x="327.20" y="384.10" font-size="8.1" text-anchor="middle" fill="#1a1a1a" stroke="#1a1a1a" stroke-width="0.22">noninvasive</text>
<text x="365.90" y="384.10" font-size="7.95" text-anchor="middle" fill="#1a1a1a" stroke="#1a1a1a" stroke-width="0.22">invasive</text>
<text x="381.80" y="384.10" font-size="9.1" text-anchor="start" fill="#1a1a1a" stroke="#1a1a1a" stroke-width="0.22">Glioblastoma</text>
<line x1="325.60" y1="388.20" x2="378.70" y2="388.20" stroke="#333" stroke-width="0.9"/>
<text x="353.20" y="396.80" font-size="9.3" text-anchor="middle" fill="#1a1a1a" stroke="#1a1a1a" stroke-width="0.22">LGG</text>
<text x="431.30" y="211.30" font-size="14.8" text-anchor="start" font-weight="bold" fill="#000" stroke="#000" stroke-width="0.45">G</text>
<text x="501.60" y="208.60" font-size="10.2" text-anchor="middle" fill="#1a1a1a" stroke="#1a1a1a" stroke-width="0.22">Scramble</text>
<text x="588.80" y="208.60" font-size="10.26" text-anchor="middle" fill="#1a1a1a" stroke="#1a1a1a" stroke-width="0.22">shPRMT6</text>
<line x1="457.20" y1="211.80" x2="541.40" y2="211.80" stroke="#555" stroke-width="1"/>
<line x1="548.50" y1="211.80" x2="633.70" y2="211.80" stroke="#555" stroke-width="1"/>
<rect x="456.60" y="216.30" width="29.52" height="14.95" fill="#418abf" stroke="#a0a0a0" stroke-width="0.6"/>
<text x="471.96" y="226.08" font-size="6.6" text-anchor="middle" fill="#fff">−1.21</text>
<rect x="486.12" y="216.30" width="29.52" height="14.95" fill="#82112b" stroke="#a0a0a0" stroke-width="0.6"/>
<text x="501.48" y="226.08" font-size="6.6" text-anchor="middle" fill="#fff">1.58</text>
<rect x="515.64" y="216.30" width="29.52" height="14.95" fill="#fbcdb6" stroke="#a0a0a0" stroke-width="0.6"/>
<text x="531.00" y="226.08" font-size="6.6" text-anchor="middle" fill="#fff">0.39</text>
<rect x="545.16" y="216.30" width="29.52" height="14.95" fill="#c1ddec" stroke="#a0a0a0" stroke-width="0.6"/>
<text x="560.52" y="226.08" font-size="6.6" text-anchor="middle" fill="#fff">−0.51</text>
<rect x="574.68" y="216.30" width="29.52" height="14.95" fill="#a5cfe4" stroke="#a0a0a0" stroke-width="0.6"/>
<text x="590.04" y="226.08" font-size="6.6" text-anchor="middle" fill="#fff">−0.67</text>
<rect x="604.20" y="216.30" width="29.52" height="14.95" fill="#facab2" stroke="#a0a0a0" stroke-width="0.6"/>
<text x="619.56" y="226.08" font-size="6.6" text-anchor="middle" fill="#fff">0.41</text>
<text x="636.00" y="226.88" font-size="8.63" text-anchor="start" fill="#1a1a1a" stroke="#1a1a1a" stroke-width="0.22">TGFB2</text>
<rect x="456.60" y="231.25" width="29.52" height="14.95" fill="#296bae" stroke="#a0a0a0" stroke-width="0.6"/>
<text x="471.96" y="241.03" font-size="6.6" text-anchor="middle" fill="#fff">−1.46</text>
<rect x="486.12" y="231.25" width="29.52" height="14.95" fill="#d25b4f" stroke="#a0a0a0" stroke-width="0.6"/>
<text x="501.48" y="241.03" font-size="6.6" text-anchor="middle" fill="#fff">1.04</text>
<rect x="515.64" y="231.25" width="29.52" height="14.95" fill="#d86755" stroke="#a0a0a0" stroke-width="0.6"/>
<text x="531.00" y="241.03" font-size="6.6" text-anchor="middle" fill="#fff">0.98</text>
<rect x="545.16" y="231.25" width="29.52" height="14.95" fill="#80b9d8" stroke="#a0a0a0" stroke-width="0.6"/>
<text x="560.52" y="241.03" font-size="6.6" text-anchor="middle" fill="#fff">−0.86</text>
<rect x="574.68" y="231.25" width="29.52" height="14.95" fill="#fdddca" stroke="#a0a0a0" stroke-width="0.6"/>
<text x="590.04" y="241.03" font-size="6.6" text-anchor="middle" fill="#fff">0.28</text>
<rect x="604.20" y="231.25" width="29.52" height="14.95" fill="#f9f1ed" stroke="#a0a0a0" stroke-width="0.6"/>
<text x="619.56" y="241.03" font-size="6.6" text-anchor="middle" fill="#fff">0.02</text>
<text x="636.00" y="241.82" font-size="8.63" text-anchor="start" fill="#1a1a1a" stroke="#1a1a1a" stroke-width="0.22">ROCK2</text>
<rect x="456.60" y="246.20" width="29.52" height="14.95" fill="#bc303a" stroke="#a0a0a0" stroke-width="0.6"/>
<text x="471.96" y="255.98" font-size="6.6" text-anchor="middle" fill="#fff">1.26</text>
<rect x="486.12" y="246.20" width="29.52" height="14.95" fill="#418abf" stroke="#a0a0a0" stroke-width="0.6"/>
<text x="501.48" y="255.98" font-size="6.6" text-anchor="middle" fill="#fff">−1.21</text>
<rect x="515.64" y="246.20" width="29.52" height="14.95" fill="#f9c3a9" stroke="#a0a0a0" stroke-width="0.6"/>
<text x="531.00" y="255.98" font-size="6.6" text-anchor="middle" fill="#fff">0.46</text>
<rect x="545.16" y="246.20" width="29.52" height="14.95" fill="#418abf" stroke="#a0a0a0" stroke-width="0.6"/>
<text x="560.52" y="255.98" font-size="6.6" text-anchor="middle" fill="#fff">−1.21</text>
<rect x="574.68" y="246.20" width="29.52" height="14.95" fill="#fbcdb6" stroke="#a0a0a0" stroke-width="0.6"/>
<text x="590.04" y="255.98" font-size="6.6" text-anchor="middle" fill="#fff">0.39</text>
<rect x="604.20" y="246.20" width="29.52" height="14.95" fill="#fcd8c3" stroke="#a0a0a0" stroke-width="0.6"/>
<text x="619.56" y="255.98" font-size="6.6" text-anchor="middle" fill="#fff">0.32</text>
<text x="636.00" y="256.78" font-size="8.63" text-anchor="start" fill="#1a1a1a" stroke="#1a1a1a" stroke-width="0.22">CCL2</text>
<rect x="456.60" y="261.15" width="29.52" height="14.95" fill="#a91d32" stroke="#a0a0a0" stroke-width="0.6"/>
<text x="471.96" y="270.93" font-size="6.6" text-anchor="middle" fill="#fff">1.39</text>
<rect x="486.12" y="261.15" width="29.52" height="14.95" fill="#3074b3" stroke="#a0a0a0" stroke-width="0.6"/>
<text x="501.48" y="270.93" font-size="6.6" text-anchor="middle" fill="#fff">−1.39</text>
<rect x="515.64" y="261.15" width="29.52" height="14.95" fill="#ef9c7e" stroke="#a0a0a0" stroke-width="0.6"/>
<text x="531.00" y="270.93" font-size="6.6" text-anchor="middle" fill="#fff">0.70</text>
<rect x="545.16" y="261.15" width="29.52" height="14.95" fill="#fcd5bf" stroke="#a0a0a0" stroke-width="0.6"/>
<text x="560.52" y="270.93" font-size="6.6" text-anchor="middle" fill="#fff">0.34</text>
<rect x="574.68" y="261.15" width="29.52" height="14.95" fill="#bedbeb" stroke="#a0a0a0" stroke-width="0.6"/>
<text x="590.04" y="270.93" font-size="6.6" text-anchor="middle" fill="#fff">−0.53</text>
<rect x="604.20" y="261.15" width="29.52" height="14.95" fill="#bfdceb" stroke="#a0a0a0" stroke-width="0.6"/>
<text x="619.56" y="270.93" font-size="6.6" text-anchor="middle" fill="#fff">−0.52</text>
<text x="636.00" y="271.73" font-size="8.63" text-anchor="start" fill="#1a1a1a" stroke="#1a1a1a" stroke-width="0.22">TGFB1</text>
<rect x="456.60" y="276.10" width="29.52" height="14.95" fill="#c74545" stroke="#a0a0a0" stroke-width="0.6"/>
<text x="471.96" y="285.88" font-size="6.6" text-anchor="middle" fill="#fff">1.15</text>
<rect x="486.12" y="276.10" width="29.52" height="14.95" fill="#4e99c6" stroke="#a0a0a0" stroke-width="0.6"/>
<text x="501.48" y="285.88" font-size="6.6" text-anchor="middle" fill="#fff">−1.09</text>
<rect x="515.64" y="276.10" width="29.52" height="14.95" fill="#f2a282" stroke="#a0a0a0" stroke-width="0.6"/>
<text x="531.00" y="285.88" font-size="6.6" text-anchor="middle" fill="#fff">0.67</text>
<rect x="545.16" y="276.10" width="29.52" height="14.95" fill="#e6876e" stroke="#a0a0a0" stroke-width="0.6"/>
<text x="560.52" y="285.88" font-size="6.6" text-anchor="middle" fill="#fff">0.81</text>
<rect x="574.68" y="276.10" width="29.52" height="14.95" fill="#569fc9" stroke="#a0a0a0" stroke-width="0.6"/>
<text x="590.04" y="285.88" font-size="6.6" text-anchor="middle" fill="#fff">−1.05</text>
<rect x="604.20" y="276.10" width="29.52" height="14.95" fill="#c5dfed" stroke="#a0a0a0" stroke-width="0.6"/>
<text x="619.56" y="285.88" font-size="6.6" text-anchor="middle" fill="#fff">−0.49</text>
<text x="636.00" y="286.68" font-size="8.63" text-anchor="start" fill="#1a1a1a" stroke="#1a1a1a" stroke-width="0.22">CD44</text>
<rect x="456.60" y="291.05" width="29.52" height="14.95" fill="#710c29" stroke="#a0a0a0" stroke-width="0.6"/>
<text x="471.96" y="300.83" font-size="6.6" text-anchor="middle" fill="#fff">1.66</text>
<rect x="486.12" y="291.05" width="29.52" height="14.95" fill="#fcdfce" stroke="#a0a0a0" stroke-width="0.6"/>
<text x="501.48" y="300.83" font-size="6.6" text-anchor="middle" fill="#fff">0.25</text>
<rect x="515.64" y="291.05" width="29.52" height="14.95" fill="#f7f7f7" stroke="#a0a0a0" stroke-width="0.6"/>
<text x="531.00" y="300.83" font-size="6.6" text-anchor="middle" fill="#fff">−0.06</text>
<rect x="545.16" y="291.05" width="29.52" height="14.95" fill="#f8f5f3" stroke="#a0a0a0" stroke-width="0.6"/>
<text x="560.52" y="300.83" font-size="6.6" text-anchor="middle" fill="#fff">−0.03</text>
<rect x="574.68" y="291.05" width="29.52" height="14.95" fill="#d5e7f1" stroke="#a0a0a0" stroke-width="0.6"/>
<text x="590.04" y="300.83" font-size="6.6" text-anchor="middle" fill="#fff">−0.39</text>
<rect x="604.20" y="291.05" width="29.52" height="14.95" fill="#2d70b1" stroke="#a0a0a0" stroke-width="0.6"/>
<text x="619.56" y="300.83" font-size="6.6" text-anchor="middle" fill="#fff">−1.42</text>
<text x="636.00" y="301.63" font-size="8.63" text-anchor="start" fill="#1a1a1a" stroke="#1a1a1a" stroke-width="0.22">MMP9</text>
<rect x="456.60" y="306.00" width="29.52" height="14.95" fill="#d66353" stroke="#a0a0a0" stroke-width="0.6"/>
<text x="471.96" y="315.78" font-size="6.6" text-anchor="middle" fill="#fff">1.00</text>
<rect x="486.12" y="306.00" width="29.52" height="14.95" fill="#cf554c" stroke="#a0a0a0" stroke-width="0.6"/>
<text x="501.48" y="315.78" font-size="6.6" text-anchor="middle" fill="#fff">1.07</text>
<rect x="515.64" y="306.00" width="29.52" height="14.95" fill="#68aacf" stroke="#a0a0a0" stroke-width="0.6"/>
<text x="531.00" y="315.78" font-size="6.6" text-anchor="middle" fill="#fff">−0.97</text>
<rect x="545.16" y="306.00" width="29.52" height="14.95" fill="#f0f4f6" stroke="#a0a0a0" stroke-width="0.6"/>
<text x="560.52" y="315.78" font-size="6.6" text-anchor="middle" fill="#fff">−0.13</text>
<rect x="574.68" y="306.00" width="29.52" height="14.95" fill="#fbd0ba" stroke="#a0a0a0" stroke-width="0.6"/>
<text x="590.04" y="315.78" font-size="6.6" text-anchor="middle" fill="#fff">0.37</text>
<rect x="604.20" y="306.00" width="29.52" height="14.95" fill="#357bb7" stroke="#a0a0a0" stroke-width="0.6"/>
<text x="619.56" y="315.78" font-size="6.6" text-anchor="middle" fill="#fff">−1.33</text>
<text x="636.00" y="316.58" font-size="8.63" text-anchor="start" fill="#1a1a1a" stroke="#1a1a1a" stroke-width="0.22">MUC4</text>
<rect x="456.60" y="320.95" width="29.52" height="14.95" fill="#fbd2bc" stroke="#a0a0a0" stroke-width="0.6"/>
<text x="471.96" y="330.73" font-size="6.6" text-anchor="middle" fill="#fff">0.36</text>
<rect x="486.12" y="320.95" width="29.52" height="14.95" fill="#c54143" stroke="#a0a0a0" stroke-width="0.6"/>
<text x="501.48" y="330.73" font-size="6.6" text-anchor="middle" fill="#fff">1.17</text>
<rect x="515.64" y="320.95" width="29.52" height="14.95" fill="#f9c1a7" stroke="#a0a0a0" stroke-width="0.6"/>
<text x="531.00" y="330.73" font-size="6.6" text-anchor="middle" fill="#fff">0.47</text>
<rect x="545.16" y="320.95" width="29.52" height="14.95" fill="#0f3867" stroke="#a0a0a0" stroke-width="0.6"/>
<text x="560.52" y="330.73" font-size="6.6" text-anchor="middle" fill="#fff">−1.80</text>
<rect x="574.68" y="320.95" width="29.52" height="14.95" fill="#f9f1ed" stroke="#a0a0a0" stroke-width="0.6"/>
<text x="590.04" y="330.73" font-size="6.6" text-anchor="middle" fill="#fff">0.02</text>
<rect x="604.20" y="320.95" width="29.52" height="14.95" fill="#e5eff4" stroke="#a0a0a0" stroke-width="0.6"/>
<text x="619.56" y="330.73" font-size="6.6" text-anchor="middle" fill="#fff">−0.23</text>
<text x="636.00" y="331.53" font-size="8.63" text-anchor="start" fill="#1a1a1a" stroke="#1a1a1a" stroke-width="0.22">CSF1</text>
<rect x="456.60" y="335.90" width="29.52" height="14.95" fill="#f5ac8c" stroke="#a0a0a0" stroke-width="0.6"/>
<text x="471.96" y="345.68" font-size="6.6" text-anchor="middle" fill="#fff">0.61</text>
<rect x="486.12" y="335.90" width="29.52" height="14.95" fill="#d86755" stroke="#a0a0a0" stroke-width="0.6"/>
<text x="501.48" y="345.68" font-size="6.6" text-anchor="middle" fill="#fff">0.98</text>
<rect x="515.64" y="335.90" width="29.52" height="14.95" fill="#d25b4f" stroke="#a0a0a0" stroke-width="0.6"/>
<text x="531.00" y="345.68" font-size="6.6" text-anchor="middle" fill="#fff">1.04</text>
<rect x="545.16" y="335.90" width="29.52" height="14.95" fill="#97c8e0" stroke="#a0a0a0" stroke-width="0.6"/>
<text x="560.52" y="345.68" font-size="6.6" text-anchor="middle" fill="#fff">−0.75</text>
<rect x="574.68" y="335.90" width="29.52" height="14.95" fill="#387fb9" stroke="#a0a0a0" stroke-width="0.6"/>
<text x="590.04" y="345.68" font-size="6.6" text-anchor="middle" fill="#fff">−1.30</text>
<rect x="604.20" y="335.90" width="29.52" height="14.95" fill="#b5d7e8" stroke="#a0a0a0" stroke-width="0.6"/>
<text x="619.56" y="345.68" font-size="6.6" text-anchor="middle" fill="#fff">−0.58</text>
<text x="636.00" y="346.48" font-size="8.63" text-anchor="start" fill="#1a1a1a" stroke="#1a1a1a" stroke-width="0.22">MMP14</text>
<rect x="456.60" y="350.85" width="29.52" height="14.95" fill="#faccb4" stroke="#a0a0a0" stroke-width="0.6"/>
<text x="471.96" y="360.63" font-size="6.6" text-anchor="middle" fill="#fff">0.40</text>
<rect x="486.12" y="350.85" width="29.52" height="14.95" fill="#ab1e32" stroke="#a0a0a0" stroke-width="0.6"/>
<text x="501.48" y="360.63" font-size="6.6" text-anchor="middle" fill="#fff">1.38</text>
<rect x="515.64" y="350.85" width="29.52" height="14.95" fill="#e5866c" stroke="#a0a0a0" stroke-width="0.6"/>
<text x="531.00" y="360.63" font-size="6.6" text-anchor="middle" fill="#fff">0.82</text>
<rect x="545.16" y="350.85" width="29.52" height="14.95" fill="#82bad8" stroke="#a0a0a0" stroke-width="0.6"/>
<text x="560.52" y="360.63" font-size="6.6" text-anchor="middle" fill="#fff">−0.85</text>
<rect x="574.68" y="350.85" width="29.52" height="14.95" fill="#6eaed2" stroke="#a0a0a0" stroke-width="0.6"/>
<text x="590.04" y="360.63" font-size="6.6" text-anchor="middle" fill="#fff">−0.94</text>
<rect x="604.20" y="350.85" width="29.52" height="14.95" fill="#8bc0db" stroke="#a0a0a0" stroke-width="0.6"/>
<text x="619.56" y="360.63" font-size="6.6" text-anchor="middle" fill="#fff">−0.81</text>
<text x="636.00" y="361.43" font-size="8.63" text-anchor="start" fill="#1a1a1a" stroke="#1a1a1a" stroke-width="0.22">FN1</text>
<rect x="456.60" y="365.80" width="29.52" height="14.95" fill="#f7b799" stroke="#a0a0a0" stroke-width="0.6"/>
<text x="471.96" y="375.58" font-size="6.6" text-anchor="middle" fill="#fff">0.54</text>
<rect x="486.12" y="365.80" width="29.52" height="14.95" fill="#c84745" stroke="#a0a0a0" stroke-width="0.6"/>
<text x="501.48" y="375.58" font-size="6.6" text-anchor="middle" fill="#fff">1.14</text>
<rect x="515.64" y="365.80" width="29.52" height="14.95" fill="#da6b58" stroke="#a0a0a0" stroke-width="0.6"/>
<text x="531.00" y="375.58" font-size="6.6" text-anchor="middle" fill="#fff">0.96</text>
<rect x="545.16" y="365.80" width="29.52" height="14.95" fill="#448fc1" stroke="#a0a0a0" stroke-width="0.6"/>
<text x="560.52" y="375.58" font-size="6.6" text-anchor="middle" fill="#fff">−1.17</text>
<rect x="574.68" y="365.80" width="29.52" height="14.95" fill="#7eb8d7" stroke="#a0a0a0" stroke-width="0.6"/>
<text x="590.04" y="375.58" font-size="6.6" text-anchor="middle" fill="#fff">−0.87</text>
<rect x="604.20" y="365.80" width="29.52" height="14.95" fill="#b1d5e7" stroke="#a0a0a0" stroke-width="0.6"/>
<text x="619.56" y="375.58" font-size="6.6" text-anchor="middle" fill="#fff">−0.60</text>
<text x="636.00" y="376.38" font-size="8.63" text-anchor="start" fill="#1a1a1a" stroke="#1a1a1a" stroke-width="0.22">SMAD3</text>
<rect x="456.60" y="380.75" width="29.52" height="14.95" fill="#cb4d48" stroke="#a0a0a0" stroke-width="0.6"/>
<text x="471.96" y="390.53" font-size="6.6" text-anchor="middle" fill="#fff">1.11</text>
<rect x="486.12" y="380.75" width="29.52" height="14.95" fill="#ea9175" stroke="#a0a0a0" stroke-width="0.6"/>
<text x="501.48" y="390.53" font-size="6.6" text-anchor="middle" fill="#fff">0.76</text>
<rect x="515.64" y="380.75" width="29.52" height="14.95" fill="#e27e66" stroke="#a0a0a0" stroke-width="0.6"/>
<text x="531.00" y="390.53" font-size="6.6" text-anchor="middle" fill="#fff">0.86</text>
<rect x="545.16" y="380.75" width="29.52" height="14.95" fill="#73b1d3" stroke="#a0a0a0" stroke-width="0.6"/>
<text x="560.52" y="390.53" font-size="6.6" text-anchor="middle" fill="#fff">−0.92</text>
<rect x="574.68" y="380.75" width="29.52" height="14.95" fill="#7bb6d6" stroke="#a0a0a0" stroke-width="0.6"/>
<text x="590.04" y="390.53" font-size="6.6" text-anchor="middle" fill="#fff">−0.88</text>
<rect x="604.20" y="380.75" width="29.52" height="14.95" fill="#73b1d3" stroke="#a0a0a0" stroke-width="0.6"/>
<text x="619.56" y="390.53" font-size="6.6" text-anchor="middle" fill="#fff">−0.92</text>
<text x="636.00" y="391.33" font-size="8.63" text-anchor="start" fill="#1a1a1a" stroke="#1a1a1a" stroke-width="0.22">MMP3</text>
<rect x="456.60" y="395.70" width="29.52" height="14.95" fill="#e98f73" stroke="#a0a0a0" stroke-width="0.6"/>
<text x="471.96" y="405.48" font-size="6.6" text-anchor="middle" fill="#fff">0.77</text>
<rect x="486.12" y="395.70" width="29.52" height="14.95" fill="#a11b30" stroke="#a0a0a0" stroke-width="0.6"/>
<text x="501.48" y="405.48" font-size="6.6" text-anchor="middle" fill="#fff">1.43</text>
<rect x="515.64" y="395.70" width="29.52" height="14.95" fill="#fbcfb8" stroke="#a0a0a0" stroke-width="0.6"/>
<text x="531.00" y="405.48" font-size="6.6" text-anchor="middle" fill="#fff">0.38</text>
<rect x="545.16" y="395.70" width="29.52" height="14.95" fill="#66a8cf" stroke="#a0a0a0" stroke-width="0.6"/>
<text x="560.52" y="405.48" font-size="6.6" text-anchor="middle" fill="#fff">−0.98</text>
<rect x="574.68" y="395.70" width="29.52" height="14.95" fill="#97c8e0" stroke="#a0a0a0" stroke-width="0.6"/>
<text x="590.04" y="405.48" font-size="6.6" text-anchor="middle" fill="#fff">−0.75</text>
<rect x="604.20" y="395.70" width="29.52" height="14.95" fill="#82bad8" stroke="#a0a0a0" stroke-width="0.6"/>
<text x="619.56" y="405.48" font-size="6.6" text-anchor="middle" fill="#fff">−0.85</text>
<text x="636.00" y="406.28" font-size="8.63" text-anchor="start" fill="#1a1a1a" stroke="#1a1a1a" stroke-width="0.22">IL6</text>
<text x="471.36" y="420.60" font-size="9.5" text-anchor="middle" fill="#1a1a1a" stroke="#1a1a1a" stroke-width="0.22">1</text>
<text x="500.88" y="420.60" font-size="9.5" text-anchor="middle" fill="#1a1a1a" stroke="#1a1a1a" stroke-width="0.22">2</text>
<text x="530.40" y="420.60" font-size="9.5" text-anchor="middle" fill="#1a1a1a" stroke="#1a1a1a" stroke-width="0.22">3</text>
<text x="559.92" y="420.60" font-size="9.5" text-anchor="middle" fill="#1a1a1a" stroke="#1a1a1a" stroke-width="0.22">1</text>
<text x="589.44" y="420.60" font-size="9.5" text-anchor="middle" fill="#1a1a1a" stroke="#1a1a1a" stroke-width="0.22">2</text>
<text x="618.96" y="420.60" font-size="9.5" text-anchor="middle" fill="#1a1a1a" stroke="#1a1a1a" stroke-width="0.22">3</text>
<polyline points="456.60,223.78 450.00,223.78 450.00,238.73 456.60,238.73" fill="none" stroke="#555" stroke-width="0.8"/>
<polyline points="456.60,268.62 452.50,268.62 452.50,283.57 456.60,283.57" fill="none" stroke="#555" stroke-width="0.8"/>
<polyline points="456.60,253.68 444.20,253.68 444.20,276.10 452.50,276.10" fill="none" stroke="#555" stroke-width="0.8"/>
<polyline points="456.60,298.52 448.80,298.52 448.80,313.48 456.60,313.48" fill="none" stroke="#555" stroke-width="0.8"/>
<polyline points="456.60,358.33 454.60,358.33 454.60,373.27 456.60,373.27" fill="none" stroke="#555" stroke-width="0.8"/>
<polyline points="456.60,343.38 453.40,343.38 453.40,365.80 454.60,365.80" fill="none" stroke="#555" stroke-width="0.8"/>
<polyline points="456.60,388.23 452.40,388.23 452.40,403.18 456.60,403.18" fill="none" stroke="#555" stroke-width="0.8"/>
<polyline points="453.40,354.59 451.40,354.59 451.40,395.70 452.40,395.70" fill="none" stroke="#555" stroke-width="0.8"/>
<polyline points="456.60,328.43 447.40,328.43 447.40,375.14 451.40,375.14" fill="none" stroke="#555" stroke-width="0.8"/>
<polyline points="448.80,306.00 443.30,306.00 443.30,351.78 447.40,351.78" fill="none" stroke="#555" stroke-width="0.8"/>
<polyline points="444.20,264.89 438.40,264.89 438.40,328.89 443.30,328.89" fill="none" stroke="#555" stroke-width="0.8"/>
<polyline points="450.00,231.25 436.70,231.25 436.70,296.89 438.40,296.89" fill="none" stroke="#555" stroke-width="0.8"/>
<rect x="665.20" y="277.50" width="3.80" height="56.90" fill="url(#cbar)"/>
<text x="670.90" y="282.20" font-size="6.9" text-anchor="start" fill="#1a1a1a" stroke="#1a1a1a" stroke-width="0.22">1.5</text>
<text x="670.90" y="290.60" font-size="6.9" text-anchor="start" fill="#1a1a1a" stroke="#1a1a1a" stroke-width="0.22">1</text>
<text x="670.90" y="299.40" font-size="6.9" text-anchor="start" fill="#1a1a1a" stroke="#1a1a1a" stroke-width="0.22">0.5</text>
<text x="670.90" y="308.20" font-size="6.9" text-anchor="start" fill="#1a1a1a" stroke="#1a1a1a" stroke-width="0.22">0</text>
<text x="670.90" y="317.00" font-size="6.9" text-anchor="start" fill="#1a1a1a" stroke="#1a1a1a" stroke-width="0.22">−0.5</text>
<text x="670.90" y="325.20" font-size="6.9" text-anchor="start" fill="#1a1a1a" stroke="#1a1a1a" stroke-width="0.22">−1</text>
<text x="670.90" y="333.60" font-size="6.9" text-anchor="start" fill="#1a1a1a" stroke="#1a1a1a" stroke-width="0.22">−1.5</text>
</svg></body></html>
